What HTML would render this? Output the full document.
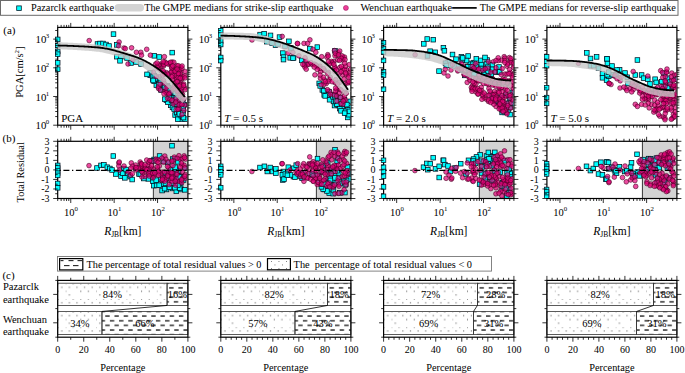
<!DOCTYPE html><html><head><meta charset="utf-8"><style>html,body{margin:0;padding:0;background:#fff;width:685px;height:373px;overflow:hidden}</style></head><body><svg width="685" height="373" viewBox="0 0 685 373" style="font-family:'Liberation Serif',serif;display:block">
<defs>
<style>
.c{fill:#00ffff;stroke:#012;stroke-width:0.75}
.p{fill:rgba(228,0,120,0.7);stroke:rgba(70,0,35,0.9);stroke-width:0.65}
text{fill:#000}
</style>
<clipPath id="ca0"><rect x="54.7" y="27.9" width="132.7" height="96.80000000000001"/></clipPath>
<clipPath id="cb0"><rect x="54.7" y="141.8" width="132.7" height="56.19999999999999"/></clipPath>
<clipPath id="ca1"><rect x="217.8" y="27.9" width="132.59999999999997" height="96.80000000000001"/></clipPath>
<clipPath id="cb1"><rect x="217.8" y="141.8" width="132.59999999999997" height="56.19999999999999"/></clipPath>
<clipPath id="ca2"><rect x="380.6" y="27.9" width="132.79999999999995" height="96.80000000000001"/></clipPath>
<clipPath id="cb2"><rect x="380.6" y="141.8" width="132.79999999999995" height="56.19999999999999"/></clipPath>
<clipPath id="ca3"><rect x="543.9" y="27.9" width="132.5" height="96.80000000000001"/></clipPath>
<clipPath id="cb3"><rect x="543.9" y="141.8" width="132.5" height="56.19999999999999"/></clipPath>
</defs>
<rect width="685" height="373" fill="#fff"/>
<rect x="0.5" y="0.5" width="677.5" height="14.8" fill="#fff" stroke="#6a6a6a" stroke-width="1"/>
<rect x="16.7" y="5.8999999999999995" width="4.6" height="4.6" class="c"/>
<text x="31" y="11.4" font-size="10" text-anchor="start" textLength="83" lengthAdjust="spacingAndGlyphs">Pazarclk earthquake</text>
<line x1="118.3" y1="7.7" x2="140.3" y2="7.7" stroke="#d3d3d3" stroke-width="7.4" stroke-linecap="round"/>
<text x="144.2" y="11.4" font-size="10" text-anchor="start" textLength="189" lengthAdjust="spacingAndGlyphs">The GMPE medians for strike-slip earthquake</text>
<circle cx="345.9" cy="7.9" r="2.5" fill="#ee3d99" stroke="#8a1050" stroke-width="0.5"/>
<text x="360.4" y="11.4" font-size="10" text-anchor="start" textLength="91.8" lengthAdjust="spacingAndGlyphs">Wenchuan earthquake</text>
<line x1="452.2" y1="7.9" x2="476.7" y2="7.9" stroke="#000" stroke-width="1.7" />
<text x="479.7" y="11.4" font-size="10" text-anchor="start" textLength="196.2" lengthAdjust="spacingAndGlyphs">The GMPE medians for reverse-slip earthquake</text>
<text x="3.3" y="33.5" font-size="11" text-anchor="start" >(a)</text>
<text x="2.6" y="142" font-size="11" text-anchor="start" >(b)</text>
<text x="2.4" y="278.5" font-size="11" text-anchor="start" >(c)</text>
<rect x="57.7" y="27.4" width="130.2" height="97.80000000000001" fill="none" stroke="#000" stroke-width="1.2"/>
<g clip-path="url(#ca0)">
<rect x="55.4" y="37.1" width="4.6" height="4.6" class="c"/>
<rect x="55.4" y="43.2" width="4.6" height="4.6" class="c"/>
<rect x="55.4" y="49.2" width="4.6" height="4.6" class="c"/>
<rect x="55.4" y="51.9" width="4.6" height="4.6" class="c"/>
<rect x="55.4" y="60.6" width="4.6" height="4.6" class="c"/>
<rect x="55.4" y="66.9" width="4.6" height="4.6" class="c"/>
<rect x="95.2" y="41.7" width="4.6" height="4.6" class="c"/>
<rect x="97.7" y="41.2" width="4.6" height="4.6" class="c"/>
<rect x="100.7" y="41.2" width="4.6" height="4.6" class="c"/>
<rect x="103.7" y="42.2" width="4.6" height="4.6" class="c"/>
<rect x="106.7" y="43.7" width="4.6" height="4.6" class="c"/>
<rect x="111.2" y="31.8" width="4.6" height="4.6" class="c"/>
<rect x="114.6" y="42.6" width="4.6" height="4.6" class="c"/>
<rect x="114.6" y="54.4" width="4.6" height="4.6" class="c"/>
<rect x="118.7" y="54.4" width="4.6" height="4.6" class="c"/>
<rect x="117.7" y="58.5" width="4.6" height="4.6" class="c"/>
<rect x="169.9" y="50.3" width="4.6" height="4.6" class="c"/>
<rect x="152" y="53.5" width="4.6" height="4.6" class="c"/>
<rect x="156.9" y="54.7" width="4.6" height="4.6" class="c"/>
<rect x="128.7" y="60.7" width="4.6" height="4.6" class="c"/>
<rect x="124.7" y="55.7" width="4.6" height="4.6" class="c"/>
<rect x="133.7" y="59.7" width="4.6" height="4.6" class="c"/>
<rect x="138.7" y="61.7" width="4.6" height="4.6" class="c"/>
<rect x="154.03" y="82.92" width="4.6" height="4.6" class="c"/>
<rect x="181.91" y="102.54" width="4.6" height="4.6" class="c"/>
<rect x="178.9" y="107.25" width="4.6" height="4.6" class="c"/>
<rect x="147.93" y="73.03" width="4.6" height="4.6" class="c"/>
<rect x="169.16" y="88.43" width="4.6" height="4.6" class="c"/>
<rect x="164.1" y="97.97" width="4.6" height="4.6" class="c"/>
<rect x="178.94" y="99" width="4.6" height="4.6" class="c"/>
<rect x="171.43" y="90.98" width="4.6" height="4.6" class="c"/>
<rect x="179.16" y="110.29" width="4.6" height="4.6" class="c"/>
<rect x="150.49" y="76.94" width="4.6" height="4.6" class="c"/>
<rect x="173.34" y="97" width="4.6" height="4.6" class="c"/>
<rect x="168.08" y="93.53" width="4.6" height="4.6" class="c"/>
<rect x="170.92" y="96.01" width="4.6" height="4.6" class="c"/>
<rect x="180.32" y="107.71" width="4.6" height="4.6" class="c"/>
<rect x="148.06" y="70.63" width="4.6" height="4.6" class="c"/>
<rect x="159.09" y="86.37" width="4.6" height="4.6" class="c"/>
<rect x="161.1" y="83.12" width="4.6" height="4.6" class="c"/>
<rect x="179.63" y="116.76" width="4.6" height="4.6" class="c"/>
<rect x="179.38" y="111.92" width="4.6" height="4.6" class="c"/>
<rect x="168.22" y="87.37" width="4.6" height="4.6" class="c"/>
<rect x="176.25" y="95.59" width="4.6" height="4.6" class="c"/>
<rect x="179.52" y="101.92" width="4.6" height="4.6" class="c"/>
<rect x="168.45" y="103.03" width="4.6" height="4.6" class="c"/>
<rect x="171.76" y="105.36" width="4.6" height="4.6" class="c"/>
<rect x="172.81" y="112.69" width="4.6" height="4.6" class="c"/>
<rect x="174.88" y="104.82" width="4.6" height="4.6" class="c"/>
<rect x="162.2" y="85.81" width="4.6" height="4.6" class="c"/>
<rect x="170.21" y="105.09" width="4.6" height="4.6" class="c"/>
<rect x="150.42" y="75.53" width="4.6" height="4.6" class="c"/>
<rect x="182.76" y="116.84" width="4.6" height="4.6" class="c"/>
<rect x="167.36" y="89.93" width="4.6" height="4.6" class="c"/>
<rect x="164.49" y="89.35" width="4.6" height="4.6" class="c"/>
<rect x="153.85" y="75.82" width="4.6" height="4.6" class="c"/>
<rect x="156.47" y="76.96" width="4.6" height="4.6" class="c"/>
<rect x="174.47" y="110.41" width="4.6" height="4.6" class="c"/>
<rect x="150.24" y="73.89" width="4.6" height="4.6" class="c"/>
<rect x="175.85" y="102.72" width="4.6" height="4.6" class="c"/>
<rect x="158.69" y="87.67" width="4.6" height="4.6" class="c"/>
<rect x="172.47" y="98.5" width="4.6" height="4.6" class="c"/>
<rect x="179.88" y="114.59" width="4.6" height="4.6" class="c"/>
<rect x="165.21" y="83.52" width="4.6" height="4.6" class="c"/>
<rect x="165.53" y="99.95" width="4.6" height="4.6" class="c"/>
<rect x="175.86" y="114.5" width="4.6" height="4.6" class="c"/>
<rect x="158.23" y="80.1" width="4.6" height="4.6" class="c"/>
<rect x="177.29" y="106.91" width="4.6" height="4.6" class="c"/>
<rect x="162.18" y="83.59" width="4.6" height="4.6" class="c"/>
<rect x="175.47" y="99.21" width="4.6" height="4.6" class="c"/>
<rect x="151.75" y="79.02" width="4.6" height="4.6" class="c"/>
<rect x="175.51" y="116.97" width="4.6" height="4.6" class="c"/>
<rect x="172.77" y="99.78" width="4.6" height="4.6" class="c"/>
<rect x="153.04" y="76.42" width="4.6" height="4.6" class="c"/>
<rect x="164.36" y="84.27" width="4.6" height="4.6" class="c"/>
<rect x="176.37" y="109.73" width="4.6" height="4.6" class="c"/>
<rect x="144.71" y="72.08" width="4.6" height="4.6" class="c"/>
<rect x="166.41" y="85.25" width="4.6" height="4.6" class="c"/>
<rect x="178.93" y="113.37" width="4.6" height="4.6" class="c"/>
<rect x="162.3" y="84.79" width="4.6" height="4.6" class="c"/>
<rect x="180.53" y="99.43" width="4.6" height="4.6" class="c"/>
<rect x="162.46" y="96.84" width="4.6" height="4.6" class="c"/>
<rect x="174.06" y="95.32" width="4.6" height="4.6" class="c"/>
<rect x="156.39" y="82.39" width="4.6" height="4.6" class="c"/>
<rect x="166.34" y="89.64" width="4.6" height="4.6" class="c"/>
<rect x="176.93" y="103" width="4.6" height="4.6" class="c"/>
<rect x="180.66" y="108.78" width="4.6" height="4.6" class="c"/>
<rect x="180.8" y="106.03" width="4.6" height="4.6" class="c"/>
<rect x="171.87" y="106.98" width="4.6" height="4.6" class="c"/>
<rect x="152.05" y="73.38" width="4.6" height="4.6" class="c"/>
<rect x="179.91" y="113.17" width="4.6" height="4.6" class="c"/>
<rect x="150.84" y="78.14" width="4.6" height="4.6" class="c"/>
<rect x="174.34" y="101.84" width="4.6" height="4.6" class="c"/>
<rect x="177.49" y="101.25" width="4.6" height="4.6" class="c"/>
<rect x="181.16" y="115.32" width="4.6" height="4.6" class="c"/>
<rect x="177.08" y="111.63" width="4.6" height="4.6" class="c"/>
<rect x="169.16" y="97.91" width="4.6" height="4.6" class="c"/>
<rect x="180.52" y="110.83" width="4.6" height="4.6" class="c"/>
<rect x="168.64" y="89.56" width="4.6" height="4.6" class="c"/>
<rect x="165.59" y="87.72" width="4.6" height="4.6" class="c"/>
<rect x="167.09" y="95.6" width="4.6" height="4.6" class="c"/>
<circle cx="89.2" cy="40.6" r="2.35" class="p"/>
<circle cx="119.1" cy="42" r="2.35" class="p"/>
<circle cx="118.6" cy="45.8" r="2.35" class="p"/>
<circle cx="124" cy="48" r="2.35" class="p"/>
<circle cx="125.3" cy="48.6" r="2.35" class="p"/>
<circle cx="131.6" cy="47.8" r="2.35" class="p"/>
<circle cx="136.4" cy="52.3" r="2.35" class="p"/>
<circle cx="140.8" cy="52.3" r="2.35" class="p"/>
<circle cx="146.7" cy="49.3" r="2.35" class="p"/>
<circle cx="141.5" cy="55.2" r="2.35" class="p"/>
<circle cx="150.4" cy="55.2" r="2.35" class="p"/>
<circle cx="164.4" cy="56.7" r="2.35" class="p"/>
<circle cx="133" cy="60" r="2.35" class="p"/>
<circle cx="128" cy="64" r="2.35" class="p"/>
<circle cx="180.66" cy="76.14" r="2.35" class="p"/>
<circle cx="172.04" cy="62.02" r="2.35" class="p"/>
<circle cx="178.36" cy="80.91" r="2.35" class="p"/>
<circle cx="161.31" cy="70.71" r="2.35" class="p"/>
<circle cx="178.26" cy="71.38" r="2.35" class="p"/>
<circle cx="184.81" cy="87.82" r="2.35" class="p"/>
<circle cx="171.78" cy="71.24" r="2.35" class="p"/>
<circle cx="171" cy="65.29" r="2.35" class="p"/>
<circle cx="169.24" cy="63.31" r="2.35" class="p"/>
<circle cx="173.38" cy="70.62" r="2.35" class="p"/>
<circle cx="181.04" cy="79.85" r="2.35" class="p"/>
<circle cx="160.93" cy="64.02" r="2.35" class="p"/>
<circle cx="181.51" cy="92.87" r="2.35" class="p"/>
<circle cx="182.17" cy="78.46" r="2.35" class="p"/>
<circle cx="180.9" cy="71.43" r="2.35" class="p"/>
<circle cx="182.74" cy="76.64" r="2.35" class="p"/>
<circle cx="175.47" cy="70.09" r="2.35" class="p"/>
<circle cx="178.82" cy="68.83" r="2.35" class="p"/>
<circle cx="180.59" cy="67.09" r="2.35" class="p"/>
<circle cx="166.63" cy="72.72" r="2.35" class="p"/>
<circle cx="176.43" cy="67.61" r="2.35" class="p"/>
<circle cx="175.27" cy="76.96" r="2.35" class="p"/>
<circle cx="181.89" cy="84.39" r="2.35" class="p"/>
<circle cx="180.12" cy="73.65" r="2.35" class="p"/>
<circle cx="171.85" cy="68.26" r="2.35" class="p"/>
<circle cx="162.96" cy="63.71" r="2.35" class="p"/>
<circle cx="176.63" cy="65.76" r="2.35" class="p"/>
<circle cx="177.52" cy="74.51" r="2.35" class="p"/>
<circle cx="168.9" cy="74.6" r="2.35" class="p"/>
<circle cx="158.4" cy="68.52" r="2.35" class="p"/>
<circle cx="163.8" cy="72.62" r="2.35" class="p"/>
<circle cx="185.12" cy="89.66" r="2.35" class="p"/>
<circle cx="179.53" cy="89.09" r="2.35" class="p"/>
<circle cx="176.38" cy="79.51" r="2.35" class="p"/>
<circle cx="161.6" cy="65.91" r="2.35" class="p"/>
<circle cx="184.91" cy="75.86" r="2.35" class="p"/>
<circle cx="171.17" cy="72.43" r="2.35" class="p"/>
<circle cx="174.89" cy="75.1" r="2.35" class="p"/>
<circle cx="185.12" cy="71.56" r="2.35" class="p"/>
<circle cx="178.19" cy="77.38" r="2.35" class="p"/>
<circle cx="179.99" cy="84.32" r="2.35" class="p"/>
<circle cx="172.42" cy="75.35" r="2.35" class="p"/>
<circle cx="181.7" cy="88.1" r="2.35" class="p"/>
<circle cx="179.27" cy="70.3" r="2.35" class="p"/>
<circle cx="175.92" cy="82.11" r="2.35" class="p"/>
<circle cx="163.57" cy="65.96" r="2.35" class="p"/>
<circle cx="163.07" cy="70.78" r="2.35" class="p"/>
<circle cx="163.94" cy="64.62" r="2.35" class="p"/>
<circle cx="177.97" cy="85.07" r="2.35" class="p"/>
<circle cx="173.8" cy="62.26" r="2.35" class="p"/>
<circle cx="155.61" cy="64.03" r="2.35" class="p"/>
<circle cx="164.82" cy="61.79" r="2.35" class="p"/>
<circle cx="178.35" cy="73.5" r="2.35" class="p"/>
<circle cx="167.98" cy="64.04" r="2.35" class="p"/>
<circle cx="183.73" cy="84.03" r="2.35" class="p"/>
<circle cx="158.62" cy="65.19" r="2.35" class="p"/>
<circle cx="174.58" cy="83.81" r="2.35" class="p"/>
<circle cx="157.03" cy="67.15" r="2.35" class="p"/>
<circle cx="172.28" cy="79.46" r="2.35" class="p"/>
<circle cx="184.97" cy="77.95" r="2.35" class="p"/>
<circle cx="157.02" cy="62.93" r="2.35" class="p"/>
<circle cx="166.34" cy="63.16" r="2.35" class="p"/>
<circle cx="178.12" cy="65.69" r="2.35" class="p"/>
<circle cx="170.45" cy="62.37" r="2.35" class="p"/>
<circle cx="180.66" cy="91.07" r="2.35" class="p"/>
<circle cx="183.64" cy="85.58" r="2.35" class="p"/>
<circle cx="171.84" cy="76.82" r="2.35" class="p"/>
<circle cx="180.23" cy="78.27" r="2.35" class="p"/>
<circle cx="175.03" cy="71.31" r="2.35" class="p"/>
<circle cx="177.05" cy="69.02" r="2.35" class="p"/>
<circle cx="167.44" cy="73.99" r="2.35" class="p"/>
<circle cx="171.53" cy="66.84" r="2.35" class="p"/>
<circle cx="181.97" cy="68.3" r="2.35" class="p"/>
<circle cx="172.78" cy="65.87" r="2.35" class="p"/>
<circle cx="177.2" cy="81.59" r="2.35" class="p"/>
<circle cx="164.69" cy="74.36" r="2.35" class="p"/>
<circle cx="182.54" cy="94.52" r="2.35" class="p"/>
<circle cx="163.21" cy="61.73" r="2.35" class="p"/>
<circle cx="182.08" cy="66.01" r="2.35" class="p"/>
<circle cx="179.55" cy="85.99" r="2.35" class="p"/>
<circle cx="184.88" cy="105.02" r="2.35" class="p"/>
<circle cx="167.92" cy="86.73" r="2.35" class="p"/>
<circle cx="162.6" cy="75.4" r="2.35" class="p"/>
<circle cx="163.54" cy="80.62" r="2.35" class="p"/>
<circle cx="178.36" cy="92.11" r="2.35" class="p"/>
<circle cx="174.03" cy="86.47" r="2.35" class="p"/>
<circle cx="153.37" cy="72.15" r="2.35" class="p"/>
<circle cx="182.66" cy="100.13" r="2.35" class="p"/>
<circle cx="176.93" cy="90.99" r="2.35" class="p"/>
<circle cx="179.17" cy="95.69" r="2.35" class="p"/>
<circle cx="183.96" cy="98.4" r="2.35" class="p"/>
<circle cx="159.02" cy="76.75" r="2.35" class="p"/>
<circle cx="156.13" cy="76.53" r="2.35" class="p"/>
<circle cx="173.14" cy="88.88" r="2.35" class="p"/>
<circle cx="164.46" cy="83.61" r="2.35" class="p"/>
<circle cx="158.53" cy="88.53" r="2.35" class="p"/>
<circle cx="167.54" cy="98.6" r="2.35" class="p"/>
<circle cx="164.8" cy="91.3" r="2.35" class="p"/>
<circle cx="180.48" cy="103.68" r="2.35" class="p"/>
<circle cx="176.14" cy="109.52" r="2.35" class="p"/>
<circle cx="178.19" cy="100.41" r="2.35" class="p"/>
<circle cx="179.22" cy="108.44" r="2.35" class="p"/>
<circle cx="158.5" cy="86.97" r="2.35" class="p"/>
<circle cx="173.4" cy="104.1" r="2.35" class="p"/>
<circle cx="175.74" cy="98.83" r="2.35" class="p"/>
<circle cx="170.18" cy="99.3" r="2.35" class="p"/>
<circle cx="167.47" cy="93.7" r="2.35" class="p"/>
<circle cx="166.29" cy="92.53" r="2.35" class="p"/>
<circle cx="183.94" cy="110.32" r="2.35" class="p"/>
<circle cx="177.95" cy="109.27" r="2.35" class="p"/>
<circle cx="170.22" cy="92.34" r="2.35" class="p"/>
<circle cx="169.05" cy="94.03" r="2.35" class="p"/>
<circle cx="160.34" cy="90.08" r="2.35" class="p"/>
<circle cx="166.02" cy="88.1" r="2.35" class="p"/>
<circle cx="178.69" cy="104.7" r="2.35" class="p"/>
<circle cx="181.85" cy="104.61" r="2.35" class="p"/>
<circle cx="172.14" cy="100.25" r="2.35" class="p"/>
<circle cx="175.75" cy="102.14" r="2.35" class="p"/>
<circle cx="181.85" cy="114.65" r="2.35" class="p"/>
<circle cx="160" cy="84.15" r="2.35" class="p"/>
<circle cx="163.98" cy="93.76" r="2.35" class="p"/>
</g>
<path d="M57.5,45.7 L58.57,45.73 L59.64,45.77 L60.71,45.81 L61.78,45.85 L62.85,45.89 L63.92,45.93 L64.99,45.98 L66.06,46.03 L67.13,46.08 L68.2,46.13 L69.27,46.18 L70.34,46.24 L71.41,46.3 L72.48,46.36 L73.55,46.41 L74.62,46.48 L75.69,46.54 L76.76,46.6 L77.83,46.67 L78.89,46.73 L79.96,46.8 L81.03,46.86 L82.1,46.93 L83.17,47 L84.24,47.07 L85.31,47.14 L86.38,47.21 L87.45,47.29 L88.52,47.37 L89.59,47.45 L90.66,47.54 L91.73,47.63 L92.8,47.72 L93.87,47.82 L94.94,47.92 L96.01,48.03 L97.08,48.15 L98.15,48.27 L99.22,48.4 L100.29,48.54 L101.36,48.7 L102.43,48.9 L103.5,49.12 L104.57,49.36 L105.64,49.61 L106.71,49.88 L107.78,50.15 L108.85,50.42 L109.92,50.68 L110.99,50.94 L112.06,51.21 L113.13,51.49 L114.2,51.77 L115.27,52.06 L116.34,52.35 L117.41,52.65 L118.48,52.96 L119.55,53.27 L120.62,53.58 L121.68,53.89 L122.75,54.21 L123.82,54.53 L124.89,54.86 L125.96,55.19 L127.03,55.54 L128.1,55.91 L129.17,56.29 L130.24,56.69 L131.31,57.12 L132.38,57.56 L133.45,58.02 L134.52,58.5 L135.59,59.01 L136.66,59.53 L137.73,60.08 L138.8,60.64 L139.87,61.23 L140.94,61.84 L142.01,62.51 L143.08,63.21 L144.15,63.94 L145.22,64.69 L146.29,65.47 L147.36,66.25 L148.43,67.04 L149.5,67.83 L150.57,68.62 L151.64,69.41 L152.71,70.22 L153.78,71.04 L154.85,71.87 L155.92,72.71 L156.99,73.56 L158.06,74.41 L159.13,75.28 L160.2,76.14 L161.27,77.01 L162.34,77.88 L163.41,78.75 L164.47,79.64 L165.54,80.55 L166.61,81.48 L167.68,82.45 L168.75,83.45 L169.82,84.51 L170.89,85.63 L171.96,86.79 L173.03,87.98 L174.1,89.18 L175.17,90.38 L176.24,91.57 L177.31,92.72 L178.38,93.85 L179.45,94.97 L180.52,96.09 L181.59,97.2 L182.66,98.31 L183.73,99.41 L184.8,100.5" fill="none" stroke="rgba(200,200,200,0.8)" stroke-width="7" stroke-linecap="butt"/>
<path d="M57.5,45.5 L58.57,45.52 L59.64,45.54 L60.71,45.57 L61.78,45.59 L62.85,45.62 L63.92,45.65 L64.99,45.69 L66.06,45.72 L67.13,45.76 L68.2,45.79 L69.27,45.83 L70.34,45.88 L71.41,45.92 L72.48,45.96 L73.55,46.01 L74.62,46.05 L75.69,46.1 L76.76,46.15 L77.83,46.2 L78.89,46.25 L79.96,46.3 L81.03,46.35 L82.1,46.4 L83.17,46.46 L84.24,46.51 L85.31,46.57 L86.38,46.63 L87.45,46.7 L88.52,46.76 L89.59,46.83 L90.66,46.9 L91.73,46.98 L92.8,47.06 L93.87,47.14 L94.94,47.23 L96.01,47.32 L97.08,47.42 L98.15,47.52 L99.22,47.62 L100.29,47.73 L101.36,47.86 L102.43,48 L103.5,48.17 L104.57,48.34 L105.64,48.53 L106.71,48.74 L107.78,48.95 L108.85,49.16 L109.92,49.38 L110.99,49.62 L112.06,49.87 L113.13,50.14 L114.2,50.43 L115.27,50.73 L116.34,51.04 L117.41,51.35 L118.48,51.66 L119.55,51.97 L120.62,52.28 L121.68,52.58 L122.75,52.89 L123.82,53.2 L124.89,53.52 L125.96,53.84 L127.03,54.17 L128.1,54.5 L129.17,54.83 L130.24,55.18 L131.31,55.52 L132.38,55.87 L133.45,56.22 L134.52,56.57 L135.59,56.94 L136.66,57.32 L137.73,57.71 L138.8,58.12 L139.87,58.55 L140.94,59 L142.01,59.48 L143.08,59.99 L144.15,60.52 L145.22,61.07 L146.29,61.63 L147.36,62.22 L148.43,62.81 L149.5,63.41 L150.57,64.03 L151.64,64.66 L152.71,65.3 L153.78,65.96 L154.85,66.65 L155.92,67.35 L156.99,68.08 L158.06,68.83 L159.13,69.6 L160.2,70.4 L161.27,71.22 L162.34,72.08 L163.41,72.97 L164.47,73.88 L165.54,74.83 L166.61,75.81 L167.68,76.81 L168.75,77.85 L169.82,78.94 L170.89,80.09 L171.96,81.28 L173.03,82.51 L174.1,83.78 L175.17,85.06 L176.24,86.35 L177.31,87.65 L178.38,88.94 L179.45,90.24 L180.52,91.56 L181.59,92.9 L182.66,94.25 L183.73,95.62 L184.8,97" fill="none" stroke="#000" stroke-width="1.8"/>
<line x1="57.7" y1="27.4" x2="57.7" y2="24.9" stroke="#000" stroke-width="0.8" />
<line x1="57.7" y1="125.2" x2="57.7" y2="127.7" stroke="#000" stroke-width="0.8" />
<line x1="61.14" y1="27.4" x2="61.14" y2="24.9" stroke="#000" stroke-width="0.8" />
<line x1="61.14" y1="125.2" x2="61.14" y2="127.7" stroke="#000" stroke-width="0.8" />
<line x1="64.04" y1="27.4" x2="64.04" y2="24.9" stroke="#000" stroke-width="0.8" />
<line x1="64.04" y1="125.2" x2="64.04" y2="127.7" stroke="#000" stroke-width="0.8" />
<line x1="66.56" y1="27.4" x2="66.56" y2="24.9" stroke="#000" stroke-width="0.8" />
<line x1="66.56" y1="125.2" x2="66.56" y2="127.7" stroke="#000" stroke-width="0.8" />
<line x1="68.78" y1="27.4" x2="68.78" y2="24.9" stroke="#000" stroke-width="0.8" />
<line x1="68.78" y1="125.2" x2="68.78" y2="127.7" stroke="#000" stroke-width="0.8" />
<line x1="70.76" y1="27.4" x2="70.76" y2="22.9" stroke="#000" stroke-width="0.8" />
<line x1="70.76" y1="125.2" x2="70.76" y2="129.7" stroke="#000" stroke-width="0.8" />
<line x1="83.83" y1="27.4" x2="83.83" y2="24.9" stroke="#000" stroke-width="0.8" />
<line x1="83.83" y1="125.2" x2="83.83" y2="127.7" stroke="#000" stroke-width="0.8" />
<line x1="91.47" y1="27.4" x2="91.47" y2="24.9" stroke="#000" stroke-width="0.8" />
<line x1="91.47" y1="125.2" x2="91.47" y2="127.7" stroke="#000" stroke-width="0.8" />
<line x1="96.89" y1="27.4" x2="96.89" y2="24.9" stroke="#000" stroke-width="0.8" />
<line x1="96.89" y1="125.2" x2="96.89" y2="127.7" stroke="#000" stroke-width="0.8" />
<line x1="101.1" y1="27.4" x2="101.1" y2="24.9" stroke="#000" stroke-width="0.8" />
<line x1="101.1" y1="125.2" x2="101.1" y2="127.7" stroke="#000" stroke-width="0.8" />
<line x1="104.54" y1="27.4" x2="104.54" y2="24.9" stroke="#000" stroke-width="0.8" />
<line x1="104.54" y1="125.2" x2="104.54" y2="127.7" stroke="#000" stroke-width="0.8" />
<line x1="107.44" y1="27.4" x2="107.44" y2="24.9" stroke="#000" stroke-width="0.8" />
<line x1="107.44" y1="125.2" x2="107.44" y2="127.7" stroke="#000" stroke-width="0.8" />
<line x1="109.96" y1="27.4" x2="109.96" y2="24.9" stroke="#000" stroke-width="0.8" />
<line x1="109.96" y1="125.2" x2="109.96" y2="127.7" stroke="#000" stroke-width="0.8" />
<line x1="112.18" y1="27.4" x2="112.18" y2="24.9" stroke="#000" stroke-width="0.8" />
<line x1="112.18" y1="125.2" x2="112.18" y2="127.7" stroke="#000" stroke-width="0.8" />
<line x1="114.16" y1="27.4" x2="114.16" y2="22.9" stroke="#000" stroke-width="0.8" />
<line x1="114.16" y1="125.2" x2="114.16" y2="129.7" stroke="#000" stroke-width="0.8" />
<line x1="127.23" y1="27.4" x2="127.23" y2="24.9" stroke="#000" stroke-width="0.8" />
<line x1="127.23" y1="125.2" x2="127.23" y2="127.7" stroke="#000" stroke-width="0.8" />
<line x1="134.87" y1="27.4" x2="134.87" y2="24.9" stroke="#000" stroke-width="0.8" />
<line x1="134.87" y1="125.2" x2="134.87" y2="127.7" stroke="#000" stroke-width="0.8" />
<line x1="140.29" y1="27.4" x2="140.29" y2="24.9" stroke="#000" stroke-width="0.8" />
<line x1="140.29" y1="125.2" x2="140.29" y2="127.7" stroke="#000" stroke-width="0.8" />
<line x1="144.5" y1="27.4" x2="144.5" y2="24.9" stroke="#000" stroke-width="0.8" />
<line x1="144.5" y1="125.2" x2="144.5" y2="127.7" stroke="#000" stroke-width="0.8" />
<line x1="147.94" y1="27.4" x2="147.94" y2="24.9" stroke="#000" stroke-width="0.8" />
<line x1="147.94" y1="125.2" x2="147.94" y2="127.7" stroke="#000" stroke-width="0.8" />
<line x1="150.84" y1="27.4" x2="150.84" y2="24.9" stroke="#000" stroke-width="0.8" />
<line x1="150.84" y1="125.2" x2="150.84" y2="127.7" stroke="#000" stroke-width="0.8" />
<line x1="153.36" y1="27.4" x2="153.36" y2="24.9" stroke="#000" stroke-width="0.8" />
<line x1="153.36" y1="125.2" x2="153.36" y2="127.7" stroke="#000" stroke-width="0.8" />
<line x1="155.58" y1="27.4" x2="155.58" y2="24.9" stroke="#000" stroke-width="0.8" />
<line x1="155.58" y1="125.2" x2="155.58" y2="127.7" stroke="#000" stroke-width="0.8" />
<line x1="157.56" y1="27.4" x2="157.56" y2="22.9" stroke="#000" stroke-width="0.8" />
<line x1="157.56" y1="125.2" x2="157.56" y2="129.7" stroke="#000" stroke-width="0.8" />
<line x1="170.63" y1="27.4" x2="170.63" y2="24.9" stroke="#000" stroke-width="0.8" />
<line x1="170.63" y1="125.2" x2="170.63" y2="127.7" stroke="#000" stroke-width="0.8" />
<line x1="178.27" y1="27.4" x2="178.27" y2="24.9" stroke="#000" stroke-width="0.8" />
<line x1="178.27" y1="125.2" x2="178.27" y2="127.7" stroke="#000" stroke-width="0.8" />
<line x1="183.69" y1="27.4" x2="183.69" y2="24.9" stroke="#000" stroke-width="0.8" />
<line x1="183.69" y1="125.2" x2="183.69" y2="127.7" stroke="#000" stroke-width="0.8" />
<line x1="187.9" y1="27.4" x2="187.9" y2="24.9" stroke="#000" stroke-width="0.8" />
<line x1="187.9" y1="125.2" x2="187.9" y2="127.7" stroke="#000" stroke-width="0.8" />
<line x1="57.7" y1="125.2" x2="53.2" y2="125.2" stroke="#000" stroke-width="0.8" />
<line x1="187.9" y1="125.2" x2="192.4" y2="125.2" stroke="#000" stroke-width="0.8" />
<line x1="57.7" y1="116.56" x2="55.2" y2="116.56" stroke="#000" stroke-width="0.8" />
<line x1="187.9" y1="116.56" x2="190.4" y2="116.56" stroke="#000" stroke-width="0.8" />
<line x1="57.7" y1="111.51" x2="55.2" y2="111.51" stroke="#000" stroke-width="0.8" />
<line x1="187.9" y1="111.51" x2="190.4" y2="111.51" stroke="#000" stroke-width="0.8" />
<line x1="57.7" y1="107.92" x2="55.2" y2="107.92" stroke="#000" stroke-width="0.8" />
<line x1="187.9" y1="107.92" x2="190.4" y2="107.92" stroke="#000" stroke-width="0.8" />
<line x1="57.7" y1="105.14" x2="55.2" y2="105.14" stroke="#000" stroke-width="0.8" />
<line x1="187.9" y1="105.14" x2="190.4" y2="105.14" stroke="#000" stroke-width="0.8" />
<line x1="57.7" y1="102.87" x2="55.2" y2="102.87" stroke="#000" stroke-width="0.8" />
<line x1="187.9" y1="102.87" x2="190.4" y2="102.87" stroke="#000" stroke-width="0.8" />
<line x1="57.7" y1="100.95" x2="55.2" y2="100.95" stroke="#000" stroke-width="0.8" />
<line x1="187.9" y1="100.95" x2="190.4" y2="100.95" stroke="#000" stroke-width="0.8" />
<line x1="57.7" y1="99.28" x2="55.2" y2="99.28" stroke="#000" stroke-width="0.8" />
<line x1="187.9" y1="99.28" x2="190.4" y2="99.28" stroke="#000" stroke-width="0.8" />
<line x1="57.7" y1="97.82" x2="55.2" y2="97.82" stroke="#000" stroke-width="0.8" />
<line x1="187.9" y1="97.82" x2="190.4" y2="97.82" stroke="#000" stroke-width="0.8" />
<line x1="57.7" y1="96.5" x2="53.2" y2="96.5" stroke="#000" stroke-width="0.8" />
<line x1="187.9" y1="96.5" x2="192.4" y2="96.5" stroke="#000" stroke-width="0.8" />
<line x1="57.7" y1="87.86" x2="55.2" y2="87.86" stroke="#000" stroke-width="0.8" />
<line x1="187.9" y1="87.86" x2="190.4" y2="87.86" stroke="#000" stroke-width="0.8" />
<line x1="57.7" y1="82.81" x2="55.2" y2="82.81" stroke="#000" stroke-width="0.8" />
<line x1="187.9" y1="82.81" x2="190.4" y2="82.81" stroke="#000" stroke-width="0.8" />
<line x1="57.7" y1="79.23" x2="55.2" y2="79.23" stroke="#000" stroke-width="0.8" />
<line x1="187.9" y1="79.23" x2="190.4" y2="79.23" stroke="#000" stroke-width="0.8" />
<line x1="57.7" y1="76.44" x2="55.2" y2="76.44" stroke="#000" stroke-width="0.8" />
<line x1="187.9" y1="76.44" x2="190.4" y2="76.44" stroke="#000" stroke-width="0.8" />
<line x1="57.7" y1="74.17" x2="55.2" y2="74.17" stroke="#000" stroke-width="0.8" />
<line x1="187.9" y1="74.17" x2="190.4" y2="74.17" stroke="#000" stroke-width="0.8" />
<line x1="57.7" y1="72.25" x2="55.2" y2="72.25" stroke="#000" stroke-width="0.8" />
<line x1="187.9" y1="72.25" x2="190.4" y2="72.25" stroke="#000" stroke-width="0.8" />
<line x1="57.7" y1="70.59" x2="55.2" y2="70.59" stroke="#000" stroke-width="0.8" />
<line x1="187.9" y1="70.59" x2="190.4" y2="70.59" stroke="#000" stroke-width="0.8" />
<line x1="57.7" y1="69.12" x2="55.2" y2="69.12" stroke="#000" stroke-width="0.8" />
<line x1="187.9" y1="69.12" x2="190.4" y2="69.12" stroke="#000" stroke-width="0.8" />
<line x1="57.7" y1="67.81" x2="53.2" y2="67.81" stroke="#000" stroke-width="0.8" />
<line x1="187.9" y1="67.81" x2="192.4" y2="67.81" stroke="#000" stroke-width="0.8" />
<line x1="57.7" y1="59.17" x2="55.2" y2="59.17" stroke="#000" stroke-width="0.8" />
<line x1="187.9" y1="59.17" x2="190.4" y2="59.17" stroke="#000" stroke-width="0.8" />
<line x1="57.7" y1="54.11" x2="55.2" y2="54.11" stroke="#000" stroke-width="0.8" />
<line x1="187.9" y1="54.11" x2="190.4" y2="54.11" stroke="#000" stroke-width="0.8" />
<line x1="57.7" y1="50.53" x2="55.2" y2="50.53" stroke="#000" stroke-width="0.8" />
<line x1="187.9" y1="50.53" x2="190.4" y2="50.53" stroke="#000" stroke-width="0.8" />
<line x1="57.7" y1="47.75" x2="55.2" y2="47.75" stroke="#000" stroke-width="0.8" />
<line x1="187.9" y1="47.75" x2="190.4" y2="47.75" stroke="#000" stroke-width="0.8" />
<line x1="57.7" y1="45.47" x2="55.2" y2="45.47" stroke="#000" stroke-width="0.8" />
<line x1="187.9" y1="45.47" x2="190.4" y2="45.47" stroke="#000" stroke-width="0.8" />
<line x1="57.7" y1="43.55" x2="55.2" y2="43.55" stroke="#000" stroke-width="0.8" />
<line x1="187.9" y1="43.55" x2="190.4" y2="43.55" stroke="#000" stroke-width="0.8" />
<line x1="57.7" y1="41.89" x2="55.2" y2="41.89" stroke="#000" stroke-width="0.8" />
<line x1="187.9" y1="41.89" x2="190.4" y2="41.89" stroke="#000" stroke-width="0.8" />
<line x1="57.7" y1="40.42" x2="55.2" y2="40.42" stroke="#000" stroke-width="0.8" />
<line x1="187.9" y1="40.42" x2="190.4" y2="40.42" stroke="#000" stroke-width="0.8" />
<line x1="57.7" y1="39.11" x2="53.2" y2="39.11" stroke="#000" stroke-width="0.8" />
<line x1="187.9" y1="39.11" x2="192.4" y2="39.11" stroke="#000" stroke-width="0.8" />
<line x1="57.7" y1="30.47" x2="55.2" y2="30.47" stroke="#000" stroke-width="0.8" />
<line x1="187.9" y1="30.47" x2="190.4" y2="30.47" stroke="#000" stroke-width="0.8" />
<text x="49.1" y="129.3" font-size="10.8" text-anchor="end" >10<tspan font-size="6.8" dy="-5" dx="-0.7">0</tspan></text>
<text x="49.1" y="100.6" font-size="10.8" text-anchor="end" >10<tspan font-size="6.8" dy="-5" dx="-0.7">1</tspan></text>
<text x="49.1" y="71.91" font-size="10.8" text-anchor="end" >10<tspan font-size="6.8" dy="-5" dx="-0.7">2</tspan></text>
<text x="49.1" y="43.21" font-size="10.8" text-anchor="end" >10<tspan font-size="6.8" dy="-5" dx="-0.7">3</tspan></text>
<text x="61.2" y="121.7" font-size="11" text-anchor="start" >PGA</text>
<rect x="153.36" y="141.3" width="34.54" height="57.19999999999999" fill="#d3d3d3"/>
<line x1="153.36" y1="141.3" x2="153.36" y2="198.5" stroke="#222" stroke-width="0.9" />
<rect x="57.7" y="141.3" width="130.2" height="57.19999999999999" fill="none" stroke="#000" stroke-width="1.2"/>
<g clip-path="url(#cb0)">
<rect x="55.4" y="163.1" width="4.6" height="4.6" class="c"/>
<rect x="55.4" y="165.7" width="4.6" height="4.6" class="c"/>
<rect x="55.4" y="168.3" width="4.6" height="4.6" class="c"/>
<rect x="55.4" y="170.9" width="4.6" height="4.6" class="c"/>
<rect x="55.4" y="173.1" width="4.6" height="4.6" class="c"/>
<rect x="55.4" y="181.2" width="4.6" height="4.6" class="c"/>
<rect x="55.4" y="185.5" width="4.6" height="4.6" class="c"/>
<rect x="94.7" y="165.7" width="4.6" height="4.6" class="c"/>
<rect x="98.7" y="163.1" width="4.6" height="4.6" class="c"/>
<rect x="101.6" y="162.6" width="4.6" height="4.6" class="c"/>
<rect x="105" y="164.9" width="4.6" height="4.6" class="c"/>
<rect x="107.6" y="166.2" width="4.6" height="4.6" class="c"/>
<rect x="111" y="153.7" width="4.6" height="4.6" class="c"/>
<rect x="113.6" y="171.7" width="4.6" height="4.6" class="c"/>
<rect x="118.7" y="173.8" width="4.6" height="4.6" class="c"/>
<rect x="118.7" y="170" width="4.6" height="4.6" class="c"/>
<rect x="169.7" y="143.4" width="4.6" height="4.6" class="c"/>
<rect x="157.3" y="153.7" width="4.6" height="4.6" class="c"/>
<rect x="151.8" y="157.2" width="4.6" height="4.6" class="c"/>
<rect x="146.2" y="175.2" width="4.6" height="4.6" class="c"/>
<rect x="125.6" y="172.6" width="4.6" height="4.6" class="c"/>
<rect x="128.1" y="174.3" width="4.6" height="4.6" class="c"/>
<rect x="136.7" y="171.7" width="4.6" height="4.6" class="c"/>
<rect x="152.2" y="178.6" width="4.6" height="4.6" class="c"/>
<rect x="164.2" y="187.2" width="4.6" height="4.6" class="c"/>
<rect x="178.8" y="187.2" width="4.6" height="4.6" class="c"/>
<rect x="181.3" y="177.7" width="4.6" height="4.6" class="c"/>
<rect x="160.7" y="182" width="4.6" height="4.6" class="c"/>
<rect x="109.7" y="167.7" width="4.6" height="4.6" class="c"/>
<rect x="122.7" y="167.7" width="4.6" height="4.6" class="c"/>
<rect x="175.11" y="178.48" width="4.6" height="4.6" class="c"/>
<rect x="178.33" y="183.65" width="4.6" height="4.6" class="c"/>
<rect x="174.62" y="185.42" width="4.6" height="4.6" class="c"/>
<rect x="150.57" y="178.71" width="4.6" height="4.6" class="c"/>
<rect x="159.79" y="188.24" width="4.6" height="4.6" class="c"/>
<rect x="170.17" y="186.16" width="4.6" height="4.6" class="c"/>
<rect x="162.55" y="174.24" width="4.6" height="4.6" class="c"/>
<rect x="166.77" y="170.98" width="4.6" height="4.6" class="c"/>
<rect x="177.15" y="182.33" width="4.6" height="4.6" class="c"/>
<rect x="174.51" y="176.79" width="4.6" height="4.6" class="c"/>
<rect x="182.59" y="187.56" width="4.6" height="4.6" class="c"/>
<rect x="175.28" y="173.59" width="4.6" height="4.6" class="c"/>
<rect x="151.56" y="183.36" width="4.6" height="4.6" class="c"/>
<rect x="174" y="189.05" width="4.6" height="4.6" class="c"/>
<rect x="158.08" y="177.11" width="4.6" height="4.6" class="c"/>
<rect x="163.54" y="173.49" width="4.6" height="4.6" class="c"/>
<rect x="154.32" y="183.1" width="4.6" height="4.6" class="c"/>
<rect x="162.31" y="186.35" width="4.6" height="4.6" class="c"/>
<rect x="172.31" y="175.95" width="4.6" height="4.6" class="c"/>
<rect x="177.33" y="185.8" width="4.6" height="4.6" class="c"/>
<rect x="160.42" y="175.47" width="4.6" height="4.6" class="c"/>
<rect x="171.63" y="172.5" width="4.6" height="4.6" class="c"/>
<rect x="175.6" y="183" width="4.6" height="4.6" class="c"/>
<rect x="172.5" y="185.31" width="4.6" height="4.6" class="c"/>
<rect x="163.14" y="181.07" width="4.6" height="4.6" class="c"/>
<rect x="151.01" y="171.99" width="4.6" height="4.6" class="c"/>
<rect x="171.1" y="179.12" width="4.6" height="4.6" class="c"/>
<rect x="167.18" y="185" width="4.6" height="4.6" class="c"/>
<rect x="169.82" y="180.77" width="4.6" height="4.6" class="c"/>
<rect x="166.95" y="175.78" width="4.6" height="4.6" class="c"/>
<rect x="153.85" y="177.87" width="4.6" height="4.6" class="c"/>
<rect x="178.13" y="174.38" width="4.6" height="4.6" class="c"/>
<rect x="147.92" y="175.33" width="4.6" height="4.6" class="c"/>
<rect x="156.86" y="182.94" width="4.6" height="4.6" class="c"/>
<rect x="121.38" y="166.57" width="4.6" height="4.6" class="c"/>
<rect x="129.87" y="177.24" width="4.6" height="4.6" class="c"/>
<rect x="122.57" y="175.56" width="4.6" height="4.6" class="c"/>
<rect x="138.03" y="171.95" width="4.6" height="4.6" class="c"/>
<rect x="146.35" y="168.87" width="4.6" height="4.6" class="c"/>
<rect x="145.89" y="176.6" width="4.6" height="4.6" class="c"/>
<rect x="139.17" y="162.99" width="4.6" height="4.6" class="c"/>
<rect x="141.62" y="176.21" width="4.6" height="4.6" class="c"/>
<rect x="133.42" y="165.66" width="4.6" height="4.6" class="c"/>
<rect x="120.32" y="170.89" width="4.6" height="4.6" class="c"/>
<rect x="123.8" y="167.22" width="4.6" height="4.6" class="c"/>
<rect x="147.01" y="166.85" width="4.6" height="4.6" class="c"/>
<rect x="168.33" y="167.33" width="4.6" height="4.6" class="c"/>
<rect x="175.19" y="173.56" width="4.6" height="4.6" class="c"/>
<rect x="166.07" y="172.85" width="4.6" height="4.6" class="c"/>
<rect x="176.36" y="168.78" width="4.6" height="4.6" class="c"/>
<rect x="162.41" y="170.47" width="4.6" height="4.6" class="c"/>
<rect x="170.29" y="174.18" width="4.6" height="4.6" class="c"/>
<rect x="173.77" y="167.34" width="4.6" height="4.6" class="c"/>
<rect x="182.41" y="166.01" width="4.6" height="4.6" class="c"/>
<rect x="176.9" y="174.74" width="4.6" height="4.6" class="c"/>
<rect x="170.37" y="156.73" width="4.6" height="4.6" class="c"/>
<rect x="149.68" y="158.34" width="4.6" height="4.6" class="c"/>
<rect x="172.98" y="156.67" width="4.6" height="4.6" class="c"/>
<rect x="172.91" y="164.94" width="4.6" height="4.6" class="c"/>
<rect x="161" y="159.09" width="4.6" height="4.6" class="c"/>
<rect x="151.53" y="158.46" width="4.6" height="4.6" class="c"/>
<rect x="175.7" y="159.54" width="4.6" height="4.6" class="c"/>
<rect x="173.25" y="171.14" width="4.6" height="4.6" class="c"/>
<rect x="165.53" y="160.16" width="4.6" height="4.6" class="c"/>
<circle cx="89" cy="165.6" r="2.35" class="p"/>
<circle cx="118.8" cy="162.9" r="2.35" class="p"/>
<circle cx="118.8" cy="166" r="2.35" class="p"/>
<circle cx="119.5" cy="170" r="2.35" class="p"/>
<circle cx="164.8" cy="156" r="2.35" class="p"/>
<circle cx="146.7" cy="160" r="2.35" class="p"/>
<circle cx="131.3" cy="162.9" r="2.35" class="p"/>
<circle cx="119.3" cy="162" r="2.35" class="p"/>
<circle cx="124" cy="166" r="2.35" class="p"/>
<circle cx="136" cy="168" r="2.35" class="p"/>
<circle cx="142" cy="166" r="2.35" class="p"/>
<circle cx="128" cy="172" r="2.35" class="p"/>
<circle cx="184.81" cy="178.57" r="2.35" class="p"/>
<circle cx="163.28" cy="180.46" r="2.35" class="p"/>
<circle cx="182.08" cy="165.19" r="2.35" class="p"/>
<circle cx="173.3" cy="173.28" r="2.35" class="p"/>
<circle cx="168.81" cy="173.9" r="2.35" class="p"/>
<circle cx="179.04" cy="181.55" r="2.35" class="p"/>
<circle cx="168.78" cy="167.74" r="2.35" class="p"/>
<circle cx="175.45" cy="185.22" r="2.35" class="p"/>
<circle cx="184.12" cy="155.87" r="2.35" class="p"/>
<circle cx="179.89" cy="159.04" r="2.35" class="p"/>
<circle cx="167.22" cy="172.68" r="2.35" class="p"/>
<circle cx="184.09" cy="165.15" r="2.35" class="p"/>
<circle cx="181.77" cy="182.7" r="2.35" class="p"/>
<circle cx="165.93" cy="159.24" r="2.35" class="p"/>
<circle cx="182.84" cy="158.69" r="2.35" class="p"/>
<circle cx="162.12" cy="172.13" r="2.35" class="p"/>
<circle cx="169.15" cy="176.69" r="2.35" class="p"/>
<circle cx="168.52" cy="162.01" r="2.35" class="p"/>
<circle cx="182.13" cy="178.48" r="2.35" class="p"/>
<circle cx="182.4" cy="171.83" r="2.35" class="p"/>
<circle cx="170.77" cy="180.63" r="2.35" class="p"/>
<circle cx="178.91" cy="155.69" r="2.35" class="p"/>
<circle cx="162.73" cy="177.12" r="2.35" class="p"/>
<circle cx="167.54" cy="166.58" r="2.35" class="p"/>
<circle cx="181.63" cy="179.87" r="2.35" class="p"/>
<circle cx="160.88" cy="173.93" r="2.35" class="p"/>
<circle cx="174.34" cy="157.09" r="2.35" class="p"/>
<circle cx="185.38" cy="174.66" r="2.35" class="p"/>
<circle cx="184.76" cy="176.28" r="2.35" class="p"/>
<circle cx="177.12" cy="158.29" r="2.35" class="p"/>
<circle cx="170.5" cy="172.57" r="2.35" class="p"/>
<circle cx="161.83" cy="158.08" r="2.35" class="p"/>
<circle cx="176.98" cy="172.88" r="2.35" class="p"/>
<circle cx="172.17" cy="181.74" r="2.35" class="p"/>
<circle cx="173.38" cy="176.79" r="2.35" class="p"/>
<circle cx="164.41" cy="178.14" r="2.35" class="p"/>
<circle cx="171.75" cy="176.85" r="2.35" class="p"/>
<circle cx="161.78" cy="180.45" r="2.35" class="p"/>
<circle cx="172.93" cy="165.59" r="2.35" class="p"/>
<circle cx="173.45" cy="160.99" r="2.35" class="p"/>
<circle cx="165.98" cy="179.19" r="2.35" class="p"/>
<circle cx="164.85" cy="181.24" r="2.35" class="p"/>
<circle cx="171.91" cy="178.17" r="2.35" class="p"/>
<circle cx="163.61" cy="162.24" r="2.35" class="p"/>
<circle cx="176.87" cy="174.6" r="2.35" class="p"/>
<circle cx="162.37" cy="179.25" r="2.35" class="p"/>
<circle cx="184.84" cy="167.93" r="2.35" class="p"/>
<circle cx="171.87" cy="172.64" r="2.35" class="p"/>
<circle cx="169.21" cy="184.6" r="2.35" class="p"/>
<circle cx="185.61" cy="159.08" r="2.35" class="p"/>
<circle cx="184.52" cy="157.52" r="2.35" class="p"/>
<circle cx="171.87" cy="161" r="2.35" class="p"/>
<circle cx="164.47" cy="172.02" r="2.35" class="p"/>
<circle cx="167.64" cy="175.92" r="2.35" class="p"/>
<circle cx="176.35" cy="178.99" r="2.35" class="p"/>
<circle cx="181.37" cy="163.06" r="2.35" class="p"/>
<circle cx="180.29" cy="167.25" r="2.35" class="p"/>
<circle cx="175.34" cy="181.23" r="2.35" class="p"/>
<circle cx="158.11" cy="159.7" r="2.35" class="p"/>
<circle cx="145.45" cy="171.68" r="2.35" class="p"/>
<circle cx="152.58" cy="175.06" r="2.35" class="p"/>
<circle cx="150.23" cy="174.47" r="2.35" class="p"/>
<circle cx="157.61" cy="168.98" r="2.35" class="p"/>
<circle cx="155.9" cy="159.21" r="2.35" class="p"/>
<circle cx="154.61" cy="175" r="2.35" class="p"/>
<circle cx="147.8" cy="165.17" r="2.35" class="p"/>
<circle cx="145.03" cy="176.54" r="2.35" class="p"/>
<circle cx="140.14" cy="161.98" r="2.35" class="p"/>
<circle cx="152.77" cy="168.53" r="2.35" class="p"/>
<circle cx="150.02" cy="172.98" r="2.35" class="p"/>
<circle cx="153.07" cy="177.8" r="2.35" class="p"/>
<circle cx="140.86" cy="163.71" r="2.35" class="p"/>
<circle cx="143.46" cy="169.99" r="2.35" class="p"/>
<circle cx="148.96" cy="162.24" r="2.35" class="p"/>
<circle cx="150.22" cy="167.89" r="2.35" class="p"/>
<circle cx="151.53" cy="161.48" r="2.35" class="p"/>
<circle cx="142" cy="168.8" r="2.35" class="p"/>
<circle cx="142.67" cy="172.91" r="2.35" class="p"/>
<circle cx="144.03" cy="166.83" r="2.35" class="p"/>
<circle cx="158.89" cy="173.12" r="2.35" class="p"/>
<circle cx="156.21" cy="161.33" r="2.35" class="p"/>
<circle cx="159.39" cy="165.96" r="2.35" class="p"/>
<circle cx="145.36" cy="168.83" r="2.35" class="p"/>
<circle cx="158.62" cy="171.6" r="2.35" class="p"/>
<circle cx="158.04" cy="162.43" r="2.35" class="p"/>
<circle cx="148.46" cy="172.87" r="2.35" class="p"/>
<circle cx="141.75" cy="171.6" r="2.35" class="p"/>
<circle cx="147.93" cy="169.59" r="2.35" class="p"/>
<circle cx="152.49" cy="173.23" r="2.35" class="p"/>
<circle cx="158.5" cy="175.15" r="2.35" class="p"/>
<circle cx="151.56" cy="165.78" r="2.35" class="p"/>
<circle cx="154.82" cy="172.9" r="2.35" class="p"/>
<circle cx="140.88" cy="166.17" r="2.35" class="p"/>
<circle cx="157.35" cy="166.84" r="2.35" class="p"/>
<circle cx="130.4" cy="175.11" r="2.35" class="p"/>
<circle cx="141.74" cy="164.04" r="2.35" class="p"/>
<circle cx="145.04" cy="164.75" r="2.35" class="p"/>
<circle cx="138.4" cy="168.12" r="2.35" class="p"/>
<circle cx="149.11" cy="176.05" r="2.35" class="p"/>
<circle cx="135.57" cy="165.01" r="2.35" class="p"/>
<circle cx="146.76" cy="169.63" r="2.35" class="p"/>
<circle cx="141.86" cy="176.97" r="2.35" class="p"/>
<circle cx="149.96" cy="160.61" r="2.35" class="p"/>
<circle cx="132.37" cy="173.7" r="2.35" class="p"/>
<circle cx="132.52" cy="166.15" r="2.35" class="p"/>
<circle cx="136" cy="169.92" r="2.35" class="p"/>
<circle cx="131.01" cy="168.12" r="2.35" class="p"/>
<circle cx="136.08" cy="167.52" r="2.35" class="p"/>
</g>
<line x1="57.7" y1="170.3" x2="187.9" y2="170.3" stroke="#000" stroke-width="1.2" stroke-dasharray="6,2.6,1.3,2.6" stroke-dashoffset="-5.7"/>
<line x1="57.7" y1="141.3" x2="57.7" y2="138.8" stroke="#000" stroke-width="0.8" />
<line x1="57.7" y1="198.5" x2="57.7" y2="201" stroke="#000" stroke-width="0.8" />
<line x1="61.14" y1="141.3" x2="61.14" y2="138.8" stroke="#000" stroke-width="0.8" />
<line x1="61.14" y1="198.5" x2="61.14" y2="201" stroke="#000" stroke-width="0.8" />
<line x1="64.04" y1="141.3" x2="64.04" y2="138.8" stroke="#000" stroke-width="0.8" />
<line x1="64.04" y1="198.5" x2="64.04" y2="201" stroke="#000" stroke-width="0.8" />
<line x1="66.56" y1="141.3" x2="66.56" y2="138.8" stroke="#000" stroke-width="0.8" />
<line x1="66.56" y1="198.5" x2="66.56" y2="201" stroke="#000" stroke-width="0.8" />
<line x1="68.78" y1="141.3" x2="68.78" y2="138.8" stroke="#000" stroke-width="0.8" />
<line x1="68.78" y1="198.5" x2="68.78" y2="201" stroke="#000" stroke-width="0.8" />
<line x1="70.76" y1="141.3" x2="70.76" y2="136.8" stroke="#000" stroke-width="0.8" />
<line x1="70.76" y1="198.5" x2="70.76" y2="203" stroke="#000" stroke-width="0.8" />
<line x1="83.83" y1="141.3" x2="83.83" y2="138.8" stroke="#000" stroke-width="0.8" />
<line x1="83.83" y1="198.5" x2="83.83" y2="201" stroke="#000" stroke-width="0.8" />
<line x1="91.47" y1="141.3" x2="91.47" y2="138.8" stroke="#000" stroke-width="0.8" />
<line x1="91.47" y1="198.5" x2="91.47" y2="201" stroke="#000" stroke-width="0.8" />
<line x1="96.89" y1="141.3" x2="96.89" y2="138.8" stroke="#000" stroke-width="0.8" />
<line x1="96.89" y1="198.5" x2="96.89" y2="201" stroke="#000" stroke-width="0.8" />
<line x1="101.1" y1="141.3" x2="101.1" y2="138.8" stroke="#000" stroke-width="0.8" />
<line x1="101.1" y1="198.5" x2="101.1" y2="201" stroke="#000" stroke-width="0.8" />
<line x1="104.54" y1="141.3" x2="104.54" y2="138.8" stroke="#000" stroke-width="0.8" />
<line x1="104.54" y1="198.5" x2="104.54" y2="201" stroke="#000" stroke-width="0.8" />
<line x1="107.44" y1="141.3" x2="107.44" y2="138.8" stroke="#000" stroke-width="0.8" />
<line x1="107.44" y1="198.5" x2="107.44" y2="201" stroke="#000" stroke-width="0.8" />
<line x1="109.96" y1="141.3" x2="109.96" y2="138.8" stroke="#000" stroke-width="0.8" />
<line x1="109.96" y1="198.5" x2="109.96" y2="201" stroke="#000" stroke-width="0.8" />
<line x1="112.18" y1="141.3" x2="112.18" y2="138.8" stroke="#000" stroke-width="0.8" />
<line x1="112.18" y1="198.5" x2="112.18" y2="201" stroke="#000" stroke-width="0.8" />
<line x1="114.16" y1="141.3" x2="114.16" y2="136.8" stroke="#000" stroke-width="0.8" />
<line x1="114.16" y1="198.5" x2="114.16" y2="203" stroke="#000" stroke-width="0.8" />
<line x1="127.23" y1="141.3" x2="127.23" y2="138.8" stroke="#000" stroke-width="0.8" />
<line x1="127.23" y1="198.5" x2="127.23" y2="201" stroke="#000" stroke-width="0.8" />
<line x1="134.87" y1="141.3" x2="134.87" y2="138.8" stroke="#000" stroke-width="0.8" />
<line x1="134.87" y1="198.5" x2="134.87" y2="201" stroke="#000" stroke-width="0.8" />
<line x1="140.29" y1="141.3" x2="140.29" y2="138.8" stroke="#000" stroke-width="0.8" />
<line x1="140.29" y1="198.5" x2="140.29" y2="201" stroke="#000" stroke-width="0.8" />
<line x1="144.5" y1="141.3" x2="144.5" y2="138.8" stroke="#000" stroke-width="0.8" />
<line x1="144.5" y1="198.5" x2="144.5" y2="201" stroke="#000" stroke-width="0.8" />
<line x1="147.94" y1="141.3" x2="147.94" y2="138.8" stroke="#000" stroke-width="0.8" />
<line x1="147.94" y1="198.5" x2="147.94" y2="201" stroke="#000" stroke-width="0.8" />
<line x1="150.84" y1="141.3" x2="150.84" y2="138.8" stroke="#000" stroke-width="0.8" />
<line x1="150.84" y1="198.5" x2="150.84" y2="201" stroke="#000" stroke-width="0.8" />
<line x1="153.36" y1="141.3" x2="153.36" y2="138.8" stroke="#000" stroke-width="0.8" />
<line x1="153.36" y1="198.5" x2="153.36" y2="201" stroke="#000" stroke-width="0.8" />
<line x1="155.58" y1="141.3" x2="155.58" y2="138.8" stroke="#000" stroke-width="0.8" />
<line x1="155.58" y1="198.5" x2="155.58" y2="201" stroke="#000" stroke-width="0.8" />
<line x1="157.56" y1="141.3" x2="157.56" y2="136.8" stroke="#000" stroke-width="0.8" />
<line x1="157.56" y1="198.5" x2="157.56" y2="203" stroke="#000" stroke-width="0.8" />
<line x1="170.63" y1="141.3" x2="170.63" y2="138.8" stroke="#000" stroke-width="0.8" />
<line x1="170.63" y1="198.5" x2="170.63" y2="201" stroke="#000" stroke-width="0.8" />
<line x1="178.27" y1="141.3" x2="178.27" y2="138.8" stroke="#000" stroke-width="0.8" />
<line x1="178.27" y1="198.5" x2="178.27" y2="201" stroke="#000" stroke-width="0.8" />
<line x1="183.69" y1="141.3" x2="183.69" y2="138.8" stroke="#000" stroke-width="0.8" />
<line x1="183.69" y1="198.5" x2="183.69" y2="201" stroke="#000" stroke-width="0.8" />
<line x1="187.9" y1="141.3" x2="187.9" y2="138.8" stroke="#000" stroke-width="0.8" />
<line x1="187.9" y1="198.5" x2="187.9" y2="201" stroke="#000" stroke-width="0.8" />
<line x1="57.7" y1="198.5" x2="53.2" y2="198.5" stroke="#000" stroke-width="0.8" />
<line x1="187.9" y1="198.5" x2="192.4" y2="198.5" stroke="#000" stroke-width="0.8" />
<line x1="57.7" y1="188.97" x2="53.2" y2="188.97" stroke="#000" stroke-width="0.8" />
<line x1="187.9" y1="188.97" x2="192.4" y2="188.97" stroke="#000" stroke-width="0.8" />
<line x1="57.7" y1="179.43" x2="53.2" y2="179.43" stroke="#000" stroke-width="0.8" />
<line x1="187.9" y1="179.43" x2="192.4" y2="179.43" stroke="#000" stroke-width="0.8" />
<line x1="57.7" y1="169.9" x2="53.2" y2="169.9" stroke="#000" stroke-width="0.8" />
<line x1="187.9" y1="169.9" x2="192.4" y2="169.9" stroke="#000" stroke-width="0.8" />
<line x1="57.7" y1="160.37" x2="53.2" y2="160.37" stroke="#000" stroke-width="0.8" />
<line x1="187.9" y1="160.37" x2="192.4" y2="160.37" stroke="#000" stroke-width="0.8" />
<line x1="57.7" y1="150.83" x2="53.2" y2="150.83" stroke="#000" stroke-width="0.8" />
<line x1="187.9" y1="150.83" x2="192.4" y2="150.83" stroke="#000" stroke-width="0.8" />
<line x1="57.7" y1="141.3" x2="53.2" y2="141.3" stroke="#000" stroke-width="0.8" />
<line x1="187.9" y1="141.3" x2="192.4" y2="141.3" stroke="#000" stroke-width="0.8" />
<line x1="57.7" y1="193.73" x2="55.2" y2="193.73" stroke="#000" stroke-width="0.8" />
<line x1="187.9" y1="193.73" x2="190.4" y2="193.73" stroke="#000" stroke-width="0.8" />
<line x1="57.7" y1="184.2" x2="55.2" y2="184.2" stroke="#000" stroke-width="0.8" />
<line x1="187.9" y1="184.2" x2="190.4" y2="184.2" stroke="#000" stroke-width="0.8" />
<line x1="57.7" y1="174.67" x2="55.2" y2="174.67" stroke="#000" stroke-width="0.8" />
<line x1="187.9" y1="174.67" x2="190.4" y2="174.67" stroke="#000" stroke-width="0.8" />
<line x1="57.7" y1="165.13" x2="55.2" y2="165.13" stroke="#000" stroke-width="0.8" />
<line x1="187.9" y1="165.13" x2="190.4" y2="165.13" stroke="#000" stroke-width="0.8" />
<line x1="57.7" y1="155.6" x2="55.2" y2="155.6" stroke="#000" stroke-width="0.8" />
<line x1="187.9" y1="155.6" x2="190.4" y2="155.6" stroke="#000" stroke-width="0.8" />
<line x1="57.7" y1="146.07" x2="55.2" y2="146.07" stroke="#000" stroke-width="0.8" />
<line x1="187.9" y1="146.07" x2="190.4" y2="146.07" stroke="#000" stroke-width="0.8" />
<text x="49.5" y="201.9" font-size="10" text-anchor="end" >-3</text>
<text x="49.5" y="192.37" font-size="10" text-anchor="end" >-2</text>
<text x="49.5" y="182.83" font-size="10" text-anchor="end" >-1</text>
<text x="49.5" y="173.3" font-size="10" text-anchor="end" >0</text>
<text x="49.5" y="163.77" font-size="10" text-anchor="end" >1</text>
<text x="49.5" y="154.23" font-size="10" text-anchor="end" >2</text>
<text x="49.5" y="144.7" font-size="10" text-anchor="end" >3</text>
<text x="71.06" y="216" font-size="10.5" text-anchor="middle" >10<tspan font-size="6.8" dy="-4.6">0</tspan></text>
<text x="114.46" y="216" font-size="10.5" text-anchor="middle" >10<tspan font-size="6.8" dy="-4.6">1</tspan></text>
<text x="157.86" y="216" font-size="10.5" text-anchor="middle" >10<tspan font-size="6.8" dy="-4.6">2</tspan></text>
<text x="122.8" y="234.8" font-size="11.5" text-anchor="middle" ><tspan font-style="italic">R</tspan><tspan font-size="7.5" dy="2.6">JB</tspan><tspan dy="-2.6">[km]</tspan></text>
<rect x="220.8" y="27.4" width="130.09999999999997" height="97.80000000000001" fill="none" stroke="#000" stroke-width="1.2"/>
<g clip-path="url(#ca1)">
<rect x="218.4" y="28.3" width="4.6" height="4.6" class="c"/>
<rect x="218.4" y="32.8" width="4.6" height="4.6" class="c"/>
<rect x="218.4" y="38.8" width="4.6" height="4.6" class="c"/>
<rect x="218.4" y="42.2" width="4.6" height="4.6" class="c"/>
<rect x="218.4" y="55.2" width="4.6" height="4.6" class="c"/>
<rect x="218.4" y="58.3" width="4.6" height="4.6" class="c"/>
<rect x="257.8" y="32.3" width="4.6" height="4.6" class="c"/>
<rect x="261.8" y="31.4" width="4.6" height="4.6" class="c"/>
<rect x="268.2" y="33.1" width="4.6" height="4.6" class="c"/>
<rect x="264.5" y="39.4" width="4.6" height="4.6" class="c"/>
<rect x="273.2" y="42.8" width="4.6" height="4.6" class="c"/>
<rect x="277.2" y="34.8" width="4.6" height="4.6" class="c"/>
<rect x="286.6" y="39" width="4.6" height="4.6" class="c"/>
<rect x="280.6" y="50.8" width="4.6" height="4.6" class="c"/>
<rect x="281.2" y="54.8" width="4.6" height="4.6" class="c"/>
<rect x="281.2" y="57.3" width="4.6" height="4.6" class="c"/>
<rect x="287.9" y="55.5" width="4.6" height="4.6" class="c"/>
<rect x="291.3" y="55.5" width="4.6" height="4.6" class="c"/>
<rect x="269.7" y="40.7" width="4.6" height="4.6" class="c"/>
<rect x="275.7" y="41.7" width="4.6" height="4.6" class="c"/>
<rect x="282.7" y="43.7" width="4.6" height="4.6" class="c"/>
<rect x="288.7" y="45.7" width="4.6" height="4.6" class="c"/>
<rect x="315" y="44.8" width="4.6" height="4.6" class="c"/>
<rect x="307.6" y="46.3" width="4.6" height="4.6" class="c"/>
<rect x="290.7" y="55.9" width="4.6" height="4.6" class="c"/>
<rect x="299.5" y="58.1" width="4.6" height="4.6" class="c"/>
<rect x="302.5" y="61.8" width="4.6" height="4.6" class="c"/>
<rect x="332.7" y="48.5" width="4.6" height="4.6" class="c"/>
<rect x="321.9" y="92.6" width="4.6" height="4.6" class="c"/>
<rect x="326.6" y="92.6" width="4.6" height="4.6" class="c"/>
<rect x="343.97" y="110.49" width="4.6" height="4.6" class="c"/>
<rect x="345.56" y="115.15" width="4.6" height="4.6" class="c"/>
<rect x="342.19" y="97.62" width="4.6" height="4.6" class="c"/>
<rect x="347.97" y="99.08" width="4.6" height="4.6" class="c"/>
<rect x="338.98" y="99.6" width="4.6" height="4.6" class="c"/>
<rect x="336.79" y="96.11" width="4.6" height="4.6" class="c"/>
<rect x="339.34" y="96.9" width="4.6" height="4.6" class="c"/>
<rect x="339.84" y="106.49" width="4.6" height="4.6" class="c"/>
<rect x="346.8" y="111.2" width="4.6" height="4.6" class="c"/>
<rect x="326.71" y="89.34" width="4.6" height="4.6" class="c"/>
<rect x="332.24" y="103.26" width="4.6" height="4.6" class="c"/>
<rect x="328.36" y="94.1" width="4.6" height="4.6" class="c"/>
<rect x="346.2" y="112.4" width="4.6" height="4.6" class="c"/>
<rect x="328.58" y="96.29" width="4.6" height="4.6" class="c"/>
<rect x="333.05" y="92.44" width="4.6" height="4.6" class="c"/>
<rect x="332.4" y="96.43" width="4.6" height="4.6" class="c"/>
<rect x="336.37" y="98.58" width="4.6" height="4.6" class="c"/>
<rect x="347.31" y="105.2" width="4.6" height="4.6" class="c"/>
<rect x="324.67" y="92.57" width="4.6" height="4.6" class="c"/>
<rect x="334.09" y="100.75" width="4.6" height="4.6" class="c"/>
<rect x="345.5" y="107.61" width="4.6" height="4.6" class="c"/>
<rect x="316.9" y="81.08" width="4.6" height="4.6" class="c"/>
<rect x="336.02" y="103.17" width="4.6" height="4.6" class="c"/>
<rect x="337.93" y="95.18" width="4.6" height="4.6" class="c"/>
<rect x="334.54" y="101.88" width="4.6" height="4.6" class="c"/>
<rect x="330.33" y="92.66" width="4.6" height="4.6" class="c"/>
<rect x="346.89" y="109.09" width="4.6" height="4.6" class="c"/>
<rect x="337.52" y="106.32" width="4.6" height="4.6" class="c"/>
<rect x="342.34" y="109.01" width="4.6" height="4.6" class="c"/>
<rect x="339.53" y="101.74" width="4.6" height="4.6" class="c"/>
<rect x="322.9" y="93.63" width="4.6" height="4.6" class="c"/>
<rect x="331.17" y="99.13" width="4.6" height="4.6" class="c"/>
<rect x="327.26" y="97.45" width="4.6" height="4.6" class="c"/>
<rect x="333.61" y="98.47" width="4.6" height="4.6" class="c"/>
<rect x="320.02" y="87.61" width="4.6" height="4.6" class="c"/>
<rect x="321.38" y="88.36" width="4.6" height="4.6" class="c"/>
<rect x="330.72" y="94.5" width="4.6" height="4.6" class="c"/>
<rect x="338.7" y="108.54" width="4.6" height="4.6" class="c"/>
<rect x="317.88" y="83.62" width="4.6" height="4.6" class="c"/>
<rect x="342.33" y="110.87" width="4.6" height="4.6" class="c"/>
<rect x="344.55" y="102.28" width="4.6" height="4.6" class="c"/>
<rect x="332.39" y="93.54" width="4.6" height="4.6" class="c"/>
<circle cx="252" cy="40" r="2.35" class="p"/>
<circle cx="282.2" cy="36.4" r="2.35" class="p"/>
<circle cx="297.6" cy="43.7" r="2.35" class="p"/>
<circle cx="288.2" cy="53.1" r="2.35" class="p"/>
<circle cx="292.9" cy="52.5" r="2.35" class="p"/>
<circle cx="298.9" cy="55.8" r="2.35" class="p"/>
<circle cx="297.4" cy="43.4" r="2.35" class="p"/>
<circle cx="304" cy="43.4" r="2.35" class="p"/>
<circle cx="307.7" cy="43.4" r="2.35" class="p"/>
<circle cx="309.9" cy="39.8" r="2.35" class="p"/>
<circle cx="312.9" cy="49.3" r="2.35" class="p"/>
<circle cx="315.8" cy="52.3" r="2.35" class="p"/>
<circle cx="321.7" cy="56.7" r="2.35" class="p"/>
<circle cx="327.76" cy="54.67" r="2.35" class="p"/>
<circle cx="349.71" cy="72.39" r="2.35" class="p"/>
<circle cx="335.22" cy="68.41" r="2.35" class="p"/>
<circle cx="342.57" cy="59.91" r="2.35" class="p"/>
<circle cx="342.76" cy="68.45" r="2.35" class="p"/>
<circle cx="346.42" cy="69.77" r="2.35" class="p"/>
<circle cx="339.84" cy="67.41" r="2.35" class="p"/>
<circle cx="334.83" cy="71.3" r="2.35" class="p"/>
<circle cx="337.68" cy="59.98" r="2.35" class="p"/>
<circle cx="336.75" cy="55.32" r="2.35" class="p"/>
<circle cx="342.83" cy="57.28" r="2.35" class="p"/>
<circle cx="326.83" cy="57.23" r="2.35" class="p"/>
<circle cx="334.64" cy="66.88" r="2.35" class="p"/>
<circle cx="348.65" cy="75.1" r="2.35" class="p"/>
<circle cx="334.48" cy="50.61" r="2.35" class="p"/>
<circle cx="333.72" cy="61.43" r="2.35" class="p"/>
<circle cx="328.23" cy="56.22" r="2.35" class="p"/>
<circle cx="344.48" cy="57.04" r="2.35" class="p"/>
<circle cx="331.43" cy="61.35" r="2.35" class="p"/>
<circle cx="344.55" cy="69.65" r="2.35" class="p"/>
<circle cx="342.54" cy="74.92" r="2.35" class="p"/>
<circle cx="345.53" cy="83.39" r="2.35" class="p"/>
<circle cx="334.99" cy="55.87" r="2.35" class="p"/>
<circle cx="332.11" cy="62.86" r="2.35" class="p"/>
<circle cx="341.91" cy="55.75" r="2.35" class="p"/>
<circle cx="338.46" cy="52.83" r="2.35" class="p"/>
<circle cx="341.27" cy="58.34" r="2.35" class="p"/>
<circle cx="339.88" cy="72.93" r="2.35" class="p"/>
<circle cx="333.88" cy="64.23" r="2.35" class="p"/>
<circle cx="350.08" cy="82.66" r="2.35" class="p"/>
<circle cx="346.16" cy="74.6" r="2.35" class="p"/>
<circle cx="343.97" cy="78.97" r="2.35" class="p"/>
<circle cx="345.01" cy="59.62" r="2.35" class="p"/>
<circle cx="329.45" cy="64.05" r="2.35" class="p"/>
<circle cx="341.14" cy="71.69" r="2.35" class="p"/>
<circle cx="336.38" cy="69.92" r="2.35" class="p"/>
<circle cx="328.4" cy="61.7" r="2.35" class="p"/>
<circle cx="339.73" cy="51.03" r="2.35" class="p"/>
<circle cx="345.6" cy="72.93" r="2.35" class="p"/>
<circle cx="348.54" cy="77.2" r="2.35" class="p"/>
<circle cx="345.57" cy="66.12" r="2.35" class="p"/>
<circle cx="335.28" cy="53.27" r="2.35" class="p"/>
<circle cx="341.48" cy="66.38" r="2.35" class="p"/>
<circle cx="338.49" cy="54.83" r="2.35" class="p"/>
<circle cx="350.77" cy="69.3" r="2.35" class="p"/>
<circle cx="339.54" cy="60.37" r="2.35" class="p"/>
<circle cx="347.87" cy="82.94" r="2.35" class="p"/>
<circle cx="349.23" cy="64.64" r="2.35" class="p"/>
<circle cx="344.65" cy="63.15" r="2.35" class="p"/>
<circle cx="348.56" cy="81.33" r="2.35" class="p"/>
<circle cx="309.28" cy="64.14" r="2.35" class="p"/>
<circle cx="317.14" cy="66.76" r="2.35" class="p"/>
<circle cx="343.92" cy="98.76" r="2.35" class="p"/>
<circle cx="320.43" cy="78.13" r="2.35" class="p"/>
<circle cx="312.68" cy="64.58" r="2.35" class="p"/>
<circle cx="345.22" cy="99.89" r="2.35" class="p"/>
<circle cx="320" cy="66.19" r="2.35" class="p"/>
<circle cx="338.86" cy="88.74" r="2.35" class="p"/>
<circle cx="320.53" cy="71.52" r="2.35" class="p"/>
<circle cx="344.81" cy="92.17" r="2.35" class="p"/>
<circle cx="329.41" cy="91.28" r="2.35" class="p"/>
<circle cx="326.27" cy="83.47" r="2.35" class="p"/>
<circle cx="339.24" cy="92.91" r="2.35" class="p"/>
<circle cx="330.21" cy="77.26" r="2.35" class="p"/>
<circle cx="343.07" cy="104.07" r="2.35" class="p"/>
<circle cx="334.08" cy="94.89" r="2.35" class="p"/>
<circle cx="305.95" cy="60.53" r="2.35" class="p"/>
<circle cx="307.36" cy="64.64" r="2.35" class="p"/>
<circle cx="336.81" cy="101.07" r="2.35" class="p"/>
<circle cx="324.45" cy="79.76" r="2.35" class="p"/>
<circle cx="304.44" cy="65.03" r="2.35" class="p"/>
<circle cx="310.9" cy="62.66" r="2.35" class="p"/>
<circle cx="320.05" cy="68.34" r="2.35" class="p"/>
<circle cx="304.85" cy="67.04" r="2.35" class="p"/>
<circle cx="328.35" cy="72.44" r="2.35" class="p"/>
<circle cx="314.48" cy="64.16" r="2.35" class="p"/>
<circle cx="327.73" cy="73.83" r="2.35" class="p"/>
<circle cx="329.91" cy="79.41" r="2.35" class="p"/>
<circle cx="323.96" cy="84.38" r="2.35" class="p"/>
<circle cx="302.8" cy="64.41" r="2.35" class="p"/>
<circle cx="340.97" cy="103.53" r="2.35" class="p"/>
<circle cx="316.27" cy="65.15" r="2.35" class="p"/>
<circle cx="323.47" cy="77.19" r="2.35" class="p"/>
<circle cx="344.24" cy="95.95" r="2.35" class="p"/>
<circle cx="317.15" cy="69.45" r="2.35" class="p"/>
<circle cx="343.23" cy="100.96" r="2.35" class="p"/>
<circle cx="330.36" cy="94.38" r="2.35" class="p"/>
<circle cx="304.99" cy="57.75" r="2.35" class="p"/>
<circle cx="327.36" cy="89.71" r="2.35" class="p"/>
<circle cx="336.63" cy="89.73" r="2.35" class="p"/>
<circle cx="336.58" cy="96.02" r="2.35" class="p"/>
<circle cx="340.9" cy="89.82" r="2.35" class="p"/>
<circle cx="340.55" cy="97.38" r="2.35" class="p"/>
<circle cx="335.33" cy="91.15" r="2.35" class="p"/>
<circle cx="324.43" cy="70.44" r="2.35" class="p"/>
<circle cx="335.05" cy="82.71" r="2.35" class="p"/>
<circle cx="328.42" cy="81.35" r="2.35" class="p"/>
<circle cx="321.15" cy="84.79" r="2.35" class="p"/>
<circle cx="314.91" cy="74.9" r="2.35" class="p"/>
<circle cx="306.24" cy="69.25" r="2.35" class="p"/>
<circle cx="325.28" cy="81.61" r="2.35" class="p"/>
<circle cx="335.75" cy="79.72" r="2.35" class="p"/>
<circle cx="335.61" cy="88.06" r="2.35" class="p"/>
<circle cx="346.3" cy="93.34" r="2.35" class="p"/>
<circle cx="314.23" cy="67.11" r="2.35" class="p"/>
<circle cx="332.14" cy="81.66" r="2.35" class="p"/>
<circle cx="339.29" cy="82.68" r="2.35" class="p"/>
<circle cx="337.31" cy="84.05" r="2.35" class="p"/>
<circle cx="320.02" cy="75.02" r="2.35" class="p"/>
<circle cx="323.63" cy="68.72" r="2.35" class="p"/>
</g>
<path d="M220.5,36 L221.57,36 L222.64,36 L223.71,36.01 L224.79,36.01 L225.86,36.02 L226.93,36.03 L228,36.04 L229.07,36.05 L230.14,36.06 L231.21,36.08 L232.29,36.1 L233.36,36.11 L234.43,36.13 L235.5,36.16 L236.57,36.18 L237.64,36.2 L238.71,36.23 L239.79,36.26 L240.86,36.29 L241.93,36.32 L243,36.35 L244.07,36.38 L245.14,36.42 L246.21,36.46 L247.29,36.5 L248.36,36.54 L249.43,36.58 L250.5,36.62 L251.57,36.7 L252.64,36.82 L253.71,36.96 L254.79,37.13 L255.86,37.33 L256.93,37.54 L258,37.78 L259.07,38.02 L260.14,38.28 L261.21,38.55 L262.29,38.82 L263.36,39.09 L264.43,39.36 L265.5,39.63 L266.57,39.91 L267.64,40.22 L268.71,40.55 L269.79,40.9 L270.86,41.26 L271.93,41.63 L273,42 L274.07,42.38 L275.14,42.75 L276.21,43.12 L277.29,43.5 L278.36,43.89 L279.43,44.29 L280.5,44.69 L281.57,45.1 L282.64,45.52 L283.71,45.96 L284.79,46.41 L285.86,46.88 L286.93,47.38 L288,47.91 L289.07,48.46 L290.14,49.02 L291.21,49.57 L292.29,50.12 L293.36,50.64 L294.43,51.15 L295.5,51.61 L296.57,52.05 L297.64,52.47 L298.71,52.88 L299.79,53.27 L300.86,53.67 L301.93,54.07 L303,54.48 L304.07,54.91 L305.14,55.36 L306.21,55.83 L307.29,56.31 L308.36,56.79 L309.43,57.29 L310.5,57.8 L311.57,58.33 L312.64,58.89 L313.71,59.47 L314.79,60.07 L315.86,60.72 L316.93,61.4 L318,62.12 L319.07,62.88 L320.14,63.66 L321.21,64.47 L322.29,65.31 L323.36,66.16 L324.43,67.03 L325.5,67.91 L326.57,68.82 L327.64,69.76 L328.71,70.74 L329.79,71.76 L330.86,72.82 L331.93,73.92 L333,75.11 L334.07,76.38 L335.14,77.71 L336.21,79.08 L337.29,80.46 L338.36,81.82 L339.43,83.18 L340.5,84.57 L341.57,85.96 L342.64,87.33 L343.71,88.66 L344.79,89.92 L345.86,91.15 L346.93,92.34 L348,93.5" fill="none" stroke="rgba(200,200,200,0.8)" stroke-width="7" stroke-linecap="butt"/>
<path d="M220.5,35.7 L221.57,35.7 L222.64,35.71 L223.71,35.72 L224.79,35.73 L225.86,35.75 L226.93,35.77 L228,35.79 L229.07,35.82 L230.14,35.85 L231.21,35.89 L232.29,35.92 L233.36,35.96 L234.43,36 L235.5,36.05 L236.57,36.09 L237.64,36.14 L238.71,36.19 L239.79,36.24 L240.86,36.29 L241.93,36.35 L243,36.41 L244.07,36.46 L245.14,36.52 L246.21,36.58 L247.29,36.64 L248.36,36.7 L249.43,36.77 L250.5,36.83 L251.57,36.9 L252.64,36.98 L253.71,37.06 L254.79,37.16 L255.86,37.26 L256.93,37.37 L258,37.48 L259.07,37.61 L260.14,37.74 L261.21,37.87 L262.29,38.01 L263.36,38.16 L264.43,38.32 L265.5,38.48 L266.57,38.67 L267.64,38.88 L268.71,39.11 L269.79,39.36 L270.86,39.62 L271.93,39.9 L273,40.18 L274.07,40.46 L275.14,40.74 L276.21,41.02 L277.29,41.32 L278.36,41.62 L279.43,41.94 L280.5,42.26 L281.57,42.59 L282.64,42.93 L283.71,43.28 L284.79,43.63 L285.86,43.99 L286.93,44.36 L288,44.74 L289.07,45.14 L290.14,45.54 L291.21,45.94 L292.29,46.35 L293.36,46.77 L294.43,47.18 L295.5,47.59 L296.57,48.01 L297.64,48.42 L298.71,48.84 L299.79,49.26 L300.86,49.69 L301.93,50.12 L303,50.56 L304.07,51.01 L305.14,51.46 L306.21,51.92 L307.29,52.37 L308.36,52.83 L309.43,53.3 L310.5,53.77 L311.57,54.27 L312.64,54.78 L313.71,55.32 L314.79,55.88 L315.86,56.48 L316.93,57.12 L318,57.78 L319.07,58.48 L320.14,59.21 L321.21,59.96 L322.29,60.74 L323.36,61.54 L324.43,62.36 L325.5,63.19 L326.57,64.06 L327.64,64.95 L328.71,65.87 L329.79,66.83 L330.86,67.82 L331.93,68.84 L333,69.91 L334.07,71.01 L335.14,72.16 L336.21,73.38 L337.29,74.69 L338.36,76.06 L339.43,77.48 L340.5,78.94 L341.57,80.41 L342.64,81.89 L343.71,83.4 L344.79,84.95 L345.86,86.54 L346.93,88.15 L348,89.8" fill="none" stroke="#000" stroke-width="1.8"/>
<line x1="220.8" y1="27.4" x2="220.8" y2="24.9" stroke="#000" stroke-width="0.8" />
<line x1="220.8" y1="125.2" x2="220.8" y2="127.7" stroke="#000" stroke-width="0.8" />
<line x1="224.23" y1="27.4" x2="224.23" y2="24.9" stroke="#000" stroke-width="0.8" />
<line x1="224.23" y1="125.2" x2="224.23" y2="127.7" stroke="#000" stroke-width="0.8" />
<line x1="227.14" y1="27.4" x2="227.14" y2="24.9" stroke="#000" stroke-width="0.8" />
<line x1="227.14" y1="125.2" x2="227.14" y2="127.7" stroke="#000" stroke-width="0.8" />
<line x1="229.65" y1="27.4" x2="229.65" y2="24.9" stroke="#000" stroke-width="0.8" />
<line x1="229.65" y1="125.2" x2="229.65" y2="127.7" stroke="#000" stroke-width="0.8" />
<line x1="231.87" y1="27.4" x2="231.87" y2="24.9" stroke="#000" stroke-width="0.8" />
<line x1="231.87" y1="125.2" x2="231.87" y2="127.7" stroke="#000" stroke-width="0.8" />
<line x1="233.85" y1="27.4" x2="233.85" y2="22.9" stroke="#000" stroke-width="0.8" />
<line x1="233.85" y1="125.2" x2="233.85" y2="129.7" stroke="#000" stroke-width="0.8" />
<line x1="246.91" y1="27.4" x2="246.91" y2="24.9" stroke="#000" stroke-width="0.8" />
<line x1="246.91" y1="125.2" x2="246.91" y2="127.7" stroke="#000" stroke-width="0.8" />
<line x1="254.55" y1="27.4" x2="254.55" y2="24.9" stroke="#000" stroke-width="0.8" />
<line x1="254.55" y1="125.2" x2="254.55" y2="127.7" stroke="#000" stroke-width="0.8" />
<line x1="259.96" y1="27.4" x2="259.96" y2="24.9" stroke="#000" stroke-width="0.8" />
<line x1="259.96" y1="125.2" x2="259.96" y2="127.7" stroke="#000" stroke-width="0.8" />
<line x1="264.17" y1="27.4" x2="264.17" y2="24.9" stroke="#000" stroke-width="0.8" />
<line x1="264.17" y1="125.2" x2="264.17" y2="127.7" stroke="#000" stroke-width="0.8" />
<line x1="267.6" y1="27.4" x2="267.6" y2="24.9" stroke="#000" stroke-width="0.8" />
<line x1="267.6" y1="125.2" x2="267.6" y2="127.7" stroke="#000" stroke-width="0.8" />
<line x1="270.5" y1="27.4" x2="270.5" y2="24.9" stroke="#000" stroke-width="0.8" />
<line x1="270.5" y1="125.2" x2="270.5" y2="127.7" stroke="#000" stroke-width="0.8" />
<line x1="273.02" y1="27.4" x2="273.02" y2="24.9" stroke="#000" stroke-width="0.8" />
<line x1="273.02" y1="125.2" x2="273.02" y2="127.7" stroke="#000" stroke-width="0.8" />
<line x1="275.24" y1="27.4" x2="275.24" y2="24.9" stroke="#000" stroke-width="0.8" />
<line x1="275.24" y1="125.2" x2="275.24" y2="127.7" stroke="#000" stroke-width="0.8" />
<line x1="277.22" y1="27.4" x2="277.22" y2="22.9" stroke="#000" stroke-width="0.8" />
<line x1="277.22" y1="125.2" x2="277.22" y2="129.7" stroke="#000" stroke-width="0.8" />
<line x1="290.28" y1="27.4" x2="290.28" y2="24.9" stroke="#000" stroke-width="0.8" />
<line x1="290.28" y1="125.2" x2="290.28" y2="127.7" stroke="#000" stroke-width="0.8" />
<line x1="297.91" y1="27.4" x2="297.91" y2="24.9" stroke="#000" stroke-width="0.8" />
<line x1="297.91" y1="125.2" x2="297.91" y2="127.7" stroke="#000" stroke-width="0.8" />
<line x1="303.33" y1="27.4" x2="303.33" y2="24.9" stroke="#000" stroke-width="0.8" />
<line x1="303.33" y1="125.2" x2="303.33" y2="127.7" stroke="#000" stroke-width="0.8" />
<line x1="307.53" y1="27.4" x2="307.53" y2="24.9" stroke="#000" stroke-width="0.8" />
<line x1="307.53" y1="125.2" x2="307.53" y2="127.7" stroke="#000" stroke-width="0.8" />
<line x1="310.97" y1="27.4" x2="310.97" y2="24.9" stroke="#000" stroke-width="0.8" />
<line x1="310.97" y1="125.2" x2="310.97" y2="127.7" stroke="#000" stroke-width="0.8" />
<line x1="313.87" y1="27.4" x2="313.87" y2="24.9" stroke="#000" stroke-width="0.8" />
<line x1="313.87" y1="125.2" x2="313.87" y2="127.7" stroke="#000" stroke-width="0.8" />
<line x1="316.39" y1="27.4" x2="316.39" y2="24.9" stroke="#000" stroke-width="0.8" />
<line x1="316.39" y1="125.2" x2="316.39" y2="127.7" stroke="#000" stroke-width="0.8" />
<line x1="318.6" y1="27.4" x2="318.6" y2="24.9" stroke="#000" stroke-width="0.8" />
<line x1="318.6" y1="125.2" x2="318.6" y2="127.7" stroke="#000" stroke-width="0.8" />
<line x1="320.59" y1="27.4" x2="320.59" y2="22.9" stroke="#000" stroke-width="0.8" />
<line x1="320.59" y1="125.2" x2="320.59" y2="129.7" stroke="#000" stroke-width="0.8" />
<line x1="333.64" y1="27.4" x2="333.64" y2="24.9" stroke="#000" stroke-width="0.8" />
<line x1="333.64" y1="125.2" x2="333.64" y2="127.7" stroke="#000" stroke-width="0.8" />
<line x1="341.28" y1="27.4" x2="341.28" y2="24.9" stroke="#000" stroke-width="0.8" />
<line x1="341.28" y1="125.2" x2="341.28" y2="127.7" stroke="#000" stroke-width="0.8" />
<line x1="346.7" y1="27.4" x2="346.7" y2="24.9" stroke="#000" stroke-width="0.8" />
<line x1="346.7" y1="125.2" x2="346.7" y2="127.7" stroke="#000" stroke-width="0.8" />
<line x1="350.9" y1="27.4" x2="350.9" y2="24.9" stroke="#000" stroke-width="0.8" />
<line x1="350.9" y1="125.2" x2="350.9" y2="127.7" stroke="#000" stroke-width="0.8" />
<line x1="220.8" y1="125.2" x2="216.3" y2="125.2" stroke="#000" stroke-width="0.8" />
<line x1="350.9" y1="125.2" x2="355.4" y2="125.2" stroke="#000" stroke-width="0.8" />
<line x1="220.8" y1="116.56" x2="218.3" y2="116.56" stroke="#000" stroke-width="0.8" />
<line x1="350.9" y1="116.56" x2="353.4" y2="116.56" stroke="#000" stroke-width="0.8" />
<line x1="220.8" y1="111.51" x2="218.3" y2="111.51" stroke="#000" stroke-width="0.8" />
<line x1="350.9" y1="111.51" x2="353.4" y2="111.51" stroke="#000" stroke-width="0.8" />
<line x1="220.8" y1="107.92" x2="218.3" y2="107.92" stroke="#000" stroke-width="0.8" />
<line x1="350.9" y1="107.92" x2="353.4" y2="107.92" stroke="#000" stroke-width="0.8" />
<line x1="220.8" y1="105.14" x2="218.3" y2="105.14" stroke="#000" stroke-width="0.8" />
<line x1="350.9" y1="105.14" x2="353.4" y2="105.14" stroke="#000" stroke-width="0.8" />
<line x1="220.8" y1="102.87" x2="218.3" y2="102.87" stroke="#000" stroke-width="0.8" />
<line x1="350.9" y1="102.87" x2="353.4" y2="102.87" stroke="#000" stroke-width="0.8" />
<line x1="220.8" y1="100.95" x2="218.3" y2="100.95" stroke="#000" stroke-width="0.8" />
<line x1="350.9" y1="100.95" x2="353.4" y2="100.95" stroke="#000" stroke-width="0.8" />
<line x1="220.8" y1="99.28" x2="218.3" y2="99.28" stroke="#000" stroke-width="0.8" />
<line x1="350.9" y1="99.28" x2="353.4" y2="99.28" stroke="#000" stroke-width="0.8" />
<line x1="220.8" y1="97.82" x2="218.3" y2="97.82" stroke="#000" stroke-width="0.8" />
<line x1="350.9" y1="97.82" x2="353.4" y2="97.82" stroke="#000" stroke-width="0.8" />
<line x1="220.8" y1="96.5" x2="216.3" y2="96.5" stroke="#000" stroke-width="0.8" />
<line x1="350.9" y1="96.5" x2="355.4" y2="96.5" stroke="#000" stroke-width="0.8" />
<line x1="220.8" y1="87.86" x2="218.3" y2="87.86" stroke="#000" stroke-width="0.8" />
<line x1="350.9" y1="87.86" x2="353.4" y2="87.86" stroke="#000" stroke-width="0.8" />
<line x1="220.8" y1="82.81" x2="218.3" y2="82.81" stroke="#000" stroke-width="0.8" />
<line x1="350.9" y1="82.81" x2="353.4" y2="82.81" stroke="#000" stroke-width="0.8" />
<line x1="220.8" y1="79.23" x2="218.3" y2="79.23" stroke="#000" stroke-width="0.8" />
<line x1="350.9" y1="79.23" x2="353.4" y2="79.23" stroke="#000" stroke-width="0.8" />
<line x1="220.8" y1="76.44" x2="218.3" y2="76.44" stroke="#000" stroke-width="0.8" />
<line x1="350.9" y1="76.44" x2="353.4" y2="76.44" stroke="#000" stroke-width="0.8" />
<line x1="220.8" y1="74.17" x2="218.3" y2="74.17" stroke="#000" stroke-width="0.8" />
<line x1="350.9" y1="74.17" x2="353.4" y2="74.17" stroke="#000" stroke-width="0.8" />
<line x1="220.8" y1="72.25" x2="218.3" y2="72.25" stroke="#000" stroke-width="0.8" />
<line x1="350.9" y1="72.25" x2="353.4" y2="72.25" stroke="#000" stroke-width="0.8" />
<line x1="220.8" y1="70.59" x2="218.3" y2="70.59" stroke="#000" stroke-width="0.8" />
<line x1="350.9" y1="70.59" x2="353.4" y2="70.59" stroke="#000" stroke-width="0.8" />
<line x1="220.8" y1="69.12" x2="218.3" y2="69.12" stroke="#000" stroke-width="0.8" />
<line x1="350.9" y1="69.12" x2="353.4" y2="69.12" stroke="#000" stroke-width="0.8" />
<line x1="220.8" y1="67.81" x2="216.3" y2="67.81" stroke="#000" stroke-width="0.8" />
<line x1="350.9" y1="67.81" x2="355.4" y2="67.81" stroke="#000" stroke-width="0.8" />
<line x1="220.8" y1="59.17" x2="218.3" y2="59.17" stroke="#000" stroke-width="0.8" />
<line x1="350.9" y1="59.17" x2="353.4" y2="59.17" stroke="#000" stroke-width="0.8" />
<line x1="220.8" y1="54.11" x2="218.3" y2="54.11" stroke="#000" stroke-width="0.8" />
<line x1="350.9" y1="54.11" x2="353.4" y2="54.11" stroke="#000" stroke-width="0.8" />
<line x1="220.8" y1="50.53" x2="218.3" y2="50.53" stroke="#000" stroke-width="0.8" />
<line x1="350.9" y1="50.53" x2="353.4" y2="50.53" stroke="#000" stroke-width="0.8" />
<line x1="220.8" y1="47.75" x2="218.3" y2="47.75" stroke="#000" stroke-width="0.8" />
<line x1="350.9" y1="47.75" x2="353.4" y2="47.75" stroke="#000" stroke-width="0.8" />
<line x1="220.8" y1="45.47" x2="218.3" y2="45.47" stroke="#000" stroke-width="0.8" />
<line x1="350.9" y1="45.47" x2="353.4" y2="45.47" stroke="#000" stroke-width="0.8" />
<line x1="220.8" y1="43.55" x2="218.3" y2="43.55" stroke="#000" stroke-width="0.8" />
<line x1="350.9" y1="43.55" x2="353.4" y2="43.55" stroke="#000" stroke-width="0.8" />
<line x1="220.8" y1="41.89" x2="218.3" y2="41.89" stroke="#000" stroke-width="0.8" />
<line x1="350.9" y1="41.89" x2="353.4" y2="41.89" stroke="#000" stroke-width="0.8" />
<line x1="220.8" y1="40.42" x2="218.3" y2="40.42" stroke="#000" stroke-width="0.8" />
<line x1="350.9" y1="40.42" x2="353.4" y2="40.42" stroke="#000" stroke-width="0.8" />
<line x1="220.8" y1="39.11" x2="216.3" y2="39.11" stroke="#000" stroke-width="0.8" />
<line x1="350.9" y1="39.11" x2="355.4" y2="39.11" stroke="#000" stroke-width="0.8" />
<line x1="220.8" y1="30.47" x2="218.3" y2="30.47" stroke="#000" stroke-width="0.8" />
<line x1="350.9" y1="30.47" x2="353.4" y2="30.47" stroke="#000" stroke-width="0.8" />
<text x="212.2" y="129.3" font-size="10.8" text-anchor="end" >10<tspan font-size="6.8" dy="-5" dx="-0.7">0</tspan></text>
<text x="212.2" y="100.6" font-size="10.8" text-anchor="end" >10<tspan font-size="6.8" dy="-5" dx="-0.7">1</tspan></text>
<text x="212.2" y="71.91" font-size="10.8" text-anchor="end" >10<tspan font-size="6.8" dy="-5" dx="-0.7">2</tspan></text>
<text x="212.2" y="43.21" font-size="10.8" text-anchor="end" >10<tspan font-size="6.8" dy="-5" dx="-0.7">3</tspan></text>
<text x="224.3" y="121.7" font-size="11" text-anchor="start" ><tspan font-style="italic">T</tspan> = 0.5 s</text>
<rect x="316.39" y="141.3" width="34.51" height="57.19999999999999" fill="#d3d3d3"/>
<line x1="316.39" y1="141.3" x2="316.39" y2="198.5" stroke="#222" stroke-width="0.9" />
<rect x="220.8" y="141.3" width="130.09999999999997" height="57.19999999999999" fill="none" stroke="#000" stroke-width="1.2"/>
<g clip-path="url(#cb1)">
<rect x="218.4" y="164" width="4.6" height="4.6" class="c"/>
<rect x="218.4" y="166.6" width="4.6" height="4.6" class="c"/>
<rect x="218.4" y="169.7" width="4.6" height="4.6" class="c"/>
<rect x="218.4" y="172.6" width="4.6" height="4.6" class="c"/>
<rect x="218.4" y="185.5" width="4.6" height="4.6" class="c"/>
<rect x="257.7" y="165.2" width="4.6" height="4.6" class="c"/>
<rect x="262.1" y="164" width="4.6" height="4.6" class="c"/>
<rect x="265" y="169.2" width="4.6" height="4.6" class="c"/>
<rect x="267.9" y="165.2" width="4.6" height="4.6" class="c"/>
<rect x="270.2" y="169.2" width="4.6" height="4.6" class="c"/>
<rect x="273.6" y="170.9" width="4.6" height="4.6" class="c"/>
<rect x="273.6" y="166.6" width="4.6" height="4.6" class="c"/>
<rect x="280.5" y="172.6" width="4.6" height="4.6" class="c"/>
<rect x="280.5" y="177.7" width="4.6" height="4.6" class="c"/>
<rect x="281" y="169.2" width="4.6" height="4.6" class="c"/>
<rect x="332.7" y="147.4" width="4.6" height="4.6" class="c"/>
<rect x="315.2" y="156.3" width="4.6" height="4.6" class="c"/>
<rect x="307.4" y="162.3" width="4.6" height="4.6" class="c"/>
<rect x="286" y="164.9" width="4.6" height="4.6" class="c"/>
<rect x="280" y="172.6" width="4.6" height="4.6" class="c"/>
<rect x="281.7" y="176.9" width="4.6" height="4.6" class="c"/>
<rect x="291.1" y="174.3" width="4.6" height="4.6" class="c"/>
<rect x="299.7" y="176" width="4.6" height="4.6" class="c"/>
<rect x="322" y="187.2" width="4.6" height="4.6" class="c"/>
<rect x="326.8" y="188" width="4.6" height="4.6" class="c"/>
<rect x="337.5" y="190.6" width="4.6" height="4.6" class="c"/>
<rect x="342.6" y="190.3" width="4.6" height="4.6" class="c"/>
<rect x="343.5" y="182" width="4.6" height="4.6" class="c"/>
<rect x="329.79" y="182.33" width="4.6" height="4.6" class="c"/>
<rect x="325.56" y="169.84" width="4.6" height="4.6" class="c"/>
<rect x="326.91" y="191" width="4.6" height="4.6" class="c"/>
<rect x="320.21" y="170.05" width="4.6" height="4.6" class="c"/>
<rect x="342.12" y="180.12" width="4.6" height="4.6" class="c"/>
<rect x="307.85" y="171.43" width="4.6" height="4.6" class="c"/>
<rect x="345.94" y="171.12" width="4.6" height="4.6" class="c"/>
<rect x="324.24" y="178.7" width="4.6" height="4.6" class="c"/>
<rect x="336.36" y="171.3" width="4.6" height="4.6" class="c"/>
<rect x="324.63" y="188.68" width="4.6" height="4.6" class="c"/>
<rect x="320.83" y="186.79" width="4.6" height="4.6" class="c"/>
<rect x="326.67" y="173.82" width="4.6" height="4.6" class="c"/>
<rect x="336.72" y="175.24" width="4.6" height="4.6" class="c"/>
<rect x="329.36" y="175.86" width="4.6" height="4.6" class="c"/>
<rect x="346.58" y="176.67" width="4.6" height="4.6" class="c"/>
<rect x="316.4" y="180.16" width="4.6" height="4.6" class="c"/>
<rect x="319.16" y="184.54" width="4.6" height="4.6" class="c"/>
<rect x="327.9" y="178.86" width="4.6" height="4.6" class="c"/>
<rect x="310.27" y="172.9" width="4.6" height="4.6" class="c"/>
<rect x="331.06" y="178.04" width="4.6" height="4.6" class="c"/>
<rect x="330.91" y="191.36" width="4.6" height="4.6" class="c"/>
<rect x="326.14" y="177.54" width="4.6" height="4.6" class="c"/>
<rect x="325.62" y="180.82" width="4.6" height="4.6" class="c"/>
<rect x="315.55" y="173.89" width="4.6" height="4.6" class="c"/>
<rect x="334.05" y="180.63" width="4.6" height="4.6" class="c"/>
<rect x="343.05" y="182.54" width="4.6" height="4.6" class="c"/>
<rect x="331.12" y="187.57" width="4.6" height="4.6" class="c"/>
<rect x="319.63" y="181.61" width="4.6" height="4.6" class="c"/>
<rect x="332.26" y="173.33" width="4.6" height="4.6" class="c"/>
<rect x="344.26" y="178.11" width="4.6" height="4.6" class="c"/>
<rect x="283.03" y="171.76" width="4.6" height="4.6" class="c"/>
<rect x="292.63" y="174.76" width="4.6" height="4.6" class="c"/>
<rect x="285.84" y="171.03" width="4.6" height="4.6" class="c"/>
<rect x="307.28" y="171.38" width="4.6" height="4.6" class="c"/>
<rect x="312.65" y="172.46" width="4.6" height="4.6" class="c"/>
<rect x="291.45" y="165.92" width="4.6" height="4.6" class="c"/>
<rect x="300.7" y="170.51" width="4.6" height="4.6" class="c"/>
<rect x="288.16" y="172.63" width="4.6" height="4.6" class="c"/>
<rect x="309.6" y="171.56" width="4.6" height="4.6" class="c"/>
<rect x="285.1" y="172.98" width="4.6" height="4.6" class="c"/>
<rect x="293.92" y="162.83" width="4.6" height="4.6" class="c"/>
<rect x="297.8" y="174.15" width="4.6" height="4.6" class="c"/>
<rect x="341.34" y="178.95" width="4.6" height="4.6" class="c"/>
<rect x="325.38" y="160.37" width="4.6" height="4.6" class="c"/>
<rect x="332.51" y="175.54" width="4.6" height="4.6" class="c"/>
<rect x="338.01" y="181.17" width="4.6" height="4.6" class="c"/>
<rect x="321.46" y="167.94" width="4.6" height="4.6" class="c"/>
<rect x="328.5" y="171.16" width="4.6" height="4.6" class="c"/>
<rect x="320.8" y="163.56" width="4.6" height="4.6" class="c"/>
<rect x="321.82" y="181.87" width="4.6" height="4.6" class="c"/>
<rect x="335.01" y="168.42" width="4.6" height="4.6" class="c"/>
<rect x="345.2" y="164.44" width="4.6" height="4.6" class="c"/>
<rect x="330.92" y="168.87" width="4.6" height="4.6" class="c"/>
<rect x="334.85" y="158.83" width="4.6" height="4.6" class="c"/>
<rect x="327.78" y="176.04" width="4.6" height="4.6" class="c"/>
<rect x="328.39" y="167.13" width="4.6" height="4.6" class="c"/>
<rect x="328.14" y="178.06" width="4.6" height="4.6" class="c"/>
<rect x="335.22" y="155.5" width="4.6" height="4.6" class="c"/>
<circle cx="251.9" cy="171.5" r="2.35" class="p"/>
<circle cx="281.9" cy="163.7" r="2.35" class="p"/>
<circle cx="309.7" cy="156.9" r="2.35" class="p"/>
<circle cx="297.7" cy="163.7" r="2.35" class="p"/>
<circle cx="303.7" cy="163.7" r="2.35" class="p"/>
<circle cx="282.3" cy="163.7" r="2.35" class="p"/>
<circle cx="290" cy="170" r="2.35" class="p"/>
<circle cx="296" cy="172" r="2.35" class="p"/>
<circle cx="301.01" cy="172.52" r="2.35" class="p"/>
<circle cx="297.15" cy="174.17" r="2.35" class="p"/>
<circle cx="297.33" cy="170.75" r="2.35" class="p"/>
<circle cx="313.03" cy="161.6" r="2.35" class="p"/>
<circle cx="320.01" cy="184.08" r="2.35" class="p"/>
<circle cx="307.81" cy="177.93" r="2.35" class="p"/>
<circle cx="315.76" cy="168.8" r="2.35" class="p"/>
<circle cx="317.23" cy="184.44" r="2.35" class="p"/>
<circle cx="300.67" cy="176.57" r="2.35" class="p"/>
<circle cx="313.41" cy="181.14" r="2.35" class="p"/>
<circle cx="302.82" cy="175.35" r="2.35" class="p"/>
<circle cx="321.65" cy="164.3" r="2.35" class="p"/>
<circle cx="303.91" cy="181.36" r="2.35" class="p"/>
<circle cx="313.57" cy="167.48" r="2.35" class="p"/>
<circle cx="315.04" cy="179.01" r="2.35" class="p"/>
<circle cx="305.73" cy="171.52" r="2.35" class="p"/>
<circle cx="316.99" cy="165.82" r="2.35" class="p"/>
<circle cx="298.49" cy="172.82" r="2.35" class="p"/>
<circle cx="300.39" cy="168.84" r="2.35" class="p"/>
<circle cx="302.79" cy="166.17" r="2.35" class="p"/>
<circle cx="319.45" cy="176.46" r="2.35" class="p"/>
<circle cx="306.12" cy="166.41" r="2.35" class="p"/>
<circle cx="309.03" cy="169.56" r="2.35" class="p"/>
<circle cx="318.07" cy="182.16" r="2.35" class="p"/>
<circle cx="346.73" cy="163.51" r="2.35" class="p"/>
<circle cx="331.61" cy="159.8" r="2.35" class="p"/>
<circle cx="343.3" cy="159.54" r="2.35" class="p"/>
<circle cx="343.73" cy="182.24" r="2.35" class="p"/>
<circle cx="335.28" cy="171.64" r="2.35" class="p"/>
<circle cx="346" cy="184.8" r="2.35" class="p"/>
<circle cx="329.38" cy="182.96" r="2.35" class="p"/>
<circle cx="334.87" cy="193.62" r="2.35" class="p"/>
<circle cx="330.66" cy="168.06" r="2.35" class="p"/>
<circle cx="346.75" cy="175.53" r="2.35" class="p"/>
<circle cx="342.19" cy="176.61" r="2.35" class="p"/>
<circle cx="331.09" cy="152.4" r="2.35" class="p"/>
<circle cx="328.09" cy="165.85" r="2.35" class="p"/>
<circle cx="328.03" cy="157.48" r="2.35" class="p"/>
<circle cx="336.69" cy="165.63" r="2.35" class="p"/>
<circle cx="338.37" cy="165.11" r="2.35" class="p"/>
<circle cx="338.23" cy="178.29" r="2.35" class="p"/>
<circle cx="344.8" cy="151.47" r="2.35" class="p"/>
<circle cx="342.52" cy="166.44" r="2.35" class="p"/>
<circle cx="331.48" cy="154.91" r="2.35" class="p"/>
<circle cx="337.85" cy="181.07" r="2.35" class="p"/>
<circle cx="347.61" cy="173.19" r="2.35" class="p"/>
<circle cx="345.69" cy="153.98" r="2.35" class="p"/>
<circle cx="327.24" cy="169.32" r="2.35" class="p"/>
<circle cx="326.49" cy="163.51" r="2.35" class="p"/>
<circle cx="326.66" cy="186.02" r="2.35" class="p"/>
<circle cx="327.78" cy="174.35" r="2.35" class="p"/>
<circle cx="347.31" cy="170.7" r="2.35" class="p"/>
<circle cx="332.83" cy="187.68" r="2.35" class="p"/>
<circle cx="342.27" cy="156.05" r="2.35" class="p"/>
<circle cx="343.68" cy="171.59" r="2.35" class="p"/>
<circle cx="335.24" cy="168.49" r="2.35" class="p"/>
<circle cx="341.9" cy="192.88" r="2.35" class="p"/>
<circle cx="340" cy="168.73" r="2.35" class="p"/>
<circle cx="331.32" cy="173.92" r="2.35" class="p"/>
<circle cx="336.5" cy="168.83" r="2.35" class="p"/>
<circle cx="333.21" cy="186.32" r="2.35" class="p"/>
<circle cx="337.5" cy="152.06" r="2.35" class="p"/>
<circle cx="338.62" cy="193.35" r="2.35" class="p"/>
<circle cx="334.23" cy="166.8" r="2.35" class="p"/>
<circle cx="344.62" cy="176.01" r="2.35" class="p"/>
<circle cx="337.74" cy="158.17" r="2.35" class="p"/>
<circle cx="338.53" cy="184.35" r="2.35" class="p"/>
<circle cx="327.75" cy="183.72" r="2.35" class="p"/>
<circle cx="343.98" cy="153.47" r="2.35" class="p"/>
<circle cx="338.46" cy="153.71" r="2.35" class="p"/>
<circle cx="334.74" cy="156.1" r="2.35" class="p"/>
<circle cx="339.67" cy="160.51" r="2.35" class="p"/>
<circle cx="343.93" cy="164.56" r="2.35" class="p"/>
<circle cx="344.11" cy="189.67" r="2.35" class="p"/>
<circle cx="329.69" cy="186.86" r="2.35" class="p"/>
<circle cx="345.25" cy="172.97" r="2.35" class="p"/>
<circle cx="328.99" cy="156.15" r="2.35" class="p"/>
<circle cx="333.99" cy="152.26" r="2.35" class="p"/>
<circle cx="334.33" cy="165.37" r="2.35" class="p"/>
<circle cx="332.65" cy="166.91" r="2.35" class="p"/>
<circle cx="346.53" cy="152.3" r="2.35" class="p"/>
<circle cx="338.94" cy="186.24" r="2.35" class="p"/>
<circle cx="344.75" cy="161.03" r="2.35" class="p"/>
<circle cx="334.58" cy="184.87" r="2.35" class="p"/>
<circle cx="346.1" cy="181.88" r="2.35" class="p"/>
<circle cx="326.07" cy="161.1" r="2.35" class="p"/>
<circle cx="325.5" cy="178.29" r="2.35" class="p"/>
<circle cx="314.15" cy="164.6" r="2.35" class="p"/>
<circle cx="315.77" cy="168.06" r="2.35" class="p"/>
<circle cx="300.8" cy="174.62" r="2.35" class="p"/>
<circle cx="322.82" cy="159.78" r="2.35" class="p"/>
<circle cx="309.12" cy="163.57" r="2.35" class="p"/>
<circle cx="307.44" cy="178.06" r="2.35" class="p"/>
<circle cx="308.54" cy="173.49" r="2.35" class="p"/>
<circle cx="310.49" cy="164.27" r="2.35" class="p"/>
<circle cx="315.81" cy="178.1" r="2.35" class="p"/>
<circle cx="310.58" cy="179.23" r="2.35" class="p"/>
<circle cx="321.69" cy="180.99" r="2.35" class="p"/>
<circle cx="323.27" cy="169.3" r="2.35" class="p"/>
<circle cx="302.42" cy="174.08" r="2.35" class="p"/>
<circle cx="320.15" cy="167.46" r="2.35" class="p"/>
<circle cx="313.17" cy="175.56" r="2.35" class="p"/>
<circle cx="312.69" cy="170.78" r="2.35" class="p"/>
<circle cx="317.39" cy="174.86" r="2.35" class="p"/>
<circle cx="316.21" cy="171.04" r="2.35" class="p"/>
<circle cx="319.77" cy="178.2" r="2.35" class="p"/>
<circle cx="313.23" cy="181.32" r="2.35" class="p"/>
<circle cx="323.58" cy="172.79" r="2.35" class="p"/>
<circle cx="321.69" cy="171.54" r="2.35" class="p"/>
<circle cx="321.8" cy="184.18" r="2.35" class="p"/>
<circle cx="312.19" cy="163.33" r="2.35" class="p"/>
<circle cx="307.08" cy="167.25" r="2.35" class="p"/>
<circle cx="325.17" cy="174.16" r="2.35" class="p"/>
<circle cx="322.05" cy="166.75" r="2.35" class="p"/>
<circle cx="323.87" cy="180.12" r="2.35" class="p"/>
<circle cx="304" cy="176.83" r="2.35" class="p"/>
<circle cx="317.28" cy="163.42" r="2.35" class="p"/>
<circle cx="312.33" cy="165.14" r="2.35" class="p"/>
</g>
<line x1="220.8" y1="170.3" x2="350.9" y2="170.3" stroke="#000" stroke-width="1.2" stroke-dasharray="6,2.6,1.3,2.6" stroke-dashoffset="-5.7"/>
<line x1="220.8" y1="141.3" x2="220.8" y2="138.8" stroke="#000" stroke-width="0.8" />
<line x1="220.8" y1="198.5" x2="220.8" y2="201" stroke="#000" stroke-width="0.8" />
<line x1="224.23" y1="141.3" x2="224.23" y2="138.8" stroke="#000" stroke-width="0.8" />
<line x1="224.23" y1="198.5" x2="224.23" y2="201" stroke="#000" stroke-width="0.8" />
<line x1="227.14" y1="141.3" x2="227.14" y2="138.8" stroke="#000" stroke-width="0.8" />
<line x1="227.14" y1="198.5" x2="227.14" y2="201" stroke="#000" stroke-width="0.8" />
<line x1="229.65" y1="141.3" x2="229.65" y2="138.8" stroke="#000" stroke-width="0.8" />
<line x1="229.65" y1="198.5" x2="229.65" y2="201" stroke="#000" stroke-width="0.8" />
<line x1="231.87" y1="141.3" x2="231.87" y2="138.8" stroke="#000" stroke-width="0.8" />
<line x1="231.87" y1="198.5" x2="231.87" y2="201" stroke="#000" stroke-width="0.8" />
<line x1="233.85" y1="141.3" x2="233.85" y2="136.8" stroke="#000" stroke-width="0.8" />
<line x1="233.85" y1="198.5" x2="233.85" y2="203" stroke="#000" stroke-width="0.8" />
<line x1="246.91" y1="141.3" x2="246.91" y2="138.8" stroke="#000" stroke-width="0.8" />
<line x1="246.91" y1="198.5" x2="246.91" y2="201" stroke="#000" stroke-width="0.8" />
<line x1="254.55" y1="141.3" x2="254.55" y2="138.8" stroke="#000" stroke-width="0.8" />
<line x1="254.55" y1="198.5" x2="254.55" y2="201" stroke="#000" stroke-width="0.8" />
<line x1="259.96" y1="141.3" x2="259.96" y2="138.8" stroke="#000" stroke-width="0.8" />
<line x1="259.96" y1="198.5" x2="259.96" y2="201" stroke="#000" stroke-width="0.8" />
<line x1="264.17" y1="141.3" x2="264.17" y2="138.8" stroke="#000" stroke-width="0.8" />
<line x1="264.17" y1="198.5" x2="264.17" y2="201" stroke="#000" stroke-width="0.8" />
<line x1="267.6" y1="141.3" x2="267.6" y2="138.8" stroke="#000" stroke-width="0.8" />
<line x1="267.6" y1="198.5" x2="267.6" y2="201" stroke="#000" stroke-width="0.8" />
<line x1="270.5" y1="141.3" x2="270.5" y2="138.8" stroke="#000" stroke-width="0.8" />
<line x1="270.5" y1="198.5" x2="270.5" y2="201" stroke="#000" stroke-width="0.8" />
<line x1="273.02" y1="141.3" x2="273.02" y2="138.8" stroke="#000" stroke-width="0.8" />
<line x1="273.02" y1="198.5" x2="273.02" y2="201" stroke="#000" stroke-width="0.8" />
<line x1="275.24" y1="141.3" x2="275.24" y2="138.8" stroke="#000" stroke-width="0.8" />
<line x1="275.24" y1="198.5" x2="275.24" y2="201" stroke="#000" stroke-width="0.8" />
<line x1="277.22" y1="141.3" x2="277.22" y2="136.8" stroke="#000" stroke-width="0.8" />
<line x1="277.22" y1="198.5" x2="277.22" y2="203" stroke="#000" stroke-width="0.8" />
<line x1="290.28" y1="141.3" x2="290.28" y2="138.8" stroke="#000" stroke-width="0.8" />
<line x1="290.28" y1="198.5" x2="290.28" y2="201" stroke="#000" stroke-width="0.8" />
<line x1="297.91" y1="141.3" x2="297.91" y2="138.8" stroke="#000" stroke-width="0.8" />
<line x1="297.91" y1="198.5" x2="297.91" y2="201" stroke="#000" stroke-width="0.8" />
<line x1="303.33" y1="141.3" x2="303.33" y2="138.8" stroke="#000" stroke-width="0.8" />
<line x1="303.33" y1="198.5" x2="303.33" y2="201" stroke="#000" stroke-width="0.8" />
<line x1="307.53" y1="141.3" x2="307.53" y2="138.8" stroke="#000" stroke-width="0.8" />
<line x1="307.53" y1="198.5" x2="307.53" y2="201" stroke="#000" stroke-width="0.8" />
<line x1="310.97" y1="141.3" x2="310.97" y2="138.8" stroke="#000" stroke-width="0.8" />
<line x1="310.97" y1="198.5" x2="310.97" y2="201" stroke="#000" stroke-width="0.8" />
<line x1="313.87" y1="141.3" x2="313.87" y2="138.8" stroke="#000" stroke-width="0.8" />
<line x1="313.87" y1="198.5" x2="313.87" y2="201" stroke="#000" stroke-width="0.8" />
<line x1="316.39" y1="141.3" x2="316.39" y2="138.8" stroke="#000" stroke-width="0.8" />
<line x1="316.39" y1="198.5" x2="316.39" y2="201" stroke="#000" stroke-width="0.8" />
<line x1="318.6" y1="141.3" x2="318.6" y2="138.8" stroke="#000" stroke-width="0.8" />
<line x1="318.6" y1="198.5" x2="318.6" y2="201" stroke="#000" stroke-width="0.8" />
<line x1="320.59" y1="141.3" x2="320.59" y2="136.8" stroke="#000" stroke-width="0.8" />
<line x1="320.59" y1="198.5" x2="320.59" y2="203" stroke="#000" stroke-width="0.8" />
<line x1="333.64" y1="141.3" x2="333.64" y2="138.8" stroke="#000" stroke-width="0.8" />
<line x1="333.64" y1="198.5" x2="333.64" y2="201" stroke="#000" stroke-width="0.8" />
<line x1="341.28" y1="141.3" x2="341.28" y2="138.8" stroke="#000" stroke-width="0.8" />
<line x1="341.28" y1="198.5" x2="341.28" y2="201" stroke="#000" stroke-width="0.8" />
<line x1="346.7" y1="141.3" x2="346.7" y2="138.8" stroke="#000" stroke-width="0.8" />
<line x1="346.7" y1="198.5" x2="346.7" y2="201" stroke="#000" stroke-width="0.8" />
<line x1="350.9" y1="141.3" x2="350.9" y2="138.8" stroke="#000" stroke-width="0.8" />
<line x1="350.9" y1="198.5" x2="350.9" y2="201" stroke="#000" stroke-width="0.8" />
<line x1="220.8" y1="198.5" x2="216.3" y2="198.5" stroke="#000" stroke-width="0.8" />
<line x1="350.9" y1="198.5" x2="355.4" y2="198.5" stroke="#000" stroke-width="0.8" />
<line x1="220.8" y1="188.97" x2="216.3" y2="188.97" stroke="#000" stroke-width="0.8" />
<line x1="350.9" y1="188.97" x2="355.4" y2="188.97" stroke="#000" stroke-width="0.8" />
<line x1="220.8" y1="179.43" x2="216.3" y2="179.43" stroke="#000" stroke-width="0.8" />
<line x1="350.9" y1="179.43" x2="355.4" y2="179.43" stroke="#000" stroke-width="0.8" />
<line x1="220.8" y1="169.9" x2="216.3" y2="169.9" stroke="#000" stroke-width="0.8" />
<line x1="350.9" y1="169.9" x2="355.4" y2="169.9" stroke="#000" stroke-width="0.8" />
<line x1="220.8" y1="160.37" x2="216.3" y2="160.37" stroke="#000" stroke-width="0.8" />
<line x1="350.9" y1="160.37" x2="355.4" y2="160.37" stroke="#000" stroke-width="0.8" />
<line x1="220.8" y1="150.83" x2="216.3" y2="150.83" stroke="#000" stroke-width="0.8" />
<line x1="350.9" y1="150.83" x2="355.4" y2="150.83" stroke="#000" stroke-width="0.8" />
<line x1="220.8" y1="141.3" x2="216.3" y2="141.3" stroke="#000" stroke-width="0.8" />
<line x1="350.9" y1="141.3" x2="355.4" y2="141.3" stroke="#000" stroke-width="0.8" />
<line x1="220.8" y1="193.73" x2="218.3" y2="193.73" stroke="#000" stroke-width="0.8" />
<line x1="350.9" y1="193.73" x2="353.4" y2="193.73" stroke="#000" stroke-width="0.8" />
<line x1="220.8" y1="184.2" x2="218.3" y2="184.2" stroke="#000" stroke-width="0.8" />
<line x1="350.9" y1="184.2" x2="353.4" y2="184.2" stroke="#000" stroke-width="0.8" />
<line x1="220.8" y1="174.67" x2="218.3" y2="174.67" stroke="#000" stroke-width="0.8" />
<line x1="350.9" y1="174.67" x2="353.4" y2="174.67" stroke="#000" stroke-width="0.8" />
<line x1="220.8" y1="165.13" x2="218.3" y2="165.13" stroke="#000" stroke-width="0.8" />
<line x1="350.9" y1="165.13" x2="353.4" y2="165.13" stroke="#000" stroke-width="0.8" />
<line x1="220.8" y1="155.6" x2="218.3" y2="155.6" stroke="#000" stroke-width="0.8" />
<line x1="350.9" y1="155.6" x2="353.4" y2="155.6" stroke="#000" stroke-width="0.8" />
<line x1="220.8" y1="146.07" x2="218.3" y2="146.07" stroke="#000" stroke-width="0.8" />
<line x1="350.9" y1="146.07" x2="353.4" y2="146.07" stroke="#000" stroke-width="0.8" />
<text x="212.6" y="201.9" font-size="10" text-anchor="end" >-3</text>
<text x="212.6" y="192.37" font-size="10" text-anchor="end" >-2</text>
<text x="212.6" y="182.83" font-size="10" text-anchor="end" >-1</text>
<text x="212.6" y="173.3" font-size="10" text-anchor="end" >0</text>
<text x="212.6" y="163.77" font-size="10" text-anchor="end" >1</text>
<text x="212.6" y="154.23" font-size="10" text-anchor="end" >2</text>
<text x="212.6" y="144.7" font-size="10" text-anchor="end" >3</text>
<text x="234.15" y="216" font-size="10.5" text-anchor="middle" >10<tspan font-size="6.8" dy="-4.6">0</tspan></text>
<text x="277.52" y="216" font-size="10.5" text-anchor="middle" >10<tspan font-size="6.8" dy="-4.6">1</tspan></text>
<text x="320.89" y="216" font-size="10.5" text-anchor="middle" >10<tspan font-size="6.8" dy="-4.6">2</tspan></text>
<text x="285.85" y="234.8" font-size="11.5" text-anchor="middle" ><tspan font-style="italic">R</tspan><tspan font-size="7.5" dy="2.6">JB</tspan><tspan dy="-2.6">[km]</tspan></text>
<rect x="383.6" y="27.4" width="130.29999999999995" height="97.80000000000001" fill="none" stroke="#000" stroke-width="1.2"/>
<g clip-path="url(#ca2)">
<rect x="381.2" y="40.4" width="4.6" height="4.6" class="c"/>
<rect x="381.2" y="46.3" width="4.6" height="4.6" class="c"/>
<rect x="381.2" y="50" width="4.6" height="4.6" class="c"/>
<rect x="381.2" y="58.1" width="4.6" height="4.6" class="c"/>
<rect x="381.2" y="69.6" width="4.6" height="4.6" class="c"/>
<rect x="381.2" y="72.8" width="4.6" height="4.6" class="c"/>
<rect x="381.2" y="86.9" width="4.6" height="4.6" class="c"/>
<rect x="424.9" y="36.7" width="4.6" height="4.6" class="c"/>
<rect x="431" y="37.4" width="4.6" height="4.6" class="c"/>
<rect x="421.5" y="41.6" width="4.6" height="4.6" class="c"/>
<rect x="427.8" y="48.9" width="4.6" height="4.6" class="c"/>
<rect x="433" y="50" width="4.6" height="4.6" class="c"/>
<rect x="425.2" y="53.6" width="4.6" height="4.6" class="c"/>
<rect x="441.1" y="45.5" width="4.6" height="4.6" class="c"/>
<rect x="442.1" y="48.5" width="4.6" height="4.6" class="c"/>
<rect x="436.7" y="68.8" width="4.6" height="4.6" class="c"/>
<rect x="450.2" y="52.2" width="4.6" height="4.6" class="c"/>
<rect x="453.7" y="56.9" width="4.6" height="4.6" class="c"/>
<rect x="459.1" y="54.4" width="4.6" height="4.6" class="c"/>
<rect x="460.6" y="58.1" width="4.6" height="4.6" class="c"/>
<rect x="471.7" y="60.3" width="4.6" height="4.6" class="c"/>
<rect x="478.3" y="58.1" width="4.6" height="4.6" class="c"/>
<rect x="484.9" y="57.7" width="4.6" height="4.6" class="c"/>
<rect x="484.2" y="61.8" width="4.6" height="4.6" class="c"/>
<rect x="479" y="62.3" width="4.6" height="4.6" class="c"/>
<rect x="479" y="66.2" width="4.6" height="4.6" class="c"/>
<rect x="484.2" y="67" width="4.6" height="4.6" class="c"/>
<rect x="490.1" y="62.5" width="4.6" height="4.6" class="c"/>
<rect x="490.1" y="67" width="4.6" height="4.6" class="c"/>
<rect x="493.8" y="69.9" width="4.6" height="4.6" class="c"/>
<rect x="496.7" y="64.7" width="4.6" height="4.6" class="c"/>
<rect x="496.7" y="69.9" width="4.6" height="4.6" class="c"/>
<rect x="473.9" y="64" width="4.6" height="4.6" class="c"/>
<rect x="465.7" y="64" width="4.6" height="4.6" class="c"/>
<rect x="462.6" y="73.1" width="4.6" height="4.6" class="c"/>
<rect x="506.1" y="109.7" width="4.6" height="4.6" class="c"/>
<rect x="507.7" y="105" width="4.6" height="4.6" class="c"/>
<rect x="496.7" y="100.3" width="4.6" height="4.6" class="c"/>
<rect x="490.5" y="95.7" width="4.6" height="4.6" class="c"/>
<rect x="445.7" y="59.7" width="4.6" height="4.6" class="c"/>
<rect x="452.7" y="63.7" width="4.6" height="4.6" class="c"/>
<rect x="457.7" y="67.7" width="4.6" height="4.6" class="c"/>
<rect x="467.7" y="71.7" width="4.6" height="4.6" class="c"/>
<rect x="465.81" y="53.71" width="4.6" height="4.6" class="c"/>
<rect x="467.93" y="61.06" width="4.6" height="4.6" class="c"/>
<rect x="459.78" y="57.56" width="4.6" height="4.6" class="c"/>
<rect x="497.35" y="69.44" width="4.6" height="4.6" class="c"/>
<rect x="464.31" y="58.22" width="4.6" height="4.6" class="c"/>
<rect x="488.84" y="72.04" width="4.6" height="4.6" class="c"/>
<rect x="473.15" y="69.41" width="4.6" height="4.6" class="c"/>
<rect x="465.28" y="64.53" width="4.6" height="4.6" class="c"/>
<rect x="482.38" y="69.5" width="4.6" height="4.6" class="c"/>
<rect x="470.29" y="61.97" width="4.6" height="4.6" class="c"/>
<rect x="473.99" y="56.46" width="4.6" height="4.6" class="c"/>
<rect x="485.39" y="64.85" width="4.6" height="4.6" class="c"/>
<rect x="478.93" y="66.23" width="4.6" height="4.6" class="c"/>
<rect x="482.7" y="55.16" width="4.6" height="4.6" class="c"/>
<rect x="466.86" y="68.12" width="4.6" height="4.6" class="c"/>
<rect x="485.32" y="69.04" width="4.6" height="4.6" class="c"/>
<rect x="460.31" y="55.65" width="4.6" height="4.6" class="c"/>
<rect x="468.97" y="64.53" width="4.6" height="4.6" class="c"/>
<rect x="503.74" y="105.09" width="4.6" height="4.6" class="c"/>
<rect x="489.04" y="92.43" width="4.6" height="4.6" class="c"/>
<rect x="502.69" y="110.18" width="4.6" height="4.6" class="c"/>
<rect x="490.95" y="94.93" width="4.6" height="4.6" class="c"/>
<rect x="504.33" y="101" width="4.6" height="4.6" class="c"/>
<rect x="496.5" y="98.08" width="4.6" height="4.6" class="c"/>
<rect x="493.54" y="99.04" width="4.6" height="4.6" class="c"/>
<rect x="499.75" y="106.11" width="4.6" height="4.6" class="c"/>
<rect x="501.94" y="107.52" width="4.6" height="4.6" class="c"/>
<rect x="499.79" y="110.13" width="4.6" height="4.6" class="c"/>
<rect x="510.11" y="90.01" width="4.6" height="4.6" class="c"/>
<rect x="507.24" y="95.78" width="4.6" height="4.6" class="c"/>
<rect x="507.72" y="112.27" width="4.6" height="4.6" class="c"/>
<rect x="498.64" y="95.3" width="4.6" height="4.6" class="c"/>
<rect x="503.41" y="92.71" width="4.6" height="4.6" class="c"/>
<rect x="510.96" y="101.07" width="4.6" height="4.6" class="c"/>
<rect x="448.15" y="62.88" width="4.6" height="4.6" class="c"/>
<rect x="443.15" y="60.88" width="4.6" height="4.6" class="c"/>
<rect x="481.42" y="72.21" width="4.6" height="4.6" class="c"/>
<rect x="456.28" y="63.38" width="4.6" height="4.6" class="c"/>
<rect x="471.82" y="72.02" width="4.6" height="4.6" class="c"/>
<rect x="444.02" y="63.22" width="4.6" height="4.6" class="c"/>
<circle cx="415.1" cy="54.8" r="2.35" class="p"/>
<circle cx="445.2" cy="69.3" r="2.35" class="p"/>
<circle cx="451" cy="70" r="2.35" class="p"/>
<circle cx="461.4" cy="63.4" r="2.35" class="p"/>
<circle cx="472.5" cy="66.3" r="2.35" class="p"/>
<circle cx="476.9" cy="69.3" r="2.35" class="p"/>
<circle cx="496" cy="67.8" r="2.35" class="p"/>
<circle cx="504.2" cy="56.7" r="2.35" class="p"/>
<circle cx="467.2" cy="82.4" r="2.35" class="p"/>
<circle cx="472.6" cy="85.5" r="2.35" class="p"/>
<circle cx="471.9" cy="89.4" r="2.35" class="p"/>
<circle cx="475.7" cy="91.8" r="2.35" class="p"/>
<circle cx="478" cy="94.1" r="2.35" class="p"/>
<circle cx="496" cy="106.5" r="2.35" class="p"/>
<circle cx="502.2" cy="111.2" r="2.35" class="p"/>
<circle cx="444" cy="73" r="2.35" class="p"/>
<circle cx="448" cy="76" r="2.35" class="p"/>
<circle cx="510.5" cy="72.57" r="2.35" class="p"/>
<circle cx="509.36" cy="57.58" r="2.35" class="p"/>
<circle cx="508.09" cy="83.44" r="2.35" class="p"/>
<circle cx="504.77" cy="58.26" r="2.35" class="p"/>
<circle cx="513.33" cy="74.6" r="2.35" class="p"/>
<circle cx="501.16" cy="74.49" r="2.35" class="p"/>
<circle cx="513.88" cy="61.08" r="2.35" class="p"/>
<circle cx="511.66" cy="75.27" r="2.35" class="p"/>
<circle cx="501.55" cy="60.36" r="2.35" class="p"/>
<circle cx="513.27" cy="64.87" r="2.35" class="p"/>
<circle cx="505.06" cy="74.03" r="2.35" class="p"/>
<circle cx="502.16" cy="68.69" r="2.35" class="p"/>
<circle cx="504.88" cy="60.54" r="2.35" class="p"/>
<circle cx="510.55" cy="60.43" r="2.35" class="p"/>
<circle cx="509.58" cy="69.42" r="2.35" class="p"/>
<circle cx="506.84" cy="66.14" r="2.35" class="p"/>
<circle cx="508.26" cy="63.01" r="2.35" class="p"/>
<circle cx="498.23" cy="60.59" r="2.35" class="p"/>
<circle cx="511.09" cy="62.63" r="2.35" class="p"/>
<circle cx="507.46" cy="64.19" r="2.35" class="p"/>
<circle cx="498.19" cy="57.79" r="2.35" class="p"/>
<circle cx="503.43" cy="80.59" r="2.35" class="p"/>
<circle cx="507.03" cy="74.21" r="2.35" class="p"/>
<circle cx="504.75" cy="62.42" r="2.35" class="p"/>
<circle cx="510.16" cy="80.9" r="2.35" class="p"/>
<circle cx="510.87" cy="58.51" r="2.35" class="p"/>
<circle cx="503.16" cy="78.99" r="2.35" class="p"/>
<circle cx="509.01" cy="73.57" r="2.35" class="p"/>
<circle cx="507.61" cy="81.48" r="2.35" class="p"/>
<circle cx="513.76" cy="67.51" r="2.35" class="p"/>
<circle cx="512.7" cy="77.41" r="2.35" class="p"/>
<circle cx="513.97" cy="63.14" r="2.35" class="p"/>
<circle cx="483.58" cy="83.57" r="2.35" class="p"/>
<circle cx="506.88" cy="107.8" r="2.35" class="p"/>
<circle cx="488.91" cy="88.52" r="2.35" class="p"/>
<circle cx="486.2" cy="79.92" r="2.35" class="p"/>
<circle cx="498.04" cy="91.69" r="2.35" class="p"/>
<circle cx="506.72" cy="95.93" r="2.35" class="p"/>
<circle cx="504.28" cy="97.48" r="2.35" class="p"/>
<circle cx="494.36" cy="91.67" r="2.35" class="p"/>
<circle cx="507.2" cy="103.55" r="2.35" class="p"/>
<circle cx="511.26" cy="103.16" r="2.35" class="p"/>
<circle cx="495.8" cy="94.71" r="2.35" class="p"/>
<circle cx="510.83" cy="94.67" r="2.35" class="p"/>
<circle cx="506.92" cy="112.41" r="2.35" class="p"/>
<circle cx="486" cy="99.04" r="2.35" class="p"/>
<circle cx="494.49" cy="94.26" r="2.35" class="p"/>
<circle cx="488.51" cy="84.42" r="2.35" class="p"/>
<circle cx="475" cy="87.72" r="2.35" class="p"/>
<circle cx="494.42" cy="101.06" r="2.35" class="p"/>
<circle cx="505.33" cy="86.9" r="2.35" class="p"/>
<circle cx="490.76" cy="93.23" r="2.35" class="p"/>
<circle cx="499.19" cy="105.29" r="2.35" class="p"/>
<circle cx="481.21" cy="87.32" r="2.35" class="p"/>
<circle cx="504.05" cy="104.48" r="2.35" class="p"/>
<circle cx="501.13" cy="80.67" r="2.35" class="p"/>
<circle cx="512.43" cy="99.88" r="2.35" class="p"/>
<circle cx="471.36" cy="87.45" r="2.35" class="p"/>
<circle cx="472.87" cy="88.44" r="2.35" class="p"/>
<circle cx="503.77" cy="81.69" r="2.35" class="p"/>
<circle cx="502.54" cy="98.72" r="2.35" class="p"/>
<circle cx="490.01" cy="91.21" r="2.35" class="p"/>
<circle cx="492.35" cy="101.12" r="2.35" class="p"/>
<circle cx="478.06" cy="90.96" r="2.35" class="p"/>
<circle cx="484.01" cy="97.8" r="2.35" class="p"/>
<circle cx="500.19" cy="88.89" r="2.35" class="p"/>
<circle cx="486.75" cy="83.66" r="2.35" class="p"/>
<circle cx="499.02" cy="97.96" r="2.35" class="p"/>
<circle cx="488.41" cy="101.43" r="2.35" class="p"/>
<circle cx="486.17" cy="81.33" r="2.35" class="p"/>
<circle cx="505.67" cy="88.38" r="2.35" class="p"/>
<circle cx="507.02" cy="113.91" r="2.35" class="p"/>
<circle cx="512.14" cy="85.5" r="2.35" class="p"/>
<circle cx="508.78" cy="81.13" r="2.35" class="p"/>
<circle cx="469.87" cy="80.23" r="2.35" class="p"/>
<circle cx="492.04" cy="83.58" r="2.35" class="p"/>
<circle cx="474.98" cy="89.04" r="2.35" class="p"/>
<circle cx="500.51" cy="107.47" r="2.35" class="p"/>
<circle cx="504" cy="108.35" r="2.35" class="p"/>
<circle cx="481.89" cy="99.32" r="2.35" class="p"/>
<circle cx="500.74" cy="109.18" r="2.35" class="p"/>
<circle cx="493.3" cy="95.07" r="2.35" class="p"/>
<circle cx="483" cy="95.83" r="2.35" class="p"/>
<circle cx="499.5" cy="100.89" r="2.35" class="p"/>
<circle cx="476.99" cy="77.85" r="2.35" class="p"/>
<circle cx="480.41" cy="80.89" r="2.35" class="p"/>
<circle cx="493.63" cy="97.67" r="2.35" class="p"/>
<circle cx="491.43" cy="98.56" r="2.35" class="p"/>
<circle cx="473.16" cy="77.74" r="2.35" class="p"/>
<circle cx="488.61" cy="100.09" r="2.35" class="p"/>
<circle cx="504.93" cy="110.38" r="2.35" class="p"/>
<circle cx="503.89" cy="102.37" r="2.35" class="p"/>
<circle cx="500.79" cy="105.28" r="2.35" class="p"/>
<circle cx="505.74" cy="92.97" r="2.35" class="p"/>
<circle cx="485.81" cy="94.91" r="2.35" class="p"/>
<circle cx="493.75" cy="104.24" r="2.35" class="p"/>
<circle cx="513.93" cy="91.71" r="2.35" class="p"/>
<circle cx="482.26" cy="94.45" r="2.35" class="p"/>
<circle cx="507.11" cy="82.87" r="2.35" class="p"/>
<circle cx="499.16" cy="108.91" r="2.35" class="p"/>
<circle cx="496.03" cy="97.21" r="2.35" class="p"/>
<circle cx="495.69" cy="80.77" r="2.35" class="p"/>
<circle cx="502.19" cy="108.06" r="2.35" class="p"/>
<circle cx="499.34" cy="82.21" r="2.35" class="p"/>
<circle cx="475.95" cy="84.04" r="2.35" class="p"/>
<circle cx="496.01" cy="100.46" r="2.35" class="p"/>
<circle cx="488.93" cy="95.36" r="2.35" class="p"/>
<circle cx="498.23" cy="83.2" r="2.35" class="p"/>
<circle cx="501.57" cy="87.51" r="2.35" class="p"/>
<circle cx="479.3" cy="78.22" r="2.35" class="p"/>
<circle cx="476.16" cy="80.27" r="2.35" class="p"/>
<circle cx="501.99" cy="91.8" r="2.35" class="p"/>
<circle cx="507.32" cy="90.2" r="2.35" class="p"/>
<circle cx="471.98" cy="91.35" r="2.35" class="p"/>
<circle cx="474.15" cy="83.3" r="2.35" class="p"/>
<circle cx="510.58" cy="108.17" r="2.35" class="p"/>
<circle cx="513.05" cy="81.91" r="2.35" class="p"/>
<circle cx="499.12" cy="92.46" r="2.35" class="p"/>
<circle cx="501.71" cy="95.95" r="2.35" class="p"/>
<circle cx="503.11" cy="111.38" r="2.35" class="p"/>
<circle cx="481.73" cy="90.58" r="2.35" class="p"/>
<circle cx="480.13" cy="91.97" r="2.35" class="p"/>
<circle cx="469.47" cy="77.43" r="2.35" class="p"/>
<circle cx="477.81" cy="88.7" r="2.35" class="p"/>
<circle cx="490.63" cy="102.38" r="2.35" class="p"/>
<circle cx="507.7" cy="105.68" r="2.35" class="p"/>
<circle cx="478.04" cy="93.91" r="2.35" class="p"/>
<circle cx="499.69" cy="99.24" r="2.35" class="p"/>
<circle cx="479.75" cy="90.38" r="2.35" class="p"/>
<circle cx="500.65" cy="101.95" r="2.35" class="p"/>
<circle cx="472.72" cy="81.87" r="2.35" class="p"/>
<circle cx="482.3" cy="79.81" r="2.35" class="p"/>
<circle cx="499.08" cy="84.33" r="2.35" class="p"/>
<circle cx="491.98" cy="80.16" r="2.35" class="p"/>
<circle cx="494.8" cy="84.72" r="2.35" class="p"/>
<circle cx="510.03" cy="97.93" r="2.35" class="p"/>
<circle cx="484.21" cy="93.02" r="2.35" class="p"/>
<circle cx="495.61" cy="99.07" r="2.35" class="p"/>
<circle cx="509.9" cy="95.61" r="2.35" class="p"/>
<circle cx="502.58" cy="101.48" r="2.35" class="p"/>
<circle cx="513.33" cy="88.63" r="2.35" class="p"/>
<circle cx="499.72" cy="104.03" r="2.35" class="p"/>
<circle cx="473.89" cy="68.1" r="2.35" class="p"/>
<circle cx="482.69" cy="70.13" r="2.35" class="p"/>
<circle cx="493.47" cy="61.73" r="2.35" class="p"/>
<circle cx="488.73" cy="76.41" r="2.35" class="p"/>
<circle cx="487.64" cy="68.2" r="2.35" class="p"/>
<circle cx="495.95" cy="60.62" r="2.35" class="p"/>
<circle cx="490.91" cy="72.04" r="2.35" class="p"/>
<circle cx="463.48" cy="66.65" r="2.35" class="p"/>
<circle cx="475.62" cy="63.52" r="2.35" class="p"/>
<circle cx="485.13" cy="68.78" r="2.35" class="p"/>
<circle cx="463.95" cy="74.31" r="2.35" class="p"/>
<circle cx="488.39" cy="61.64" r="2.35" class="p"/>
<circle cx="478.76" cy="69.1" r="2.35" class="p"/>
<circle cx="494.94" cy="71.95" r="2.35" class="p"/>
<circle cx="464.14" cy="69.43" r="2.35" class="p"/>
<circle cx="495.74" cy="86.3" r="2.35" class="p"/>
<circle cx="492.55" cy="84.98" r="2.35" class="p"/>
<circle cx="470.47" cy="69.91" r="2.35" class="p"/>
<circle cx="498.4" cy="80.5" r="2.35" class="p"/>
<circle cx="467.24" cy="75.83" r="2.35" class="p"/>
<circle cx="456.96" cy="68.95" r="2.35" class="p"/>
<circle cx="492.64" cy="78.75" r="2.35" class="p"/>
<circle cx="475.72" cy="78.64" r="2.35" class="p"/>
<circle cx="459.6" cy="68.84" r="2.35" class="p"/>
<circle cx="452.54" cy="64.7" r="2.35" class="p"/>
<circle cx="469.07" cy="72.29" r="2.35" class="p"/>
<circle cx="505.14" cy="79.51" r="2.35" class="p"/>
<circle cx="499.02" cy="86.76" r="2.35" class="p"/>
<circle cx="469.24" cy="74.14" r="2.35" class="p"/>
<circle cx="510.69" cy="85.78" r="2.35" class="p"/>
<circle cx="494.73" cy="83.08" r="2.35" class="p"/>
<circle cx="490.13" cy="82.38" r="2.35" class="p"/>
<circle cx="461.37" cy="69.54" r="2.35" class="p"/>
<circle cx="479.06" cy="74.9" r="2.35" class="p"/>
<circle cx="484.3" cy="77.37" r="2.35" class="p"/>
<circle cx="488.22" cy="80.29" r="2.35" class="p"/>
<circle cx="457.8" cy="70.98" r="2.35" class="p"/>
<circle cx="503.34" cy="82.68" r="2.35" class="p"/>
<circle cx="464.54" cy="74.95" r="2.35" class="p"/>
<circle cx="478.56" cy="80.79" r="2.35" class="p"/>
</g>
<path d="M383.5,52.8 L384.58,52.81 L385.65,52.83 L386.73,52.86 L387.8,52.89 L388.88,52.92 L389.95,52.96 L391.03,53.01 L392.11,53.06 L393.18,53.12 L394.26,53.18 L395.33,53.24 L396.41,53.31 L397.48,53.38 L398.56,53.46 L399.63,53.53 L400.71,53.61 L401.79,53.7 L402.86,53.78 L403.94,53.87 L405.01,53.95 L406.09,54.04 L407.16,54.13 L408.24,54.22 L409.32,54.32 L410.39,54.42 L411.47,54.53 L412.54,54.65 L413.62,54.77 L414.69,54.91 L415.77,55.05 L416.84,55.2 L417.92,55.35 L419,55.51 L420.07,55.68 L421.15,55.85 L422.22,56.03 L423.3,56.22 L424.37,56.41 L425.45,56.61 L426.53,56.81 L427.6,57.02 L428.68,57.23 L429.75,57.45 L430.83,57.68 L431.9,57.92 L432.98,58.18 L434.05,58.46 L435.13,58.76 L436.21,59.07 L437.28,59.39 L438.36,59.73 L439.43,60.08 L440.51,60.44 L441.58,60.82 L442.66,61.2 L443.74,61.59 L444.81,61.99 L445.89,62.39 L446.96,62.81 L448.04,63.23 L449.11,63.65 L450.19,64.08 L451.26,64.53 L452.34,65.01 L453.42,65.51 L454.49,66.04 L455.57,66.59 L456.64,67.14 L457.72,67.71 L458.79,68.29 L459.87,68.86 L460.95,69.44 L462.02,70 L463.1,70.56 L464.17,71.1 L465.25,71.62 L466.32,72.14 L467.4,72.67 L468.47,73.2 L469.55,73.72 L470.63,74.25 L471.7,74.77 L472.78,75.27 L473.85,75.77 L474.93,76.25 L476,76.71 L477.08,77.15 L478.16,77.56 L479.23,77.95 L480.31,78.34 L481.38,78.72 L482.46,79.08 L483.53,79.44 L484.61,79.78 L485.68,80.11 L486.76,80.42 L487.84,80.73 L488.91,81.02 L489.99,81.3 L491.06,81.57 L492.14,81.83 L493.21,82.09 L494.29,82.33 L495.37,82.55 L496.44,82.75 L497.52,82.93 L498.59,83.08 L499.67,83.23 L500.74,83.37 L501.82,83.5 L502.89,83.63 L503.97,83.76 L505.05,83.87 L506.12,83.98 L507.2,84.07 L508.27,84.15 L509.35,84.22 L510.42,84.27 L511.5,84.3" fill="none" stroke="rgba(200,200,200,0.8)" stroke-width="7" stroke-linecap="butt"/>
<path d="M383.5,49.9 L384.57,49.9 L385.64,49.9 L386.71,49.91 L387.79,49.91 L388.86,49.92 L389.93,49.93 L391,49.94 L392.07,49.96 L393.14,49.97 L394.21,49.99 L395.29,50 L396.36,50.02 L397.43,50.04 L398.5,50.06 L399.57,50.09 L400.64,50.11 L401.71,50.13 L402.79,50.16 L403.86,50.19 L404.93,50.21 L406,50.24 L407.07,50.27 L408.14,50.3 L409.21,50.34 L410.29,50.39 L411.36,50.45 L412.43,50.52 L413.5,50.6 L414.57,50.69 L415.64,50.79 L416.71,50.9 L417.79,51.02 L418.86,51.14 L419.93,51.27 L421,51.41 L422.07,51.56 L423.14,51.71 L424.21,51.87 L425.29,52.03 L426.36,52.2 L427.43,52.37 L428.5,52.55 L429.57,52.73 L430.64,52.92 L431.71,53.14 L432.79,53.39 L433.86,53.67 L434.93,53.97 L436,54.29 L437.07,54.63 L438.14,54.98 L439.21,55.34 L440.29,55.7 L441.36,56.08 L442.43,56.49 L443.5,56.93 L444.57,57.38 L445.64,57.85 L446.71,58.32 L447.79,58.81 L448.86,59.29 L449.93,59.77 L451,60.25 L452.07,60.74 L453.14,61.23 L454.21,61.74 L455.29,62.25 L456.36,62.76 L457.43,63.27 L458.5,63.78 L459.57,64.3 L460.64,64.81 L461.71,65.33 L462.79,65.85 L463.86,66.38 L464.93,66.91 L466,67.44 L467.07,67.96 L468.14,68.46 L469.21,68.95 L470.29,69.42 L471.36,69.88 L472.43,70.33 L473.5,70.77 L474.57,71.2 L475.64,71.62 L476.71,72.04 L477.79,72.45 L478.86,72.86 L479.93,73.27 L481,73.69 L482.07,74.1 L483.14,74.52 L484.21,74.93 L485.29,75.34 L486.36,75.73 L487.43,76.12 L488.5,76.5 L489.57,76.86 L490.64,77.21 L491.71,77.56 L492.79,77.91 L493.86,78.25 L494.93,78.57 L496,78.86 L497.07,79.12 L498.14,79.33 L499.21,79.51 L500.29,79.67 L501.36,79.82 L502.43,79.96 L503.5,80.07 L504.57,80.17 L505.64,80.25 L506.71,80.32 L507.79,80.38 L508.86,80.44 L509.93,80.48 L511,80.5" fill="none" stroke="#000" stroke-width="1.8"/>
<line x1="383.6" y1="27.4" x2="383.6" y2="24.9" stroke="#000" stroke-width="0.8" />
<line x1="383.6" y1="125.2" x2="383.6" y2="127.7" stroke="#000" stroke-width="0.8" />
<line x1="387.04" y1="27.4" x2="387.04" y2="24.9" stroke="#000" stroke-width="0.8" />
<line x1="387.04" y1="125.2" x2="387.04" y2="127.7" stroke="#000" stroke-width="0.8" />
<line x1="389.95" y1="27.4" x2="389.95" y2="24.9" stroke="#000" stroke-width="0.8" />
<line x1="389.95" y1="125.2" x2="389.95" y2="127.7" stroke="#000" stroke-width="0.8" />
<line x1="392.47" y1="27.4" x2="392.47" y2="24.9" stroke="#000" stroke-width="0.8" />
<line x1="392.47" y1="125.2" x2="392.47" y2="127.7" stroke="#000" stroke-width="0.8" />
<line x1="394.69" y1="27.4" x2="394.69" y2="24.9" stroke="#000" stroke-width="0.8" />
<line x1="394.69" y1="125.2" x2="394.69" y2="127.7" stroke="#000" stroke-width="0.8" />
<line x1="396.67" y1="27.4" x2="396.67" y2="22.9" stroke="#000" stroke-width="0.8" />
<line x1="396.67" y1="125.2" x2="396.67" y2="129.7" stroke="#000" stroke-width="0.8" />
<line x1="409.75" y1="27.4" x2="409.75" y2="24.9" stroke="#000" stroke-width="0.8" />
<line x1="409.75" y1="125.2" x2="409.75" y2="127.7" stroke="#000" stroke-width="0.8" />
<line x1="417.4" y1="27.4" x2="417.4" y2="24.9" stroke="#000" stroke-width="0.8" />
<line x1="417.4" y1="125.2" x2="417.4" y2="127.7" stroke="#000" stroke-width="0.8" />
<line x1="422.82" y1="27.4" x2="422.82" y2="24.9" stroke="#000" stroke-width="0.8" />
<line x1="422.82" y1="125.2" x2="422.82" y2="127.7" stroke="#000" stroke-width="0.8" />
<line x1="427.03" y1="27.4" x2="427.03" y2="24.9" stroke="#000" stroke-width="0.8" />
<line x1="427.03" y1="125.2" x2="427.03" y2="127.7" stroke="#000" stroke-width="0.8" />
<line x1="430.47" y1="27.4" x2="430.47" y2="24.9" stroke="#000" stroke-width="0.8" />
<line x1="430.47" y1="125.2" x2="430.47" y2="127.7" stroke="#000" stroke-width="0.8" />
<line x1="433.38" y1="27.4" x2="433.38" y2="24.9" stroke="#000" stroke-width="0.8" />
<line x1="433.38" y1="125.2" x2="433.38" y2="127.7" stroke="#000" stroke-width="0.8" />
<line x1="435.9" y1="27.4" x2="435.9" y2="24.9" stroke="#000" stroke-width="0.8" />
<line x1="435.9" y1="125.2" x2="435.9" y2="127.7" stroke="#000" stroke-width="0.8" />
<line x1="438.12" y1="27.4" x2="438.12" y2="24.9" stroke="#000" stroke-width="0.8" />
<line x1="438.12" y1="125.2" x2="438.12" y2="127.7" stroke="#000" stroke-width="0.8" />
<line x1="440.11" y1="27.4" x2="440.11" y2="22.9" stroke="#000" stroke-width="0.8" />
<line x1="440.11" y1="125.2" x2="440.11" y2="129.7" stroke="#000" stroke-width="0.8" />
<line x1="453.18" y1="27.4" x2="453.18" y2="24.9" stroke="#000" stroke-width="0.8" />
<line x1="453.18" y1="125.2" x2="453.18" y2="127.7" stroke="#000" stroke-width="0.8" />
<line x1="460.83" y1="27.4" x2="460.83" y2="24.9" stroke="#000" stroke-width="0.8" />
<line x1="460.83" y1="125.2" x2="460.83" y2="127.7" stroke="#000" stroke-width="0.8" />
<line x1="466.26" y1="27.4" x2="466.26" y2="24.9" stroke="#000" stroke-width="0.8" />
<line x1="466.26" y1="125.2" x2="466.26" y2="127.7" stroke="#000" stroke-width="0.8" />
<line x1="470.47" y1="27.4" x2="470.47" y2="24.9" stroke="#000" stroke-width="0.8" />
<line x1="470.47" y1="125.2" x2="470.47" y2="127.7" stroke="#000" stroke-width="0.8" />
<line x1="473.91" y1="27.4" x2="473.91" y2="24.9" stroke="#000" stroke-width="0.8" />
<line x1="473.91" y1="125.2" x2="473.91" y2="127.7" stroke="#000" stroke-width="0.8" />
<line x1="476.81" y1="27.4" x2="476.81" y2="24.9" stroke="#000" stroke-width="0.8" />
<line x1="476.81" y1="125.2" x2="476.81" y2="127.7" stroke="#000" stroke-width="0.8" />
<line x1="479.33" y1="27.4" x2="479.33" y2="24.9" stroke="#000" stroke-width="0.8" />
<line x1="479.33" y1="125.2" x2="479.33" y2="127.7" stroke="#000" stroke-width="0.8" />
<line x1="481.55" y1="27.4" x2="481.55" y2="24.9" stroke="#000" stroke-width="0.8" />
<line x1="481.55" y1="125.2" x2="481.55" y2="127.7" stroke="#000" stroke-width="0.8" />
<line x1="483.54" y1="27.4" x2="483.54" y2="22.9" stroke="#000" stroke-width="0.8" />
<line x1="483.54" y1="125.2" x2="483.54" y2="129.7" stroke="#000" stroke-width="0.8" />
<line x1="496.62" y1="27.4" x2="496.62" y2="24.9" stroke="#000" stroke-width="0.8" />
<line x1="496.62" y1="125.2" x2="496.62" y2="127.7" stroke="#000" stroke-width="0.8" />
<line x1="504.26" y1="27.4" x2="504.26" y2="24.9" stroke="#000" stroke-width="0.8" />
<line x1="504.26" y1="125.2" x2="504.26" y2="127.7" stroke="#000" stroke-width="0.8" />
<line x1="509.69" y1="27.4" x2="509.69" y2="24.9" stroke="#000" stroke-width="0.8" />
<line x1="509.69" y1="125.2" x2="509.69" y2="127.7" stroke="#000" stroke-width="0.8" />
<line x1="513.9" y1="27.4" x2="513.9" y2="24.9" stroke="#000" stroke-width="0.8" />
<line x1="513.9" y1="125.2" x2="513.9" y2="127.7" stroke="#000" stroke-width="0.8" />
<line x1="383.6" y1="125.2" x2="379.1" y2="125.2" stroke="#000" stroke-width="0.8" />
<line x1="513.9" y1="125.2" x2="518.4" y2="125.2" stroke="#000" stroke-width="0.8" />
<line x1="383.6" y1="116.56" x2="381.1" y2="116.56" stroke="#000" stroke-width="0.8" />
<line x1="513.9" y1="116.56" x2="516.4" y2="116.56" stroke="#000" stroke-width="0.8" />
<line x1="383.6" y1="111.51" x2="381.1" y2="111.51" stroke="#000" stroke-width="0.8" />
<line x1="513.9" y1="111.51" x2="516.4" y2="111.51" stroke="#000" stroke-width="0.8" />
<line x1="383.6" y1="107.92" x2="381.1" y2="107.92" stroke="#000" stroke-width="0.8" />
<line x1="513.9" y1="107.92" x2="516.4" y2="107.92" stroke="#000" stroke-width="0.8" />
<line x1="383.6" y1="105.14" x2="381.1" y2="105.14" stroke="#000" stroke-width="0.8" />
<line x1="513.9" y1="105.14" x2="516.4" y2="105.14" stroke="#000" stroke-width="0.8" />
<line x1="383.6" y1="102.87" x2="381.1" y2="102.87" stroke="#000" stroke-width="0.8" />
<line x1="513.9" y1="102.87" x2="516.4" y2="102.87" stroke="#000" stroke-width="0.8" />
<line x1="383.6" y1="100.95" x2="381.1" y2="100.95" stroke="#000" stroke-width="0.8" />
<line x1="513.9" y1="100.95" x2="516.4" y2="100.95" stroke="#000" stroke-width="0.8" />
<line x1="383.6" y1="99.28" x2="381.1" y2="99.28" stroke="#000" stroke-width="0.8" />
<line x1="513.9" y1="99.28" x2="516.4" y2="99.28" stroke="#000" stroke-width="0.8" />
<line x1="383.6" y1="97.82" x2="381.1" y2="97.82" stroke="#000" stroke-width="0.8" />
<line x1="513.9" y1="97.82" x2="516.4" y2="97.82" stroke="#000" stroke-width="0.8" />
<line x1="383.6" y1="96.5" x2="379.1" y2="96.5" stroke="#000" stroke-width="0.8" />
<line x1="513.9" y1="96.5" x2="518.4" y2="96.5" stroke="#000" stroke-width="0.8" />
<line x1="383.6" y1="87.86" x2="381.1" y2="87.86" stroke="#000" stroke-width="0.8" />
<line x1="513.9" y1="87.86" x2="516.4" y2="87.86" stroke="#000" stroke-width="0.8" />
<line x1="383.6" y1="82.81" x2="381.1" y2="82.81" stroke="#000" stroke-width="0.8" />
<line x1="513.9" y1="82.81" x2="516.4" y2="82.81" stroke="#000" stroke-width="0.8" />
<line x1="383.6" y1="79.23" x2="381.1" y2="79.23" stroke="#000" stroke-width="0.8" />
<line x1="513.9" y1="79.23" x2="516.4" y2="79.23" stroke="#000" stroke-width="0.8" />
<line x1="383.6" y1="76.44" x2="381.1" y2="76.44" stroke="#000" stroke-width="0.8" />
<line x1="513.9" y1="76.44" x2="516.4" y2="76.44" stroke="#000" stroke-width="0.8" />
<line x1="383.6" y1="74.17" x2="381.1" y2="74.17" stroke="#000" stroke-width="0.8" />
<line x1="513.9" y1="74.17" x2="516.4" y2="74.17" stroke="#000" stroke-width="0.8" />
<line x1="383.6" y1="72.25" x2="381.1" y2="72.25" stroke="#000" stroke-width="0.8" />
<line x1="513.9" y1="72.25" x2="516.4" y2="72.25" stroke="#000" stroke-width="0.8" />
<line x1="383.6" y1="70.59" x2="381.1" y2="70.59" stroke="#000" stroke-width="0.8" />
<line x1="513.9" y1="70.59" x2="516.4" y2="70.59" stroke="#000" stroke-width="0.8" />
<line x1="383.6" y1="69.12" x2="381.1" y2="69.12" stroke="#000" stroke-width="0.8" />
<line x1="513.9" y1="69.12" x2="516.4" y2="69.12" stroke="#000" stroke-width="0.8" />
<line x1="383.6" y1="67.81" x2="379.1" y2="67.81" stroke="#000" stroke-width="0.8" />
<line x1="513.9" y1="67.81" x2="518.4" y2="67.81" stroke="#000" stroke-width="0.8" />
<line x1="383.6" y1="59.17" x2="381.1" y2="59.17" stroke="#000" stroke-width="0.8" />
<line x1="513.9" y1="59.17" x2="516.4" y2="59.17" stroke="#000" stroke-width="0.8" />
<line x1="383.6" y1="54.11" x2="381.1" y2="54.11" stroke="#000" stroke-width="0.8" />
<line x1="513.9" y1="54.11" x2="516.4" y2="54.11" stroke="#000" stroke-width="0.8" />
<line x1="383.6" y1="50.53" x2="381.1" y2="50.53" stroke="#000" stroke-width="0.8" />
<line x1="513.9" y1="50.53" x2="516.4" y2="50.53" stroke="#000" stroke-width="0.8" />
<line x1="383.6" y1="47.75" x2="381.1" y2="47.75" stroke="#000" stroke-width="0.8" />
<line x1="513.9" y1="47.75" x2="516.4" y2="47.75" stroke="#000" stroke-width="0.8" />
<line x1="383.6" y1="45.47" x2="381.1" y2="45.47" stroke="#000" stroke-width="0.8" />
<line x1="513.9" y1="45.47" x2="516.4" y2="45.47" stroke="#000" stroke-width="0.8" />
<line x1="383.6" y1="43.55" x2="381.1" y2="43.55" stroke="#000" stroke-width="0.8" />
<line x1="513.9" y1="43.55" x2="516.4" y2="43.55" stroke="#000" stroke-width="0.8" />
<line x1="383.6" y1="41.89" x2="381.1" y2="41.89" stroke="#000" stroke-width="0.8" />
<line x1="513.9" y1="41.89" x2="516.4" y2="41.89" stroke="#000" stroke-width="0.8" />
<line x1="383.6" y1="40.42" x2="381.1" y2="40.42" stroke="#000" stroke-width="0.8" />
<line x1="513.9" y1="40.42" x2="516.4" y2="40.42" stroke="#000" stroke-width="0.8" />
<line x1="383.6" y1="39.11" x2="379.1" y2="39.11" stroke="#000" stroke-width="0.8" />
<line x1="513.9" y1="39.11" x2="518.4" y2="39.11" stroke="#000" stroke-width="0.8" />
<line x1="383.6" y1="30.47" x2="381.1" y2="30.47" stroke="#000" stroke-width="0.8" />
<line x1="513.9" y1="30.47" x2="516.4" y2="30.47" stroke="#000" stroke-width="0.8" />
<text x="375" y="129.3" font-size="10.8" text-anchor="end" >10<tspan font-size="6.8" dy="-5" dx="-0.7">0</tspan></text>
<text x="375" y="100.6" font-size="10.8" text-anchor="end" >10<tspan font-size="6.8" dy="-5" dx="-0.7">1</tspan></text>
<text x="375" y="71.91" font-size="10.8" text-anchor="end" >10<tspan font-size="6.8" dy="-5" dx="-0.7">2</tspan></text>
<text x="375" y="43.21" font-size="10.8" text-anchor="end" >10<tspan font-size="6.8" dy="-5" dx="-0.7">3</tspan></text>
<text x="387.1" y="121.7" font-size="11" text-anchor="start" ><tspan font-style="italic">T</tspan> = 2.0 s</text>
<rect x="479.33" y="141.3" width="34.57" height="57.19999999999999" fill="#d3d3d3"/>
<line x1="479.33" y1="141.3" x2="479.33" y2="198.5" stroke="#222" stroke-width="0.9" />
<rect x="383.6" y="141.3" width="130.29999999999995" height="57.19999999999999" fill="none" stroke="#000" stroke-width="1.2"/>
<g clip-path="url(#cb2)">
<rect x="381.2" y="158" width="4.6" height="4.6" class="c"/>
<rect x="381.2" y="164.9" width="4.6" height="4.6" class="c"/>
<rect x="381.2" y="169.2" width="4.6" height="4.6" class="c"/>
<rect x="381.2" y="173.8" width="4.6" height="4.6" class="c"/>
<rect x="381.2" y="184.6" width="4.6" height="4.6" class="c"/>
<rect x="381.2" y="194" width="4.6" height="4.6" class="c"/>
<rect x="421.2" y="164.9" width="4.6" height="4.6" class="c"/>
<rect x="424.6" y="161.1" width="4.6" height="4.6" class="c"/>
<rect x="428" y="161.4" width="4.6" height="4.6" class="c"/>
<rect x="430.9" y="155.4" width="4.6" height="4.6" class="c"/>
<rect x="425.5" y="167.4" width="4.6" height="4.6" class="c"/>
<rect x="433.2" y="166.6" width="4.6" height="4.6" class="c"/>
<rect x="436.9" y="164" width="4.6" height="4.6" class="c"/>
<rect x="436.9" y="175.2" width="4.6" height="4.6" class="c"/>
<rect x="440.9" y="158" width="4.6" height="4.6" class="c"/>
<rect x="442.6" y="162.3" width="4.6" height="4.6" class="c"/>
<rect x="441.3" y="158" width="4.6" height="4.6" class="c"/>
<rect x="448.1" y="169.2" width="4.6" height="4.6" class="c"/>
<rect x="458.4" y="161.4" width="4.6" height="4.6" class="c"/>
<rect x="466.2" y="158" width="4.6" height="4.6" class="c"/>
<rect x="463.6" y="171.7" width="4.6" height="4.6" class="c"/>
<rect x="477.8" y="152.5" width="4.6" height="4.6" class="c"/>
<rect x="484.2" y="153.7" width="4.6" height="4.6" class="c"/>
<rect x="489.8" y="153.7" width="4.6" height="4.6" class="c"/>
<rect x="485" y="157.2" width="4.6" height="4.6" class="c"/>
<rect x="479" y="158.9" width="4.6" height="4.6" class="c"/>
<rect x="490.2" y="158" width="4.6" height="4.6" class="c"/>
<rect x="495.3" y="157.2" width="4.6" height="4.6" class="c"/>
<rect x="506.5" y="187.2" width="4.6" height="4.6" class="c"/>
<rect x="506.5" y="190.6" width="4.6" height="4.6" class="c"/>
<rect x="477.3" y="182" width="4.6" height="4.6" class="c"/>
<rect x="445.7" y="163.7" width="4.6" height="4.6" class="c"/>
<rect x="452.7" y="165.7" width="4.6" height="4.6" class="c"/>
<rect x="485.98" y="161.66" width="4.6" height="4.6" class="c"/>
<rect x="491.12" y="154.31" width="4.6" height="4.6" class="c"/>
<rect x="483.11" y="163.68" width="4.6" height="4.6" class="c"/>
<rect x="492.51" y="150.04" width="4.6" height="4.6" class="c"/>
<rect x="474.16" y="154.63" width="4.6" height="4.6" class="c"/>
<rect x="471.26" y="156.73" width="4.6" height="4.6" class="c"/>
<rect x="486.68" y="156.62" width="4.6" height="4.6" class="c"/>
<rect x="492.65" y="159.91" width="4.6" height="4.6" class="c"/>
<rect x="493.22" y="154.86" width="4.6" height="4.6" class="c"/>
<rect x="486.06" y="150.11" width="4.6" height="4.6" class="c"/>
<rect x="471.05" y="158.72" width="4.6" height="4.6" class="c"/>
<rect x="473.42" y="161.05" width="4.6" height="4.6" class="c"/>
<rect x="504.42" y="193.58" width="4.6" height="4.6" class="c"/>
<rect x="500.06" y="185.78" width="4.6" height="4.6" class="c"/>
<rect x="500.1" y="180.46" width="4.6" height="4.6" class="c"/>
<rect x="502.11" y="182.31" width="4.6" height="4.6" class="c"/>
<rect x="503.64" y="185.51" width="4.6" height="4.6" class="c"/>
<rect x="499.88" y="183.7" width="4.6" height="4.6" class="c"/>
<rect x="479.22" y="170.66" width="4.6" height="4.6" class="c"/>
<rect x="489.7" y="163.42" width="4.6" height="4.6" class="c"/>
<rect x="507.84" y="172.56" width="4.6" height="4.6" class="c"/>
<rect x="507.92" y="170.1" width="4.6" height="4.6" class="c"/>
<rect x="489.69" y="179.11" width="4.6" height="4.6" class="c"/>
<rect x="497.84" y="169.79" width="4.6" height="4.6" class="c"/>
<rect x="506.76" y="166.79" width="4.6" height="4.6" class="c"/>
<rect x="482.96" y="171.1" width="4.6" height="4.6" class="c"/>
<rect x="492.1" y="168.66" width="4.6" height="4.6" class="c"/>
<rect x="502.33" y="158.4" width="4.6" height="4.6" class="c"/>
<rect x="483.5" y="179.24" width="4.6" height="4.6" class="c"/>
<rect x="483.21" y="176.7" width="4.6" height="4.6" class="c"/>
<rect x="504.79" y="170.79" width="4.6" height="4.6" class="c"/>
<rect x="491.95" y="179.13" width="4.6" height="4.6" class="c"/>
<rect x="487.25" y="174.88" width="4.6" height="4.6" class="c"/>
<rect x="479.72" y="164.66" width="4.6" height="4.6" class="c"/>
<circle cx="414.9" cy="170.6" r="2.35" class="p"/>
<circle cx="504.5" cy="150.9" r="2.35" class="p"/>
<circle cx="451.3" cy="179.2" r="2.35" class="p"/>
<circle cx="446.1" cy="178.3" r="2.35" class="p"/>
<circle cx="467.6" cy="179.2" r="2.35" class="p"/>
<circle cx="472.7" cy="180.9" r="2.35" class="p"/>
<circle cx="495.9" cy="193.8" r="2.35" class="p"/>
<circle cx="490.8" cy="188.6" r="2.35" class="p"/>
<circle cx="483.9" cy="184.3" r="2.35" class="p"/>
<circle cx="446" cy="172" r="2.35" class="p"/>
<circle cx="449" cy="175" r="2.35" class="p"/>
<circle cx="500.74" cy="185.97" r="2.35" class="p"/>
<circle cx="506.08" cy="183.2" r="2.35" class="p"/>
<circle cx="501.81" cy="195.88" r="2.35" class="p"/>
<circle cx="511.97" cy="193.7" r="2.35" class="p"/>
<circle cx="497.46" cy="182.16" r="2.35" class="p"/>
<circle cx="506.03" cy="178.6" r="2.35" class="p"/>
<circle cx="504.32" cy="180.85" r="2.35" class="p"/>
<circle cx="498.3" cy="172.46" r="2.35" class="p"/>
<circle cx="510.86" cy="194.69" r="2.35" class="p"/>
<circle cx="509.46" cy="182.38" r="2.35" class="p"/>
<circle cx="503.09" cy="182.82" r="2.35" class="p"/>
<circle cx="494.42" cy="157.17" r="2.35" class="p"/>
<circle cx="506.51" cy="193.75" r="2.35" class="p"/>
<circle cx="498.39" cy="160.5" r="2.35" class="p"/>
<circle cx="498.92" cy="176.86" r="2.35" class="p"/>
<circle cx="497.34" cy="155.68" r="2.35" class="p"/>
<circle cx="503.58" cy="179.56" r="2.35" class="p"/>
<circle cx="503.14" cy="191.41" r="2.35" class="p"/>
<circle cx="505.37" cy="189.07" r="2.35" class="p"/>
<circle cx="511.56" cy="178.84" r="2.35" class="p"/>
<circle cx="507.79" cy="180.48" r="2.35" class="p"/>
<circle cx="496.01" cy="187.8" r="2.35" class="p"/>
<circle cx="496.34" cy="178.78" r="2.35" class="p"/>
<circle cx="500.6" cy="191.2" r="2.35" class="p"/>
<circle cx="511.79" cy="163.98" r="2.35" class="p"/>
<circle cx="510.69" cy="192.29" r="2.35" class="p"/>
<circle cx="508.25" cy="194.48" r="2.35" class="p"/>
<circle cx="506.87" cy="168.79" r="2.35" class="p"/>
<circle cx="494.56" cy="162.95" r="2.35" class="p"/>
<circle cx="509.28" cy="184.64" r="2.35" class="p"/>
<circle cx="495.46" cy="183.35" r="2.35" class="p"/>
<circle cx="507.9" cy="177.91" r="2.35" class="p"/>
<circle cx="498.97" cy="193.18" r="2.35" class="p"/>
<circle cx="508.45" cy="164.4" r="2.35" class="p"/>
<circle cx="494.35" cy="169.81" r="2.35" class="p"/>
<circle cx="499.82" cy="164.16" r="2.35" class="p"/>
<circle cx="501.08" cy="183.75" r="2.35" class="p"/>
<circle cx="510.87" cy="182.92" r="2.35" class="p"/>
<circle cx="495.31" cy="184.92" r="2.35" class="p"/>
<circle cx="507.53" cy="174.74" r="2.35" class="p"/>
<circle cx="495.3" cy="177.45" r="2.35" class="p"/>
<circle cx="511.14" cy="188.16" r="2.35" class="p"/>
<circle cx="507.72" cy="159.74" r="2.35" class="p"/>
<circle cx="496.86" cy="173.39" r="2.35" class="p"/>
<circle cx="504.93" cy="184.71" r="2.35" class="p"/>
<circle cx="500.01" cy="159.37" r="2.35" class="p"/>
<circle cx="497.3" cy="162.28" r="2.35" class="p"/>
<circle cx="500.57" cy="166.72" r="2.35" class="p"/>
<circle cx="503.5" cy="166.22" r="2.35" class="p"/>
<circle cx="500.91" cy="163" r="2.35" class="p"/>
<circle cx="502.61" cy="177.42" r="2.35" class="p"/>
<circle cx="510.03" cy="159.72" r="2.35" class="p"/>
<circle cx="500.59" cy="153.79" r="2.35" class="p"/>
<circle cx="503.13" cy="158.78" r="2.35" class="p"/>
<circle cx="501.51" cy="157.05" r="2.35" class="p"/>
<circle cx="494.05" cy="175.92" r="2.35" class="p"/>
<circle cx="510.76" cy="180.42" r="2.35" class="p"/>
<circle cx="511.77" cy="166.26" r="2.35" class="p"/>
<circle cx="495.69" cy="159.61" r="2.35" class="p"/>
<circle cx="497.21" cy="164.06" r="2.35" class="p"/>
<circle cx="496.62" cy="166.73" r="2.35" class="p"/>
<circle cx="502.19" cy="165.48" r="2.35" class="p"/>
<circle cx="492.17" cy="180.17" r="2.35" class="p"/>
<circle cx="471.75" cy="177.98" r="2.35" class="p"/>
<circle cx="481.34" cy="185.17" r="2.35" class="p"/>
<circle cx="472.47" cy="172" r="2.35" class="p"/>
<circle cx="489" cy="174.95" r="2.35" class="p"/>
<circle cx="473.31" cy="181.41" r="2.35" class="p"/>
<circle cx="475.51" cy="168.68" r="2.35" class="p"/>
<circle cx="473.43" cy="166.12" r="2.35" class="p"/>
<circle cx="481.26" cy="166.42" r="2.35" class="p"/>
<circle cx="475.91" cy="178.51" r="2.35" class="p"/>
<circle cx="483.46" cy="160.96" r="2.35" class="p"/>
<circle cx="486.01" cy="181.99" r="2.35" class="p"/>
<circle cx="475.49" cy="172.66" r="2.35" class="p"/>
<circle cx="489.96" cy="184.71" r="2.35" class="p"/>
<circle cx="485.44" cy="173.75" r="2.35" class="p"/>
<circle cx="487.65" cy="186" r="2.35" class="p"/>
<circle cx="490.77" cy="173.89" r="2.35" class="p"/>
<circle cx="478.06" cy="161.87" r="2.35" class="p"/>
<circle cx="485.93" cy="161.67" r="2.35" class="p"/>
<circle cx="480.5" cy="170.32" r="2.35" class="p"/>
<circle cx="491.3" cy="175.87" r="2.35" class="p"/>
<circle cx="487.14" cy="164.44" r="2.35" class="p"/>
<circle cx="473.47" cy="163.72" r="2.35" class="p"/>
<circle cx="483.95" cy="176.97" r="2.35" class="p"/>
<circle cx="489.35" cy="166.36" r="2.35" class="p"/>
<circle cx="481.27" cy="180.66" r="2.35" class="p"/>
<circle cx="493.54" cy="185.13" r="2.35" class="p"/>
<circle cx="489.37" cy="177.07" r="2.35" class="p"/>
<circle cx="486.59" cy="166.91" r="2.35" class="p"/>
<circle cx="483.19" cy="182.04" r="2.35" class="p"/>
<circle cx="493.29" cy="164.03" r="2.35" class="p"/>
<circle cx="487.98" cy="172.69" r="2.35" class="p"/>
<circle cx="487.77" cy="183.57" r="2.35" class="p"/>
<circle cx="479.34" cy="179.94" r="2.35" class="p"/>
<circle cx="473.59" cy="172.47" r="2.35" class="p"/>
<circle cx="451.64" cy="168.37" r="2.35" class="p"/>
<circle cx="471.46" cy="163.69" r="2.35" class="p"/>
<circle cx="474.63" cy="174.51" r="2.35" class="p"/>
<circle cx="460.45" cy="173.11" r="2.35" class="p"/>
<circle cx="467.34" cy="162.94" r="2.35" class="p"/>
<circle cx="462.62" cy="177.69" r="2.35" class="p"/>
<circle cx="467.18" cy="173.31" r="2.35" class="p"/>
<circle cx="471.21" cy="166.81" r="2.35" class="p"/>
<circle cx="464.24" cy="171.56" r="2.35" class="p"/>
<circle cx="473.05" cy="170.47" r="2.35" class="p"/>
<circle cx="455.58" cy="171.25" r="2.35" class="p"/>
<circle cx="468.8" cy="178.96" r="2.35" class="p"/>
<circle cx="451.84" cy="177.99" r="2.35" class="p"/>
<circle cx="456.22" cy="167.58" r="2.35" class="p"/>
</g>
<line x1="383.6" y1="170.3" x2="513.9" y2="170.3" stroke="#000" stroke-width="1.2" stroke-dasharray="6,2.6,1.3,2.6" stroke-dashoffset="-5.7"/>
<line x1="383.6" y1="141.3" x2="383.6" y2="138.8" stroke="#000" stroke-width="0.8" />
<line x1="383.6" y1="198.5" x2="383.6" y2="201" stroke="#000" stroke-width="0.8" />
<line x1="387.04" y1="141.3" x2="387.04" y2="138.8" stroke="#000" stroke-width="0.8" />
<line x1="387.04" y1="198.5" x2="387.04" y2="201" stroke="#000" stroke-width="0.8" />
<line x1="389.95" y1="141.3" x2="389.95" y2="138.8" stroke="#000" stroke-width="0.8" />
<line x1="389.95" y1="198.5" x2="389.95" y2="201" stroke="#000" stroke-width="0.8" />
<line x1="392.47" y1="141.3" x2="392.47" y2="138.8" stroke="#000" stroke-width="0.8" />
<line x1="392.47" y1="198.5" x2="392.47" y2="201" stroke="#000" stroke-width="0.8" />
<line x1="394.69" y1="141.3" x2="394.69" y2="138.8" stroke="#000" stroke-width="0.8" />
<line x1="394.69" y1="198.5" x2="394.69" y2="201" stroke="#000" stroke-width="0.8" />
<line x1="396.67" y1="141.3" x2="396.67" y2="136.8" stroke="#000" stroke-width="0.8" />
<line x1="396.67" y1="198.5" x2="396.67" y2="203" stroke="#000" stroke-width="0.8" />
<line x1="409.75" y1="141.3" x2="409.75" y2="138.8" stroke="#000" stroke-width="0.8" />
<line x1="409.75" y1="198.5" x2="409.75" y2="201" stroke="#000" stroke-width="0.8" />
<line x1="417.4" y1="141.3" x2="417.4" y2="138.8" stroke="#000" stroke-width="0.8" />
<line x1="417.4" y1="198.5" x2="417.4" y2="201" stroke="#000" stroke-width="0.8" />
<line x1="422.82" y1="141.3" x2="422.82" y2="138.8" stroke="#000" stroke-width="0.8" />
<line x1="422.82" y1="198.5" x2="422.82" y2="201" stroke="#000" stroke-width="0.8" />
<line x1="427.03" y1="141.3" x2="427.03" y2="138.8" stroke="#000" stroke-width="0.8" />
<line x1="427.03" y1="198.5" x2="427.03" y2="201" stroke="#000" stroke-width="0.8" />
<line x1="430.47" y1="141.3" x2="430.47" y2="138.8" stroke="#000" stroke-width="0.8" />
<line x1="430.47" y1="198.5" x2="430.47" y2="201" stroke="#000" stroke-width="0.8" />
<line x1="433.38" y1="141.3" x2="433.38" y2="138.8" stroke="#000" stroke-width="0.8" />
<line x1="433.38" y1="198.5" x2="433.38" y2="201" stroke="#000" stroke-width="0.8" />
<line x1="435.9" y1="141.3" x2="435.9" y2="138.8" stroke="#000" stroke-width="0.8" />
<line x1="435.9" y1="198.5" x2="435.9" y2="201" stroke="#000" stroke-width="0.8" />
<line x1="438.12" y1="141.3" x2="438.12" y2="138.8" stroke="#000" stroke-width="0.8" />
<line x1="438.12" y1="198.5" x2="438.12" y2="201" stroke="#000" stroke-width="0.8" />
<line x1="440.11" y1="141.3" x2="440.11" y2="136.8" stroke="#000" stroke-width="0.8" />
<line x1="440.11" y1="198.5" x2="440.11" y2="203" stroke="#000" stroke-width="0.8" />
<line x1="453.18" y1="141.3" x2="453.18" y2="138.8" stroke="#000" stroke-width="0.8" />
<line x1="453.18" y1="198.5" x2="453.18" y2="201" stroke="#000" stroke-width="0.8" />
<line x1="460.83" y1="141.3" x2="460.83" y2="138.8" stroke="#000" stroke-width="0.8" />
<line x1="460.83" y1="198.5" x2="460.83" y2="201" stroke="#000" stroke-width="0.8" />
<line x1="466.26" y1="141.3" x2="466.26" y2="138.8" stroke="#000" stroke-width="0.8" />
<line x1="466.26" y1="198.5" x2="466.26" y2="201" stroke="#000" stroke-width="0.8" />
<line x1="470.47" y1="141.3" x2="470.47" y2="138.8" stroke="#000" stroke-width="0.8" />
<line x1="470.47" y1="198.5" x2="470.47" y2="201" stroke="#000" stroke-width="0.8" />
<line x1="473.91" y1="141.3" x2="473.91" y2="138.8" stroke="#000" stroke-width="0.8" />
<line x1="473.91" y1="198.5" x2="473.91" y2="201" stroke="#000" stroke-width="0.8" />
<line x1="476.81" y1="141.3" x2="476.81" y2="138.8" stroke="#000" stroke-width="0.8" />
<line x1="476.81" y1="198.5" x2="476.81" y2="201" stroke="#000" stroke-width="0.8" />
<line x1="479.33" y1="141.3" x2="479.33" y2="138.8" stroke="#000" stroke-width="0.8" />
<line x1="479.33" y1="198.5" x2="479.33" y2="201" stroke="#000" stroke-width="0.8" />
<line x1="481.55" y1="141.3" x2="481.55" y2="138.8" stroke="#000" stroke-width="0.8" />
<line x1="481.55" y1="198.5" x2="481.55" y2="201" stroke="#000" stroke-width="0.8" />
<line x1="483.54" y1="141.3" x2="483.54" y2="136.8" stroke="#000" stroke-width="0.8" />
<line x1="483.54" y1="198.5" x2="483.54" y2="203" stroke="#000" stroke-width="0.8" />
<line x1="496.62" y1="141.3" x2="496.62" y2="138.8" stroke="#000" stroke-width="0.8" />
<line x1="496.62" y1="198.5" x2="496.62" y2="201" stroke="#000" stroke-width="0.8" />
<line x1="504.26" y1="141.3" x2="504.26" y2="138.8" stroke="#000" stroke-width="0.8" />
<line x1="504.26" y1="198.5" x2="504.26" y2="201" stroke="#000" stroke-width="0.8" />
<line x1="509.69" y1="141.3" x2="509.69" y2="138.8" stroke="#000" stroke-width="0.8" />
<line x1="509.69" y1="198.5" x2="509.69" y2="201" stroke="#000" stroke-width="0.8" />
<line x1="513.9" y1="141.3" x2="513.9" y2="138.8" stroke="#000" stroke-width="0.8" />
<line x1="513.9" y1="198.5" x2="513.9" y2="201" stroke="#000" stroke-width="0.8" />
<line x1="383.6" y1="198.5" x2="379.1" y2="198.5" stroke="#000" stroke-width="0.8" />
<line x1="513.9" y1="198.5" x2="518.4" y2="198.5" stroke="#000" stroke-width="0.8" />
<line x1="383.6" y1="188.97" x2="379.1" y2="188.97" stroke="#000" stroke-width="0.8" />
<line x1="513.9" y1="188.97" x2="518.4" y2="188.97" stroke="#000" stroke-width="0.8" />
<line x1="383.6" y1="179.43" x2="379.1" y2="179.43" stroke="#000" stroke-width="0.8" />
<line x1="513.9" y1="179.43" x2="518.4" y2="179.43" stroke="#000" stroke-width="0.8" />
<line x1="383.6" y1="169.9" x2="379.1" y2="169.9" stroke="#000" stroke-width="0.8" />
<line x1="513.9" y1="169.9" x2="518.4" y2="169.9" stroke="#000" stroke-width="0.8" />
<line x1="383.6" y1="160.37" x2="379.1" y2="160.37" stroke="#000" stroke-width="0.8" />
<line x1="513.9" y1="160.37" x2="518.4" y2="160.37" stroke="#000" stroke-width="0.8" />
<line x1="383.6" y1="150.83" x2="379.1" y2="150.83" stroke="#000" stroke-width="0.8" />
<line x1="513.9" y1="150.83" x2="518.4" y2="150.83" stroke="#000" stroke-width="0.8" />
<line x1="383.6" y1="141.3" x2="379.1" y2="141.3" stroke="#000" stroke-width="0.8" />
<line x1="513.9" y1="141.3" x2="518.4" y2="141.3" stroke="#000" stroke-width="0.8" />
<line x1="383.6" y1="193.73" x2="381.1" y2="193.73" stroke="#000" stroke-width="0.8" />
<line x1="513.9" y1="193.73" x2="516.4" y2="193.73" stroke="#000" stroke-width="0.8" />
<line x1="383.6" y1="184.2" x2="381.1" y2="184.2" stroke="#000" stroke-width="0.8" />
<line x1="513.9" y1="184.2" x2="516.4" y2="184.2" stroke="#000" stroke-width="0.8" />
<line x1="383.6" y1="174.67" x2="381.1" y2="174.67" stroke="#000" stroke-width="0.8" />
<line x1="513.9" y1="174.67" x2="516.4" y2="174.67" stroke="#000" stroke-width="0.8" />
<line x1="383.6" y1="165.13" x2="381.1" y2="165.13" stroke="#000" stroke-width="0.8" />
<line x1="513.9" y1="165.13" x2="516.4" y2="165.13" stroke="#000" stroke-width="0.8" />
<line x1="383.6" y1="155.6" x2="381.1" y2="155.6" stroke="#000" stroke-width="0.8" />
<line x1="513.9" y1="155.6" x2="516.4" y2="155.6" stroke="#000" stroke-width="0.8" />
<line x1="383.6" y1="146.07" x2="381.1" y2="146.07" stroke="#000" stroke-width="0.8" />
<line x1="513.9" y1="146.07" x2="516.4" y2="146.07" stroke="#000" stroke-width="0.8" />
<text x="375.4" y="201.9" font-size="10" text-anchor="end" >-3</text>
<text x="375.4" y="192.37" font-size="10" text-anchor="end" >-2</text>
<text x="375.4" y="182.83" font-size="10" text-anchor="end" >-1</text>
<text x="375.4" y="173.3" font-size="10" text-anchor="end" >0</text>
<text x="375.4" y="163.77" font-size="10" text-anchor="end" >1</text>
<text x="375.4" y="154.23" font-size="10" text-anchor="end" >2</text>
<text x="375.4" y="144.7" font-size="10" text-anchor="end" >3</text>
<text x="396.97" y="216" font-size="10.5" text-anchor="middle" >10<tspan font-size="6.8" dy="-4.6">0</tspan></text>
<text x="440.41" y="216" font-size="10.5" text-anchor="middle" >10<tspan font-size="6.8" dy="-4.6">1</tspan></text>
<text x="483.84" y="216" font-size="10.5" text-anchor="middle" >10<tspan font-size="6.8" dy="-4.6">2</tspan></text>
<text x="448.75" y="234.8" font-size="11.5" text-anchor="middle" ><tspan font-style="italic">R</tspan><tspan font-size="7.5" dy="2.6">JB</tspan><tspan dy="-2.6">[km]</tspan></text>
<rect x="546.9" y="27.4" width="130.0" height="97.80000000000001" fill="none" stroke="#000" stroke-width="1.2"/>
<g clip-path="url(#ca3)">
<rect x="544.3" y="54.6" width="4.6" height="4.6" class="c"/>
<rect x="544.3" y="59.4" width="4.6" height="4.6" class="c"/>
<rect x="544.3" y="63.4" width="4.6" height="4.6" class="c"/>
<rect x="544.3" y="85.4" width="4.6" height="4.6" class="c"/>
<rect x="544.3" y="95.3" width="4.6" height="4.6" class="c"/>
<rect x="544.3" y="101.1" width="4.6" height="4.6" class="c"/>
<rect x="584.5" y="50.6" width="4.6" height="4.6" class="c"/>
<rect x="588.2" y="56.2" width="4.6" height="4.6" class="c"/>
<rect x="594.3" y="54.6" width="4.6" height="4.6" class="c"/>
<rect x="588.2" y="63.4" width="4.6" height="4.6" class="c"/>
<rect x="591.4" y="63.4" width="4.6" height="4.6" class="c"/>
<rect x="596.2" y="65.9" width="4.6" height="4.6" class="c"/>
<rect x="604.7" y="56.7" width="4.6" height="4.6" class="c"/>
<rect x="605.1" y="61" width="4.6" height="4.6" class="c"/>
<rect x="600.2" y="71.5" width="4.6" height="4.6" class="c"/>
<rect x="600.2" y="75.5" width="4.6" height="4.6" class="c"/>
<rect x="605.9" y="73.1" width="4.6" height="4.6" class="c"/>
<rect x="604.3" y="77.9" width="4.6" height="4.6" class="c"/>
<rect x="635.1" y="57.7" width="4.6" height="4.6" class="c"/>
<rect x="604.7" y="56.5" width="4.6" height="4.6" class="c"/>
<rect x="606.5" y="73.8" width="4.6" height="4.6" class="c"/>
<rect x="617.3" y="67.5" width="4.6" height="4.6" class="c"/>
<rect x="633" y="72.7" width="4.6" height="4.6" class="c"/>
<rect x="639.3" y="72.7" width="4.6" height="4.6" class="c"/>
<rect x="641.3" y="75.9" width="4.6" height="4.6" class="c"/>
<rect x="645.5" y="76.9" width="4.6" height="4.6" class="c"/>
<rect x="652.8" y="76.9" width="4.6" height="4.6" class="c"/>
<rect x="653.9" y="80.1" width="4.6" height="4.6" class="c"/>
<rect x="665.4" y="75.9" width="4.6" height="4.6" class="c"/>
<rect x="663.3" y="83.2" width="4.6" height="4.6" class="c"/>
<rect x="625.7" y="81.1" width="4.6" height="4.6" class="c"/>
<rect x="609.7" y="63.7" width="4.6" height="4.6" class="c"/>
<rect x="614.7" y="67.7" width="4.6" height="4.6" class="c"/>
<rect x="622.7" y="70.7" width="4.6" height="4.6" class="c"/>
<rect x="647.7" y="81.7" width="4.6" height="4.6" class="c"/>
<rect x="665.24" y="85.62" width="4.6" height="4.6" class="c"/>
<rect x="673.14" y="76.82" width="4.6" height="4.6" class="c"/>
<rect x="667.71" y="79.76" width="4.6" height="4.6" class="c"/>
<rect x="670.56" y="84.91" width="4.6" height="4.6" class="c"/>
<rect x="661.14" y="84.15" width="4.6" height="4.6" class="c"/>
<rect x="661.81" y="71.09" width="4.6" height="4.6" class="c"/>
<rect x="659.62" y="79.3" width="4.6" height="4.6" class="c"/>
<rect x="604.93" y="72.46" width="4.6" height="4.6" class="c"/>
<rect x="625.02" y="74.94" width="4.6" height="4.6" class="c"/>
<rect x="610.84" y="72.69" width="4.6" height="4.6" class="c"/>
<rect x="606.37" y="69.85" width="4.6" height="4.6" class="c"/>
<rect x="613.66" y="73.05" width="4.6" height="4.6" class="c"/>
<circle cx="578.4" cy="63.3" r="2.35" class="p"/>
<circle cx="609" cy="83.4" r="2.35" class="p"/>
<circle cx="611" cy="84.5" r="2.35" class="p"/>
<circle cx="633.2" cy="71.5" r="2.35" class="p"/>
<circle cx="609.2" cy="83.4" r="2.35" class="p"/>
<circle cx="614.4" cy="76.1" r="2.35" class="p"/>
<circle cx="625.9" cy="88.6" r="2.35" class="p"/>
<circle cx="630.1" cy="88.6" r="2.35" class="p"/>
<circle cx="633.2" cy="89.7" r="2.35" class="p"/>
<circle cx="635.3" cy="104.3" r="2.35" class="p"/>
<circle cx="637.4" cy="106.4" r="2.35" class="p"/>
<circle cx="641.6" cy="104.3" r="2.35" class="p"/>
<circle cx="647.8" cy="76.1" r="2.35" class="p"/>
<circle cx="666.6" cy="71.9" r="2.35" class="p"/>
<circle cx="671.8" cy="73" r="2.35" class="p"/>
<circle cx="671.8" cy="80.3" r="2.35" class="p"/>
<circle cx="665.6" cy="82.4" r="2.35" class="p"/>
<circle cx="620" cy="88" r="2.35" class="p"/>
<circle cx="645" cy="92" r="2.35" class="p"/>
<circle cx="673.42" cy="87.5" r="2.35" class="p"/>
<circle cx="664.89" cy="102.48" r="2.35" class="p"/>
<circle cx="665.06" cy="86.47" r="2.35" class="p"/>
<circle cx="641.89" cy="91.53" r="2.35" class="p"/>
<circle cx="676.21" cy="96.18" r="2.35" class="p"/>
<circle cx="666.09" cy="92.77" r="2.35" class="p"/>
<circle cx="655.7" cy="88.84" r="2.35" class="p"/>
<circle cx="650.54" cy="96.18" r="2.35" class="p"/>
<circle cx="673.19" cy="104.15" r="2.35" class="p"/>
<circle cx="663.51" cy="107.03" r="2.35" class="p"/>
<circle cx="661.37" cy="90.25" r="2.35" class="p"/>
<circle cx="665.63" cy="110.55" r="2.35" class="p"/>
<circle cx="671.6" cy="110.16" r="2.35" class="p"/>
<circle cx="656.58" cy="108.24" r="2.35" class="p"/>
<circle cx="667.16" cy="109.83" r="2.35" class="p"/>
<circle cx="662.12" cy="107.37" r="2.35" class="p"/>
<circle cx="648.63" cy="99.53" r="2.35" class="p"/>
<circle cx="675.24" cy="88.09" r="2.35" class="p"/>
<circle cx="675.9" cy="114.33" r="2.35" class="p"/>
<circle cx="649.17" cy="107.9" r="2.35" class="p"/>
<circle cx="667.88" cy="101.85" r="2.35" class="p"/>
<circle cx="663.22" cy="100.84" r="2.35" class="p"/>
<circle cx="663.23" cy="116.98" r="2.35" class="p"/>
<circle cx="664.99" cy="118.2" r="2.35" class="p"/>
<circle cx="671.12" cy="103.58" r="2.35" class="p"/>
<circle cx="655.4" cy="110.87" r="2.35" class="p"/>
<circle cx="665.24" cy="96.74" r="2.35" class="p"/>
<circle cx="663.09" cy="99.43" r="2.35" class="p"/>
<circle cx="676.25" cy="93.62" r="2.35" class="p"/>
<circle cx="657.53" cy="94.68" r="2.35" class="p"/>
<circle cx="651.49" cy="104.28" r="2.35" class="p"/>
<circle cx="674.85" cy="100.41" r="2.35" class="p"/>
<circle cx="672.23" cy="118.32" r="2.35" class="p"/>
<circle cx="648.23" cy="98.08" r="2.35" class="p"/>
<circle cx="648.2" cy="103.2" r="2.35" class="p"/>
<circle cx="665.24" cy="113.53" r="2.35" class="p"/>
<circle cx="657.61" cy="87.53" r="2.35" class="p"/>
<circle cx="640.46" cy="89.93" r="2.35" class="p"/>
<circle cx="661.71" cy="93.87" r="2.35" class="p"/>
<circle cx="654.43" cy="91.1" r="2.35" class="p"/>
<circle cx="673.84" cy="117.32" r="2.35" class="p"/>
<circle cx="645.36" cy="99.35" r="2.35" class="p"/>
<circle cx="656.11" cy="109.7" r="2.35" class="p"/>
<circle cx="673.12" cy="94.84" r="2.35" class="p"/>
<circle cx="673.4" cy="114.62" r="2.35" class="p"/>
<circle cx="660.32" cy="108.45" r="2.35" class="p"/>
<circle cx="675.97" cy="102.35" r="2.35" class="p"/>
<circle cx="658.09" cy="104.96" r="2.35" class="p"/>
<circle cx="675.51" cy="107.8" r="2.35" class="p"/>
<circle cx="654.56" cy="100.12" r="2.35" class="p"/>
<circle cx="659.12" cy="109.35" r="2.35" class="p"/>
<circle cx="654.64" cy="105.07" r="2.35" class="p"/>
<circle cx="671.27" cy="119.29" r="2.35" class="p"/>
<circle cx="644.44" cy="98.39" r="2.35" class="p"/>
<circle cx="657.61" cy="102.31" r="2.35" class="p"/>
<circle cx="671.05" cy="107.95" r="2.35" class="p"/>
<circle cx="672.43" cy="86.01" r="2.35" class="p"/>
<circle cx="649.07" cy="90.52" r="2.35" class="p"/>
<circle cx="664.76" cy="92.16" r="2.35" class="p"/>
<circle cx="667.24" cy="107.89" r="2.35" class="p"/>
<circle cx="646.14" cy="95.02" r="2.35" class="p"/>
<circle cx="659.74" cy="116.17" r="2.35" class="p"/>
<circle cx="672.74" cy="99.07" r="2.35" class="p"/>
<circle cx="673.14" cy="102.77" r="2.35" class="p"/>
<circle cx="645.19" cy="104.98" r="2.35" class="p"/>
<circle cx="666.85" cy="94.34" r="2.35" class="p"/>
<circle cx="664.72" cy="94.76" r="2.35" class="p"/>
<circle cx="666.36" cy="98.36" r="2.35" class="p"/>
<circle cx="669.88" cy="98.33" r="2.35" class="p"/>
<circle cx="664.75" cy="99.72" r="2.35" class="p"/>
<circle cx="658.5" cy="114.4" r="2.35" class="p"/>
<circle cx="655.83" cy="94.71" r="2.35" class="p"/>
<circle cx="674.75" cy="116.13" r="2.35" class="p"/>
<circle cx="668.19" cy="94.54" r="2.35" class="p"/>
<circle cx="642.44" cy="99.28" r="2.35" class="p"/>
<circle cx="666.01" cy="100.68" r="2.35" class="p"/>
<circle cx="662.91" cy="96.53" r="2.35" class="p"/>
<circle cx="653.76" cy="112.12" r="2.35" class="p"/>
<circle cx="660.69" cy="91.5" r="2.35" class="p"/>
<circle cx="675.33" cy="95.03" r="2.35" class="p"/>
<circle cx="665" cy="119.77" r="2.35" class="p"/>
<circle cx="669.85" cy="94.69" r="2.35" class="p"/>
<circle cx="661.33" cy="86.54" r="2.35" class="p"/>
<circle cx="649.73" cy="92.63" r="2.35" class="p"/>
<circle cx="670.8" cy="97.41" r="2.35" class="p"/>
<circle cx="643.87" cy="90.18" r="2.35" class="p"/>
<circle cx="662.55" cy="88.62" r="2.35" class="p"/>
<circle cx="654.12" cy="109.81" r="2.35" class="p"/>
<circle cx="676.22" cy="85.62" r="2.35" class="p"/>
<circle cx="666.29" cy="103.55" r="2.35" class="p"/>
<circle cx="655.8" cy="91.21" r="2.35" class="p"/>
<circle cx="660.77" cy="99.68" r="2.35" class="p"/>
<circle cx="652.03" cy="96.31" r="2.35" class="p"/>
<circle cx="642.31" cy="95.94" r="2.35" class="p"/>
<circle cx="648.39" cy="96.02" r="2.35" class="p"/>
<circle cx="667.11" cy="96.53" r="2.35" class="p"/>
<circle cx="675.39" cy="111.87" r="2.35" class="p"/>
<circle cx="653.95" cy="92.75" r="2.35" class="p"/>
<circle cx="651.75" cy="93.6" r="2.35" class="p"/>
<circle cx="663.46" cy="103.57" r="2.35" class="p"/>
<circle cx="662.72" cy="77.44" r="2.35" class="p"/>
<circle cx="666.41" cy="72.46" r="2.35" class="p"/>
<circle cx="676.44" cy="79.43" r="2.35" class="p"/>
<circle cx="674.11" cy="75.19" r="2.35" class="p"/>
<circle cx="665.39" cy="76.85" r="2.35" class="p"/>
<circle cx="670.22" cy="84.26" r="2.35" class="p"/>
<circle cx="666.98" cy="69.05" r="2.35" class="p"/>
<circle cx="660.69" cy="70.66" r="2.35" class="p"/>
<circle cx="673.81" cy="85.24" r="2.35" class="p"/>
<circle cx="662.54" cy="72.54" r="2.35" class="p"/>
<circle cx="671.29" cy="76.71" r="2.35" class="p"/>
<circle cx="676.78" cy="74.62" r="2.35" class="p"/>
<circle cx="665.08" cy="80.98" r="2.35" class="p"/>
<circle cx="673.75" cy="80.34" r="2.35" class="p"/>
<circle cx="626.85" cy="90.51" r="2.35" class="p"/>
<circle cx="631.68" cy="91.89" r="2.35" class="p"/>
<circle cx="639.61" cy="93" r="2.35" class="p"/>
<circle cx="640.23" cy="90.78" r="2.35" class="p"/>
<circle cx="637.22" cy="85.79" r="2.35" class="p"/>
<circle cx="623.83" cy="87.12" r="2.35" class="p"/>
<circle cx="635.28" cy="84.55" r="2.35" class="p"/>
<circle cx="671.1" cy="95.78" r="2.35" class="p"/>
<circle cx="663.63" cy="94.8" r="2.35" class="p"/>
<circle cx="615.06" cy="75" r="2.35" class="p"/>
<circle cx="672.93" cy="96.08" r="2.35" class="p"/>
<circle cx="647.53" cy="92.47" r="2.35" class="p"/>
<circle cx="631.94" cy="85.17" r="2.35" class="p"/>
<circle cx="632.21" cy="83.02" r="2.35" class="p"/>
<circle cx="655.65" cy="90.42" r="2.35" class="p"/>
<circle cx="666.27" cy="93.46" r="2.35" class="p"/>
<circle cx="620.29" cy="80.83" r="2.35" class="p"/>
<circle cx="621.12" cy="77.31" r="2.35" class="p"/>
<circle cx="638.27" cy="88.49" r="2.35" class="p"/>
<circle cx="655.57" cy="93.3" r="2.35" class="p"/>
<circle cx="634.12" cy="86.14" r="2.35" class="p"/>
<circle cx="649.54" cy="92.63" r="2.35" class="p"/>
<circle cx="668.46" cy="92.16" r="2.35" class="p"/>
<circle cx="648.76" cy="89.42" r="2.35" class="p"/>
<circle cx="665.41" cy="90.71" r="2.35" class="p"/>
<circle cx="642.54" cy="86.9" r="2.35" class="p"/>
<circle cx="619.12" cy="77.9" r="2.35" class="p"/>
<circle cx="617.08" cy="78.77" r="2.35" class="p"/>
</g>
<path d="M546.5,62.6 L547.58,62.6 L548.65,62.61 L549.73,62.61 L550.8,62.62 L551.88,62.64 L552.95,62.65 L554.03,62.67 L555.11,62.7 L556.18,62.72 L557.26,62.75 L558.33,62.78 L559.41,62.81 L560.48,62.84 L561.56,62.88 L562.63,62.92 L563.71,62.96 L564.79,63.01 L565.86,63.05 L566.94,63.1 L568.01,63.15 L569.09,63.2 L570.16,63.26 L571.24,63.31 L572.32,63.4 L573.39,63.51 L574.47,63.65 L575.54,63.81 L576.62,63.97 L577.69,64.15 L578.77,64.32 L579.84,64.48 L580.92,64.63 L582,64.78 L583.07,64.92 L584.15,65.06 L585.22,65.2 L586.3,65.34 L587.37,65.48 L588.45,65.62 L589.53,65.77 L590.6,65.92 L591.68,66.07 L592.75,66.24 L593.83,66.41 L594.9,66.59 L595.98,66.78 L597.05,66.98 L598.13,67.19 L599.21,67.42 L600.28,67.67 L601.36,67.95 L602.43,68.28 L603.51,68.64 L604.58,69.04 L605.66,69.46 L606.74,69.9 L607.81,70.36 L608.89,70.82 L609.96,71.28 L611.04,71.76 L612.11,72.27 L613.19,72.8 L614.26,73.35 L615.34,73.91 L616.42,74.48 L617.49,75.06 L618.57,75.64 L619.64,76.21 L620.72,76.78 L621.79,77.36 L622.87,77.96 L623.95,78.56 L625.02,79.16 L626.1,79.76 L627.17,80.34 L628.25,80.92 L629.32,81.47 L630.4,81.99 L631.47,82.5 L632.55,82.99 L633.63,83.47 L634.7,83.95 L635.78,84.41 L636.85,84.87 L637.93,85.32 L639,85.78 L640.08,86.23 L641.16,86.7 L642.23,87.18 L643.31,87.66 L644.38,88.14 L645.46,88.61 L646.53,89.06 L647.61,89.49 L648.68,89.88 L649.76,90.23 L650.84,90.54 L651.91,90.85 L652.99,91.15 L654.06,91.44 L655.14,91.7 L656.21,91.95 L657.29,92.17 L658.37,92.37 L659.44,92.53 L660.52,92.66 L661.59,92.78 L662.67,92.89 L663.74,93 L664.82,93.09 L665.89,93.18 L666.97,93.25 L668.05,93.32 L669.12,93.37 L670.2,93.41 L671.27,93.44 L672.35,93.47 L673.42,93.49 L674.5,93.5" fill="none" stroke="rgba(200,200,200,0.8)" stroke-width="7" stroke-linecap="butt"/>
<path d="M546.5,60.5 L547.57,60.5 L548.64,60.5 L549.71,60.51 L550.79,60.51 L551.86,60.52 L552.93,60.53 L554,60.54 L555.07,60.56 L556.14,60.57 L557.21,60.59 L558.29,60.6 L559.36,60.62 L560.43,60.64 L561.5,60.66 L562.57,60.69 L563.64,60.71 L564.71,60.73 L565.79,60.76 L566.86,60.79 L567.93,60.81 L569,60.84 L570.07,60.87 L571.14,60.9 L572.21,60.94 L573.29,61 L574.36,61.06 L575.43,61.13 L576.5,61.21 L577.57,61.3 L578.64,61.38 L579.71,61.48 L580.79,61.57 L581.86,61.67 L582.93,61.78 L584,61.9 L585.07,62.03 L586.14,62.16 L587.21,62.3 L588.29,62.45 L589.36,62.6 L590.43,62.77 L591.5,62.94 L592.57,63.12 L593.64,63.31 L594.71,63.52 L595.79,63.74 L596.86,63.97 L597.93,64.2 L599,64.46 L600.07,64.72 L601.14,65 L602.21,65.3 L603.29,65.62 L604.36,65.96 L605.43,66.32 L606.5,66.7 L607.57,67.08 L608.64,67.48 L609.71,67.89 L610.79,68.31 L611.86,68.76 L612.93,69.24 L614,69.73 L615.07,70.24 L616.14,70.76 L617.21,71.3 L618.29,71.84 L619.36,72.38 L620.43,72.92 L621.5,73.48 L622.57,74.06 L623.64,74.65 L624.71,75.25 L625.79,75.85 L626.86,76.44 L627.93,77.02 L629,77.59 L630.07,78.14 L631.14,78.66 L632.21,79.18 L633.29,79.69 L634.36,80.19 L635.43,80.68 L636.5,81.17 L637.57,81.64 L638.64,82.11 L639.71,82.58 L640.79,83.04 L641.86,83.51 L642.93,83.97 L644,84.44 L645.07,84.89 L646.14,85.33 L647.21,85.75 L648.29,86.14 L649.36,86.5 L650.43,86.83 L651.5,87.14 L652.57,87.44 L653.64,87.73 L654.71,88 L655.79,88.26 L656.86,88.5 L657.93,88.73 L659,88.93 L660.07,89.11 L661.14,89.28 L662.21,89.44 L663.29,89.59 L664.36,89.74 L665.43,89.87 L666.5,89.99 L667.57,90.1 L668.64,90.2 L669.71,90.28 L670.79,90.35 L671.86,90.41 L672.93,90.46 L674,90.5" fill="none" stroke="#000" stroke-width="1.8"/>
<line x1="546.9" y1="27.4" x2="546.9" y2="24.9" stroke="#000" stroke-width="0.8" />
<line x1="546.9" y1="125.2" x2="546.9" y2="127.7" stroke="#000" stroke-width="0.8" />
<line x1="550.33" y1="27.4" x2="550.33" y2="24.9" stroke="#000" stroke-width="0.8" />
<line x1="550.33" y1="125.2" x2="550.33" y2="127.7" stroke="#000" stroke-width="0.8" />
<line x1="553.23" y1="27.4" x2="553.23" y2="24.9" stroke="#000" stroke-width="0.8" />
<line x1="553.23" y1="125.2" x2="553.23" y2="127.7" stroke="#000" stroke-width="0.8" />
<line x1="555.75" y1="27.4" x2="555.75" y2="24.9" stroke="#000" stroke-width="0.8" />
<line x1="555.75" y1="125.2" x2="555.75" y2="127.7" stroke="#000" stroke-width="0.8" />
<line x1="557.96" y1="27.4" x2="557.96" y2="24.9" stroke="#000" stroke-width="0.8" />
<line x1="557.96" y1="125.2" x2="557.96" y2="127.7" stroke="#000" stroke-width="0.8" />
<line x1="559.94" y1="27.4" x2="559.94" y2="22.9" stroke="#000" stroke-width="0.8" />
<line x1="559.94" y1="125.2" x2="559.94" y2="129.7" stroke="#000" stroke-width="0.8" />
<line x1="572.99" y1="27.4" x2="572.99" y2="24.9" stroke="#000" stroke-width="0.8" />
<line x1="572.99" y1="125.2" x2="572.99" y2="127.7" stroke="#000" stroke-width="0.8" />
<line x1="580.62" y1="27.4" x2="580.62" y2="24.9" stroke="#000" stroke-width="0.8" />
<line x1="580.62" y1="125.2" x2="580.62" y2="127.7" stroke="#000" stroke-width="0.8" />
<line x1="586.03" y1="27.4" x2="586.03" y2="24.9" stroke="#000" stroke-width="0.8" />
<line x1="586.03" y1="125.2" x2="586.03" y2="127.7" stroke="#000" stroke-width="0.8" />
<line x1="590.23" y1="27.4" x2="590.23" y2="24.9" stroke="#000" stroke-width="0.8" />
<line x1="590.23" y1="125.2" x2="590.23" y2="127.7" stroke="#000" stroke-width="0.8" />
<line x1="593.66" y1="27.4" x2="593.66" y2="24.9" stroke="#000" stroke-width="0.8" />
<line x1="593.66" y1="125.2" x2="593.66" y2="127.7" stroke="#000" stroke-width="0.8" />
<line x1="596.57" y1="27.4" x2="596.57" y2="24.9" stroke="#000" stroke-width="0.8" />
<line x1="596.57" y1="125.2" x2="596.57" y2="127.7" stroke="#000" stroke-width="0.8" />
<line x1="599.08" y1="27.4" x2="599.08" y2="24.9" stroke="#000" stroke-width="0.8" />
<line x1="599.08" y1="125.2" x2="599.08" y2="127.7" stroke="#000" stroke-width="0.8" />
<line x1="601.3" y1="27.4" x2="601.3" y2="24.9" stroke="#000" stroke-width="0.8" />
<line x1="601.3" y1="125.2" x2="601.3" y2="127.7" stroke="#000" stroke-width="0.8" />
<line x1="603.28" y1="27.4" x2="603.28" y2="22.9" stroke="#000" stroke-width="0.8" />
<line x1="603.28" y1="125.2" x2="603.28" y2="129.7" stroke="#000" stroke-width="0.8" />
<line x1="616.32" y1="27.4" x2="616.32" y2="24.9" stroke="#000" stroke-width="0.8" />
<line x1="616.32" y1="125.2" x2="616.32" y2="127.7" stroke="#000" stroke-width="0.8" />
<line x1="623.95" y1="27.4" x2="623.95" y2="24.9" stroke="#000" stroke-width="0.8" />
<line x1="623.95" y1="125.2" x2="623.95" y2="127.7" stroke="#000" stroke-width="0.8" />
<line x1="629.37" y1="27.4" x2="629.37" y2="24.9" stroke="#000" stroke-width="0.8" />
<line x1="629.37" y1="125.2" x2="629.37" y2="127.7" stroke="#000" stroke-width="0.8" />
<line x1="633.57" y1="27.4" x2="633.57" y2="24.9" stroke="#000" stroke-width="0.8" />
<line x1="633.57" y1="125.2" x2="633.57" y2="127.7" stroke="#000" stroke-width="0.8" />
<line x1="637" y1="27.4" x2="637" y2="24.9" stroke="#000" stroke-width="0.8" />
<line x1="637" y1="125.2" x2="637" y2="127.7" stroke="#000" stroke-width="0.8" />
<line x1="639.9" y1="27.4" x2="639.9" y2="24.9" stroke="#000" stroke-width="0.8" />
<line x1="639.9" y1="125.2" x2="639.9" y2="127.7" stroke="#000" stroke-width="0.8" />
<line x1="642.41" y1="27.4" x2="642.41" y2="24.9" stroke="#000" stroke-width="0.8" />
<line x1="642.41" y1="125.2" x2="642.41" y2="127.7" stroke="#000" stroke-width="0.8" />
<line x1="644.63" y1="27.4" x2="644.63" y2="24.9" stroke="#000" stroke-width="0.8" />
<line x1="644.63" y1="125.2" x2="644.63" y2="127.7" stroke="#000" stroke-width="0.8" />
<line x1="646.61" y1="27.4" x2="646.61" y2="22.9" stroke="#000" stroke-width="0.8" />
<line x1="646.61" y1="125.2" x2="646.61" y2="129.7" stroke="#000" stroke-width="0.8" />
<line x1="659.66" y1="27.4" x2="659.66" y2="24.9" stroke="#000" stroke-width="0.8" />
<line x1="659.66" y1="125.2" x2="659.66" y2="127.7" stroke="#000" stroke-width="0.8" />
<line x1="667.29" y1="27.4" x2="667.29" y2="24.9" stroke="#000" stroke-width="0.8" />
<line x1="667.29" y1="125.2" x2="667.29" y2="127.7" stroke="#000" stroke-width="0.8" />
<line x1="672.7" y1="27.4" x2="672.7" y2="24.9" stroke="#000" stroke-width="0.8" />
<line x1="672.7" y1="125.2" x2="672.7" y2="127.7" stroke="#000" stroke-width="0.8" />
<line x1="676.9" y1="27.4" x2="676.9" y2="24.9" stroke="#000" stroke-width="0.8" />
<line x1="676.9" y1="125.2" x2="676.9" y2="127.7" stroke="#000" stroke-width="0.8" />
<line x1="546.9" y1="125.2" x2="542.4" y2="125.2" stroke="#000" stroke-width="0.8" />
<line x1="676.9" y1="125.2" x2="681.4" y2="125.2" stroke="#000" stroke-width="0.8" />
<line x1="546.9" y1="116.56" x2="544.4" y2="116.56" stroke="#000" stroke-width="0.8" />
<line x1="676.9" y1="116.56" x2="679.4" y2="116.56" stroke="#000" stroke-width="0.8" />
<line x1="546.9" y1="111.51" x2="544.4" y2="111.51" stroke="#000" stroke-width="0.8" />
<line x1="676.9" y1="111.51" x2="679.4" y2="111.51" stroke="#000" stroke-width="0.8" />
<line x1="546.9" y1="107.92" x2="544.4" y2="107.92" stroke="#000" stroke-width="0.8" />
<line x1="676.9" y1="107.92" x2="679.4" y2="107.92" stroke="#000" stroke-width="0.8" />
<line x1="546.9" y1="105.14" x2="544.4" y2="105.14" stroke="#000" stroke-width="0.8" />
<line x1="676.9" y1="105.14" x2="679.4" y2="105.14" stroke="#000" stroke-width="0.8" />
<line x1="546.9" y1="102.87" x2="544.4" y2="102.87" stroke="#000" stroke-width="0.8" />
<line x1="676.9" y1="102.87" x2="679.4" y2="102.87" stroke="#000" stroke-width="0.8" />
<line x1="546.9" y1="100.95" x2="544.4" y2="100.95" stroke="#000" stroke-width="0.8" />
<line x1="676.9" y1="100.95" x2="679.4" y2="100.95" stroke="#000" stroke-width="0.8" />
<line x1="546.9" y1="99.28" x2="544.4" y2="99.28" stroke="#000" stroke-width="0.8" />
<line x1="676.9" y1="99.28" x2="679.4" y2="99.28" stroke="#000" stroke-width="0.8" />
<line x1="546.9" y1="97.82" x2="544.4" y2="97.82" stroke="#000" stroke-width="0.8" />
<line x1="676.9" y1="97.82" x2="679.4" y2="97.82" stroke="#000" stroke-width="0.8" />
<line x1="546.9" y1="96.5" x2="542.4" y2="96.5" stroke="#000" stroke-width="0.8" />
<line x1="676.9" y1="96.5" x2="681.4" y2="96.5" stroke="#000" stroke-width="0.8" />
<line x1="546.9" y1="87.86" x2="544.4" y2="87.86" stroke="#000" stroke-width="0.8" />
<line x1="676.9" y1="87.86" x2="679.4" y2="87.86" stroke="#000" stroke-width="0.8" />
<line x1="546.9" y1="82.81" x2="544.4" y2="82.81" stroke="#000" stroke-width="0.8" />
<line x1="676.9" y1="82.81" x2="679.4" y2="82.81" stroke="#000" stroke-width="0.8" />
<line x1="546.9" y1="79.23" x2="544.4" y2="79.23" stroke="#000" stroke-width="0.8" />
<line x1="676.9" y1="79.23" x2="679.4" y2="79.23" stroke="#000" stroke-width="0.8" />
<line x1="546.9" y1="76.44" x2="544.4" y2="76.44" stroke="#000" stroke-width="0.8" />
<line x1="676.9" y1="76.44" x2="679.4" y2="76.44" stroke="#000" stroke-width="0.8" />
<line x1="546.9" y1="74.17" x2="544.4" y2="74.17" stroke="#000" stroke-width="0.8" />
<line x1="676.9" y1="74.17" x2="679.4" y2="74.17" stroke="#000" stroke-width="0.8" />
<line x1="546.9" y1="72.25" x2="544.4" y2="72.25" stroke="#000" stroke-width="0.8" />
<line x1="676.9" y1="72.25" x2="679.4" y2="72.25" stroke="#000" stroke-width="0.8" />
<line x1="546.9" y1="70.59" x2="544.4" y2="70.59" stroke="#000" stroke-width="0.8" />
<line x1="676.9" y1="70.59" x2="679.4" y2="70.59" stroke="#000" stroke-width="0.8" />
<line x1="546.9" y1="69.12" x2="544.4" y2="69.12" stroke="#000" stroke-width="0.8" />
<line x1="676.9" y1="69.12" x2="679.4" y2="69.12" stroke="#000" stroke-width="0.8" />
<line x1="546.9" y1="67.81" x2="542.4" y2="67.81" stroke="#000" stroke-width="0.8" />
<line x1="676.9" y1="67.81" x2="681.4" y2="67.81" stroke="#000" stroke-width="0.8" />
<line x1="546.9" y1="59.17" x2="544.4" y2="59.17" stroke="#000" stroke-width="0.8" />
<line x1="676.9" y1="59.17" x2="679.4" y2="59.17" stroke="#000" stroke-width="0.8" />
<line x1="546.9" y1="54.11" x2="544.4" y2="54.11" stroke="#000" stroke-width="0.8" />
<line x1="676.9" y1="54.11" x2="679.4" y2="54.11" stroke="#000" stroke-width="0.8" />
<line x1="546.9" y1="50.53" x2="544.4" y2="50.53" stroke="#000" stroke-width="0.8" />
<line x1="676.9" y1="50.53" x2="679.4" y2="50.53" stroke="#000" stroke-width="0.8" />
<line x1="546.9" y1="47.75" x2="544.4" y2="47.75" stroke="#000" stroke-width="0.8" />
<line x1="676.9" y1="47.75" x2="679.4" y2="47.75" stroke="#000" stroke-width="0.8" />
<line x1="546.9" y1="45.47" x2="544.4" y2="45.47" stroke="#000" stroke-width="0.8" />
<line x1="676.9" y1="45.47" x2="679.4" y2="45.47" stroke="#000" stroke-width="0.8" />
<line x1="546.9" y1="43.55" x2="544.4" y2="43.55" stroke="#000" stroke-width="0.8" />
<line x1="676.9" y1="43.55" x2="679.4" y2="43.55" stroke="#000" stroke-width="0.8" />
<line x1="546.9" y1="41.89" x2="544.4" y2="41.89" stroke="#000" stroke-width="0.8" />
<line x1="676.9" y1="41.89" x2="679.4" y2="41.89" stroke="#000" stroke-width="0.8" />
<line x1="546.9" y1="40.42" x2="544.4" y2="40.42" stroke="#000" stroke-width="0.8" />
<line x1="676.9" y1="40.42" x2="679.4" y2="40.42" stroke="#000" stroke-width="0.8" />
<line x1="546.9" y1="39.11" x2="542.4" y2="39.11" stroke="#000" stroke-width="0.8" />
<line x1="676.9" y1="39.11" x2="681.4" y2="39.11" stroke="#000" stroke-width="0.8" />
<line x1="546.9" y1="30.47" x2="544.4" y2="30.47" stroke="#000" stroke-width="0.8" />
<line x1="676.9" y1="30.47" x2="679.4" y2="30.47" stroke="#000" stroke-width="0.8" />
<text x="538.3" y="129.3" font-size="10.8" text-anchor="end" >10<tspan font-size="6.8" dy="-5" dx="-0.7">0</tspan></text>
<text x="538.3" y="100.6" font-size="10.8" text-anchor="end" >10<tspan font-size="6.8" dy="-5" dx="-0.7">1</tspan></text>
<text x="538.3" y="71.91" font-size="10.8" text-anchor="end" >10<tspan font-size="6.8" dy="-5" dx="-0.7">2</tspan></text>
<text x="538.3" y="43.21" font-size="10.8" text-anchor="end" >10<tspan font-size="6.8" dy="-5" dx="-0.7">3</tspan></text>
<text x="550.4" y="121.7" font-size="11" text-anchor="start" ><tspan font-style="italic">T</tspan> = 5.0 s</text>
<rect x="642.41" y="141.3" width="34.49" height="57.19999999999999" fill="#d3d3d3"/>
<line x1="642.41" y1="141.3" x2="642.41" y2="198.5" stroke="#222" stroke-width="0.9" />
<rect x="546.9" y="141.3" width="130.0" height="57.19999999999999" fill="none" stroke="#000" stroke-width="1.2"/>
<g clip-path="url(#cb3)">
<rect x="544.3" y="161.4" width="4.6" height="4.6" class="c"/>
<rect x="544.3" y="164" width="4.6" height="4.6" class="c"/>
<rect x="544.3" y="166.6" width="4.6" height="4.6" class="c"/>
<rect x="544.3" y="169.2" width="4.6" height="4.6" class="c"/>
<rect x="544.3" y="171.7" width="4.6" height="4.6" class="c"/>
<rect x="544.3" y="187.2" width="4.6" height="4.6" class="c"/>
<rect x="544.3" y="189.7" width="4.6" height="4.6" class="c"/>
<rect x="544.3" y="192.3" width="4.6" height="4.6" class="c"/>
<rect x="544.3" y="194.9" width="4.6" height="4.6" class="c"/>
<rect x="584.2" y="164" width="4.6" height="4.6" class="c"/>
<rect x="588.1" y="168.3" width="4.6" height="4.6" class="c"/>
<rect x="591" y="166.2" width="4.6" height="4.6" class="c"/>
<rect x="593.9" y="161.8" width="4.6" height="4.6" class="c"/>
<rect x="596.2" y="171.7" width="4.6" height="4.6" class="c"/>
<rect x="600.1" y="172.6" width="4.6" height="4.6" class="c"/>
<rect x="604.7" y="159.7" width="4.6" height="4.6" class="c"/>
<rect x="603.5" y="176.9" width="4.6" height="4.6" class="c"/>
<rect x="606.5" y="166.6" width="4.6" height="4.6" class="c"/>
<rect x="634.7" y="152" width="4.6" height="4.6" class="c"/>
<rect x="604.3" y="159.7" width="4.6" height="4.6" class="c"/>
<rect x="609.4" y="164.9" width="4.6" height="4.6" class="c"/>
<rect x="612" y="167.4" width="4.6" height="4.6" class="c"/>
<rect x="612.9" y="170" width="4.6" height="4.6" class="c"/>
<rect x="617.1" y="164.5" width="4.6" height="4.6" class="c"/>
<rect x="622.3" y="169.2" width="4.6" height="4.6" class="c"/>
<rect x="629.2" y="160.6" width="4.6" height="4.6" class="c"/>
<rect x="628.3" y="164.9" width="4.6" height="4.6" class="c"/>
<rect x="640.3" y="158.9" width="4.6" height="4.6" class="c"/>
<rect x="646.3" y="156.3" width="4.6" height="4.6" class="c"/>
<rect x="647.2" y="161.4" width="4.6" height="4.6" class="c"/>
<rect x="658.3" y="160.6" width="4.6" height="4.6" class="c"/>
<rect x="653.2" y="172.6" width="4.6" height="4.6" class="c"/>
<rect x="604.3" y="176.9" width="4.6" height="4.6" class="c"/>
<rect x="654.13" y="155.79" width="4.6" height="4.6" class="c"/>
<rect x="640.79" y="157.3" width="4.6" height="4.6" class="c"/>
<rect x="651.44" y="160.05" width="4.6" height="4.6" class="c"/>
<rect x="648.31" y="156.43" width="4.6" height="4.6" class="c"/>
<rect x="642.11" y="169.05" width="4.6" height="4.6" class="c"/>
<rect x="655.67" y="160.58" width="4.6" height="4.6" class="c"/>
<rect x="650.74" y="162.04" width="4.6" height="4.6" class="c"/>
<rect x="646.89" y="163.59" width="4.6" height="4.6" class="c"/>
<rect x="652.69" y="162.96" width="4.6" height="4.6" class="c"/>
<rect x="653.02" y="158.07" width="4.6" height="4.6" class="c"/>
<rect x="656.99" y="165.28" width="4.6" height="4.6" class="c"/>
<rect x="667.49" y="161.97" width="4.6" height="4.6" class="c"/>
<rect x="667.16" y="175.78" width="4.6" height="4.6" class="c"/>
<rect x="655.83" y="176.27" width="4.6" height="4.6" class="c"/>
<rect x="646.06" y="162.17" width="4.6" height="4.6" class="c"/>
<rect x="665.1" y="165.82" width="4.6" height="4.6" class="c"/>
<rect x="666.07" y="160.57" width="4.6" height="4.6" class="c"/>
<rect x="670.02" y="158.09" width="4.6" height="4.6" class="c"/>
<rect x="662.32" y="179.99" width="4.6" height="4.6" class="c"/>
<rect x="645.06" y="167.61" width="4.6" height="4.6" class="c"/>
<rect x="667.98" y="159.21" width="4.6" height="4.6" class="c"/>
<rect x="652.7" y="167.63" width="4.6" height="4.6" class="c"/>
<rect x="654.26" y="180.87" width="4.6" height="4.6" class="c"/>
<rect x="663.55" y="174.91" width="4.6" height="4.6" class="c"/>
<rect x="606.23" y="160.15" width="4.6" height="4.6" class="c"/>
<rect x="624.27" y="168.65" width="4.6" height="4.6" class="c"/>
<rect x="635.03" y="169.72" width="4.6" height="4.6" class="c"/>
<rect x="634.77" y="172.86" width="4.6" height="4.6" class="c"/>
<rect x="614.23" y="170.87" width="4.6" height="4.6" class="c"/>
<rect x="598.61" y="159.92" width="4.6" height="4.6" class="c"/>
<rect x="637.14" y="173.6" width="4.6" height="4.6" class="c"/>
<rect x="630.56" y="171.19" width="4.6" height="4.6" class="c"/>
<rect x="613.75" y="168.37" width="4.6" height="4.6" class="c"/>
<rect x="631.19" y="173.44" width="4.6" height="4.6" class="c"/>
<circle cx="578.4" cy="168.5" r="2.35" class="p"/>
<circle cx="607.6" cy="176.6" r="2.35" class="p"/>
<circle cx="608.8" cy="182.6" r="2.35" class="p"/>
<circle cx="614.3" cy="177.1" r="2.35" class="p"/>
<circle cx="626.3" cy="181.8" r="2.35" class="p"/>
<circle cx="630.6" cy="180" r="2.35" class="p"/>
<circle cx="634.9" cy="180.6" r="2.35" class="p"/>
<circle cx="635.7" cy="186.4" r="2.35" class="p"/>
<circle cx="631.5" cy="173.2" r="2.35" class="p"/>
<circle cx="609.1" cy="181.8" r="2.35" class="p"/>
<circle cx="666.6" cy="155.2" r="2.35" class="p"/>
<circle cx="646.9" cy="181.8" r="2.35" class="p"/>
<circle cx="620" cy="170" r="2.35" class="p"/>
<circle cx="625" cy="166" r="2.35" class="p"/>
<circle cx="615" cy="164" r="2.35" class="p"/>
<circle cx="662.05" cy="173.16" r="2.35" class="p"/>
<circle cx="670.18" cy="177.66" r="2.35" class="p"/>
<circle cx="666.37" cy="159.46" r="2.35" class="p"/>
<circle cx="667.48" cy="152.63" r="2.35" class="p"/>
<circle cx="670.93" cy="166.83" r="2.35" class="p"/>
<circle cx="663.02" cy="178.81" r="2.35" class="p"/>
<circle cx="672.57" cy="159.8" r="2.35" class="p"/>
<circle cx="666.72" cy="189.81" r="2.35" class="p"/>
<circle cx="662.48" cy="157.7" r="2.35" class="p"/>
<circle cx="663.48" cy="159.51" r="2.35" class="p"/>
<circle cx="669" cy="168.11" r="2.35" class="p"/>
<circle cx="673.43" cy="173.28" r="2.35" class="p"/>
<circle cx="663.2" cy="183.62" r="2.35" class="p"/>
<circle cx="665.13" cy="177.4" r="2.35" class="p"/>
<circle cx="666.32" cy="175.76" r="2.35" class="p"/>
<circle cx="660.29" cy="183.42" r="2.35" class="p"/>
<circle cx="667.81" cy="190.89" r="2.35" class="p"/>
<circle cx="673.22" cy="158.16" r="2.35" class="p"/>
<circle cx="667.81" cy="183.88" r="2.35" class="p"/>
<circle cx="665" cy="187.87" r="2.35" class="p"/>
<circle cx="658.69" cy="186.33" r="2.35" class="p"/>
<circle cx="666.37" cy="191.56" r="2.35" class="p"/>
<circle cx="663.95" cy="180.25" r="2.35" class="p"/>
<circle cx="668.9" cy="153.7" r="2.35" class="p"/>
<circle cx="665.73" cy="186.55" r="2.35" class="p"/>
<circle cx="661.83" cy="177.14" r="2.35" class="p"/>
<circle cx="669.51" cy="151.91" r="2.35" class="p"/>
<circle cx="664.04" cy="157.36" r="2.35" class="p"/>
<circle cx="673.81" cy="163.38" r="2.35" class="p"/>
<circle cx="661.17" cy="154.88" r="2.35" class="p"/>
<circle cx="665.04" cy="163.77" r="2.35" class="p"/>
<circle cx="673.33" cy="184.14" r="2.35" class="p"/>
<circle cx="663.52" cy="162.83" r="2.35" class="p"/>
<circle cx="659.47" cy="179.33" r="2.35" class="p"/>
<circle cx="662.42" cy="188.48" r="2.35" class="p"/>
<circle cx="664.12" cy="155.38" r="2.35" class="p"/>
<circle cx="658.93" cy="157.77" r="2.35" class="p"/>
<circle cx="673.32" cy="185.67" r="2.35" class="p"/>
<circle cx="658.77" cy="183.96" r="2.35" class="p"/>
<circle cx="658.57" cy="162.22" r="2.35" class="p"/>
<circle cx="664.68" cy="154.06" r="2.35" class="p"/>
<circle cx="665.46" cy="165.74" r="2.35" class="p"/>
<circle cx="659.61" cy="174.28" r="2.35" class="p"/>
<circle cx="661.4" cy="164.57" r="2.35" class="p"/>
<circle cx="672.11" cy="172.06" r="2.35" class="p"/>
<circle cx="663.41" cy="189.62" r="2.35" class="p"/>
<circle cx="667.44" cy="158.14" r="2.35" class="p"/>
<circle cx="670.71" cy="169.3" r="2.35" class="p"/>
<circle cx="673.55" cy="181.25" r="2.35" class="p"/>
<circle cx="669.33" cy="157.89" r="2.35" class="p"/>
<circle cx="671.15" cy="153.98" r="2.35" class="p"/>
<circle cx="669.31" cy="179.2" r="2.35" class="p"/>
<circle cx="673.97" cy="176.17" r="2.35" class="p"/>
<circle cx="672.42" cy="180.35" r="2.35" class="p"/>
<circle cx="668.72" cy="163.9" r="2.35" class="p"/>
<circle cx="659.78" cy="187.74" r="2.35" class="p"/>
<circle cx="655.89" cy="173.14" r="2.35" class="p"/>
<circle cx="651.53" cy="177.75" r="2.35" class="p"/>
<circle cx="649.3" cy="173.26" r="2.35" class="p"/>
<circle cx="657.38" cy="181.12" r="2.35" class="p"/>
<circle cx="640.02" cy="163.29" r="2.35" class="p"/>
<circle cx="643.15" cy="168.03" r="2.35" class="p"/>
<circle cx="645.82" cy="170.8" r="2.35" class="p"/>
<circle cx="650.36" cy="166.69" r="2.35" class="p"/>
<circle cx="656.03" cy="185.86" r="2.35" class="p"/>
<circle cx="650.74" cy="184.01" r="2.35" class="p"/>
<circle cx="642.97" cy="165.64" r="2.35" class="p"/>
<circle cx="654.46" cy="164.28" r="2.35" class="p"/>
<circle cx="638.95" cy="161.64" r="2.35" class="p"/>
<circle cx="645.31" cy="173.32" r="2.35" class="p"/>
<circle cx="655.98" cy="170.41" r="2.35" class="p"/>
<circle cx="652.63" cy="172.39" r="2.35" class="p"/>
<circle cx="639.98" cy="172.74" r="2.35" class="p"/>
<circle cx="657.09" cy="157.53" r="2.35" class="p"/>
<circle cx="642.16" cy="171.25" r="2.35" class="p"/>
<circle cx="646.57" cy="175.51" r="2.35" class="p"/>
<circle cx="654.8" cy="183.01" r="2.35" class="p"/>
<circle cx="645.63" cy="176.75" r="2.35" class="p"/>
<circle cx="657.31" cy="178.18" r="2.35" class="p"/>
<circle cx="641.61" cy="168.5" r="2.35" class="p"/>
<circle cx="650.7" cy="168.18" r="2.35" class="p"/>
<circle cx="651.9" cy="160.15" r="2.35" class="p"/>
<circle cx="653.18" cy="169.18" r="2.35" class="p"/>
<circle cx="646.87" cy="183.58" r="2.35" class="p"/>
<circle cx="643.84" cy="175.07" r="2.35" class="p"/>
<circle cx="651.06" cy="172" r="2.35" class="p"/>
<circle cx="649.57" cy="159.16" r="2.35" class="p"/>
<circle cx="650.19" cy="185.49" r="2.35" class="p"/>
<circle cx="647.36" cy="162.74" r="2.35" class="p"/>
<circle cx="640.7" cy="159.78" r="2.35" class="p"/>
<circle cx="643.96" cy="161.64" r="2.35" class="p"/>
<circle cx="654.36" cy="186.29" r="2.35" class="p"/>
<circle cx="632.25" cy="177.78" r="2.35" class="p"/>
<circle cx="627.3" cy="173.81" r="2.35" class="p"/>
<circle cx="603.12" cy="167.63" r="2.35" class="p"/>
<circle cx="622.47" cy="177.5" r="2.35" class="p"/>
<circle cx="608.93" cy="168.25" r="2.35" class="p"/>
<circle cx="613" cy="167.18" r="2.35" class="p"/>
<circle cx="601.25" cy="166.42" r="2.35" class="p"/>
<circle cx="634.8" cy="176.77" r="2.35" class="p"/>
</g>
<line x1="546.9" y1="170.3" x2="676.9" y2="170.3" stroke="#000" stroke-width="1.2" stroke-dasharray="6,2.6,1.3,2.6" stroke-dashoffset="-5.7"/>
<line x1="546.9" y1="141.3" x2="546.9" y2="138.8" stroke="#000" stroke-width="0.8" />
<line x1="546.9" y1="198.5" x2="546.9" y2="201" stroke="#000" stroke-width="0.8" />
<line x1="550.33" y1="141.3" x2="550.33" y2="138.8" stroke="#000" stroke-width="0.8" />
<line x1="550.33" y1="198.5" x2="550.33" y2="201" stroke="#000" stroke-width="0.8" />
<line x1="553.23" y1="141.3" x2="553.23" y2="138.8" stroke="#000" stroke-width="0.8" />
<line x1="553.23" y1="198.5" x2="553.23" y2="201" stroke="#000" stroke-width="0.8" />
<line x1="555.75" y1="141.3" x2="555.75" y2="138.8" stroke="#000" stroke-width="0.8" />
<line x1="555.75" y1="198.5" x2="555.75" y2="201" stroke="#000" stroke-width="0.8" />
<line x1="557.96" y1="141.3" x2="557.96" y2="138.8" stroke="#000" stroke-width="0.8" />
<line x1="557.96" y1="198.5" x2="557.96" y2="201" stroke="#000" stroke-width="0.8" />
<line x1="559.94" y1="141.3" x2="559.94" y2="136.8" stroke="#000" stroke-width="0.8" />
<line x1="559.94" y1="198.5" x2="559.94" y2="203" stroke="#000" stroke-width="0.8" />
<line x1="572.99" y1="141.3" x2="572.99" y2="138.8" stroke="#000" stroke-width="0.8" />
<line x1="572.99" y1="198.5" x2="572.99" y2="201" stroke="#000" stroke-width="0.8" />
<line x1="580.62" y1="141.3" x2="580.62" y2="138.8" stroke="#000" stroke-width="0.8" />
<line x1="580.62" y1="198.5" x2="580.62" y2="201" stroke="#000" stroke-width="0.8" />
<line x1="586.03" y1="141.3" x2="586.03" y2="138.8" stroke="#000" stroke-width="0.8" />
<line x1="586.03" y1="198.5" x2="586.03" y2="201" stroke="#000" stroke-width="0.8" />
<line x1="590.23" y1="141.3" x2="590.23" y2="138.8" stroke="#000" stroke-width="0.8" />
<line x1="590.23" y1="198.5" x2="590.23" y2="201" stroke="#000" stroke-width="0.8" />
<line x1="593.66" y1="141.3" x2="593.66" y2="138.8" stroke="#000" stroke-width="0.8" />
<line x1="593.66" y1="198.5" x2="593.66" y2="201" stroke="#000" stroke-width="0.8" />
<line x1="596.57" y1="141.3" x2="596.57" y2="138.8" stroke="#000" stroke-width="0.8" />
<line x1="596.57" y1="198.5" x2="596.57" y2="201" stroke="#000" stroke-width="0.8" />
<line x1="599.08" y1="141.3" x2="599.08" y2="138.8" stroke="#000" stroke-width="0.8" />
<line x1="599.08" y1="198.5" x2="599.08" y2="201" stroke="#000" stroke-width="0.8" />
<line x1="601.3" y1="141.3" x2="601.3" y2="138.8" stroke="#000" stroke-width="0.8" />
<line x1="601.3" y1="198.5" x2="601.3" y2="201" stroke="#000" stroke-width="0.8" />
<line x1="603.28" y1="141.3" x2="603.28" y2="136.8" stroke="#000" stroke-width="0.8" />
<line x1="603.28" y1="198.5" x2="603.28" y2="203" stroke="#000" stroke-width="0.8" />
<line x1="616.32" y1="141.3" x2="616.32" y2="138.8" stroke="#000" stroke-width="0.8" />
<line x1="616.32" y1="198.5" x2="616.32" y2="201" stroke="#000" stroke-width="0.8" />
<line x1="623.95" y1="141.3" x2="623.95" y2="138.8" stroke="#000" stroke-width="0.8" />
<line x1="623.95" y1="198.5" x2="623.95" y2="201" stroke="#000" stroke-width="0.8" />
<line x1="629.37" y1="141.3" x2="629.37" y2="138.8" stroke="#000" stroke-width="0.8" />
<line x1="629.37" y1="198.5" x2="629.37" y2="201" stroke="#000" stroke-width="0.8" />
<line x1="633.57" y1="141.3" x2="633.57" y2="138.8" stroke="#000" stroke-width="0.8" />
<line x1="633.57" y1="198.5" x2="633.57" y2="201" stroke="#000" stroke-width="0.8" />
<line x1="637" y1="141.3" x2="637" y2="138.8" stroke="#000" stroke-width="0.8" />
<line x1="637" y1="198.5" x2="637" y2="201" stroke="#000" stroke-width="0.8" />
<line x1="639.9" y1="141.3" x2="639.9" y2="138.8" stroke="#000" stroke-width="0.8" />
<line x1="639.9" y1="198.5" x2="639.9" y2="201" stroke="#000" stroke-width="0.8" />
<line x1="642.41" y1="141.3" x2="642.41" y2="138.8" stroke="#000" stroke-width="0.8" />
<line x1="642.41" y1="198.5" x2="642.41" y2="201" stroke="#000" stroke-width="0.8" />
<line x1="644.63" y1="141.3" x2="644.63" y2="138.8" stroke="#000" stroke-width="0.8" />
<line x1="644.63" y1="198.5" x2="644.63" y2="201" stroke="#000" stroke-width="0.8" />
<line x1="646.61" y1="141.3" x2="646.61" y2="136.8" stroke="#000" stroke-width="0.8" />
<line x1="646.61" y1="198.5" x2="646.61" y2="203" stroke="#000" stroke-width="0.8" />
<line x1="659.66" y1="141.3" x2="659.66" y2="138.8" stroke="#000" stroke-width="0.8" />
<line x1="659.66" y1="198.5" x2="659.66" y2="201" stroke="#000" stroke-width="0.8" />
<line x1="667.29" y1="141.3" x2="667.29" y2="138.8" stroke="#000" stroke-width="0.8" />
<line x1="667.29" y1="198.5" x2="667.29" y2="201" stroke="#000" stroke-width="0.8" />
<line x1="672.7" y1="141.3" x2="672.7" y2="138.8" stroke="#000" stroke-width="0.8" />
<line x1="672.7" y1="198.5" x2="672.7" y2="201" stroke="#000" stroke-width="0.8" />
<line x1="676.9" y1="141.3" x2="676.9" y2="138.8" stroke="#000" stroke-width="0.8" />
<line x1="676.9" y1="198.5" x2="676.9" y2="201" stroke="#000" stroke-width="0.8" />
<line x1="546.9" y1="198.5" x2="542.4" y2="198.5" stroke="#000" stroke-width="0.8" />
<line x1="676.9" y1="198.5" x2="681.4" y2="198.5" stroke="#000" stroke-width="0.8" />
<line x1="546.9" y1="188.97" x2="542.4" y2="188.97" stroke="#000" stroke-width="0.8" />
<line x1="676.9" y1="188.97" x2="681.4" y2="188.97" stroke="#000" stroke-width="0.8" />
<line x1="546.9" y1="179.43" x2="542.4" y2="179.43" stroke="#000" stroke-width="0.8" />
<line x1="676.9" y1="179.43" x2="681.4" y2="179.43" stroke="#000" stroke-width="0.8" />
<line x1="546.9" y1="169.9" x2="542.4" y2="169.9" stroke="#000" stroke-width="0.8" />
<line x1="676.9" y1="169.9" x2="681.4" y2="169.9" stroke="#000" stroke-width="0.8" />
<line x1="546.9" y1="160.37" x2="542.4" y2="160.37" stroke="#000" stroke-width="0.8" />
<line x1="676.9" y1="160.37" x2="681.4" y2="160.37" stroke="#000" stroke-width="0.8" />
<line x1="546.9" y1="150.83" x2="542.4" y2="150.83" stroke="#000" stroke-width="0.8" />
<line x1="676.9" y1="150.83" x2="681.4" y2="150.83" stroke="#000" stroke-width="0.8" />
<line x1="546.9" y1="141.3" x2="542.4" y2="141.3" stroke="#000" stroke-width="0.8" />
<line x1="676.9" y1="141.3" x2="681.4" y2="141.3" stroke="#000" stroke-width="0.8" />
<line x1="546.9" y1="193.73" x2="544.4" y2="193.73" stroke="#000" stroke-width="0.8" />
<line x1="676.9" y1="193.73" x2="679.4" y2="193.73" stroke="#000" stroke-width="0.8" />
<line x1="546.9" y1="184.2" x2="544.4" y2="184.2" stroke="#000" stroke-width="0.8" />
<line x1="676.9" y1="184.2" x2="679.4" y2="184.2" stroke="#000" stroke-width="0.8" />
<line x1="546.9" y1="174.67" x2="544.4" y2="174.67" stroke="#000" stroke-width="0.8" />
<line x1="676.9" y1="174.67" x2="679.4" y2="174.67" stroke="#000" stroke-width="0.8" />
<line x1="546.9" y1="165.13" x2="544.4" y2="165.13" stroke="#000" stroke-width="0.8" />
<line x1="676.9" y1="165.13" x2="679.4" y2="165.13" stroke="#000" stroke-width="0.8" />
<line x1="546.9" y1="155.6" x2="544.4" y2="155.6" stroke="#000" stroke-width="0.8" />
<line x1="676.9" y1="155.6" x2="679.4" y2="155.6" stroke="#000" stroke-width="0.8" />
<line x1="546.9" y1="146.07" x2="544.4" y2="146.07" stroke="#000" stroke-width="0.8" />
<line x1="676.9" y1="146.07" x2="679.4" y2="146.07" stroke="#000" stroke-width="0.8" />
<text x="538.7" y="201.9" font-size="10" text-anchor="end" >-3</text>
<text x="538.7" y="192.37" font-size="10" text-anchor="end" >-2</text>
<text x="538.7" y="182.83" font-size="10" text-anchor="end" >-1</text>
<text x="538.7" y="173.3" font-size="10" text-anchor="end" >0</text>
<text x="538.7" y="163.77" font-size="10" text-anchor="end" >1</text>
<text x="538.7" y="154.23" font-size="10" text-anchor="end" >2</text>
<text x="538.7" y="144.7" font-size="10" text-anchor="end" >3</text>
<text x="560.24" y="216" font-size="10.5" text-anchor="middle" >10<tspan font-size="6.8" dy="-4.6">0</tspan></text>
<text x="603.58" y="216" font-size="10.5" text-anchor="middle" >10<tspan font-size="6.8" dy="-4.6">1</tspan></text>
<text x="646.91" y="216" font-size="10.5" text-anchor="middle" >10<tspan font-size="6.8" dy="-4.6">2</tspan></text>
<text x="611.9" y="234.8" font-size="11.5" text-anchor="middle" ><tspan font-style="italic">R</tspan><tspan font-size="7.5" dy="2.6">JB</tspan><tspan dy="-2.6">[km]</tspan></text>
<text transform="translate(22.6,72.1) rotate(-90)" font-size="10.5" text-anchor="middle">PGA[cm/s<tspan font-size="7" dy="-4">2</tspan><tspan dy="4">]</tspan></text>
<text transform="translate(23.8,172.3) rotate(-90)" font-size="10.4" text-anchor="middle">Total Residual</text>
<rect x="57.5" y="256.5" width="434" height="14.6" fill="#fff" stroke="#777" stroke-width="0.9"/>
<rect x="59.6" y="258.6" width="23.2" height="11.3" fill="#fff" stroke="#000" stroke-width="1.2"/>
<line x1="60.5" y1="260.6" x2="63.5" y2="260.6" stroke="#222" stroke-width="1.1" />
<line x1="68.5" y1="260.6" x2="73.5" y2="260.6" stroke="#222" stroke-width="1.1" />
<line x1="77.5" y1="260.6" x2="82" y2="260.6" stroke="#222" stroke-width="1.1" />
<line x1="64" y1="265.6" x2="69.5" y2="265.6" stroke="#222" stroke-width="1.1" />
<line x1="73" y1="265.6" x2="78.5" y2="265.6" stroke="#222" stroke-width="1.1" />
<text x="86.5" y="267.5" font-size="10" text-anchor="start" textLength="175" lengthAdjust="spacingAndGlyphs">The percentage of total residual values &gt; 0</text>
<rect x="267.5" y="258.6" width="22.9" height="11.2" fill="#fff" stroke="#000" stroke-width="1.2"/>
<rect x="271" y="261" width="0.9" height="0.9" fill="#666"/>
<rect x="278.5" y="261" width="0.9" height="0.9" fill="#666"/>
<rect x="286" y="261" width="0.9" height="0.9" fill="#666"/>
<rect x="274.5" y="264.5" width="0.9" height="0.9" fill="#666"/>
<rect x="282" y="264.5" width="0.9" height="0.9" fill="#666"/>
<rect x="271" y="268" width="0.9" height="0.9" fill="#666"/>
<rect x="278.5" y="268" width="0.9" height="0.9" fill="#666"/>
<rect x="286" y="268" width="0.9" height="0.9" fill="#666"/>
<text x="293.6" y="267.5" font-size="10" text-anchor="start" textLength="178.4" lengthAdjust="spacingAndGlyphs" xml:space="preserve">The  percentage of total residual values &lt; 0</text>
<text x="2.9" y="290.4" font-size="10.5" text-anchor="start" >Pazarclk</text>
<text x="2.9" y="302.5" font-size="10.5" text-anchor="start" >earthquake</text>
<text x="2.9" y="323" font-size="10.5" text-anchor="start" >Wenchuan</text>
<text x="2.9" y="335" font-size="10.5" text-anchor="start" >earthquake</text>
<pattern id="dt00" x="65.6" y="283.6" width="30.4" height="15.4" patternUnits="userSpaceOnUse"><rect x="-0.5" y="-0.5" width="1" height="1.1" fill="#555"/><rect x="7.1" y="-0.5" width="1" height="1.1" fill="#555"/><rect x="14.7" y="-0.5" width="1" height="1.1" fill="#555"/><rect x="22.3" y="-0.5" width="1" height="1.1" fill="#555"/><rect x="3.3" y="3.2" width="1" height="1.1" fill="#555"/><rect x="10.9" y="3.2" width="1" height="1.1" fill="#555"/><rect x="18.5" y="3.2" width="1" height="1.1" fill="#555"/><rect x="26.1" y="3.2" width="1" height="1.1" fill="#555"/><rect x="-0.5" y="7.2" width="1" height="1.1" fill="#555"/><rect x="14.7" y="7.2" width="1" height="1.1" fill="#555"/><rect x="22.3" y="7.2" width="1" height="1.1" fill="#555"/><rect x="3.3" y="10.8" width="1" height="1.1" fill="#555"/></pattern>
<pattern id="ds00" x="173.77" y="283.2" width="9.2" height="9.3" patternUnits="userSpaceOnUse"><rect x="0" y="-0.6" width="4.4" height="1.2" fill="#000"/><rect x="0" y="8.7" width="4.4" height="1.2" fill="#000"/><rect x="4.6" y="4.05" width="4.4" height="1.2" fill="#000"/></pattern>
<rect x="57.7" y="283.2" width="109.37" height="22.25" fill="url(#dt00)" stroke="#333" stroke-width="0.8"/>
<rect x="167.07" y="283.2" width="20.83" height="22.25" fill="url(#ds00)" stroke="#333" stroke-width="0.8"/>
<text x="112.38" y="297.93" font-size="10.5" text-anchor="middle" >84%</text>
<text x="177.48" y="297.93" font-size="10.5" text-anchor="middle" >16%</text>
<pattern id="dt01" x="65.6" y="311.85" width="30.4" height="15.4" patternUnits="userSpaceOnUse"><rect x="-0.5" y="-0.5" width="1" height="1.1" fill="#555"/><rect x="7.1" y="-0.5" width="1" height="1.1" fill="#555"/><rect x="14.7" y="-0.5" width="1" height="1.1" fill="#555"/><rect x="22.3" y="-0.5" width="1" height="1.1" fill="#555"/><rect x="3.3" y="3.2" width="1" height="1.1" fill="#555"/><rect x="10.9" y="3.2" width="1" height="1.1" fill="#555"/><rect x="18.5" y="3.2" width="1" height="1.1" fill="#555"/><rect x="26.1" y="3.2" width="1" height="1.1" fill="#555"/><rect x="-0.5" y="7.2" width="1" height="1.1" fill="#555"/><rect x="14.7" y="7.2" width="1" height="1.1" fill="#555"/><rect x="22.3" y="7.2" width="1" height="1.1" fill="#555"/><rect x="3.3" y="10.8" width="1" height="1.1" fill="#555"/></pattern>
<pattern id="ds01" x="100.67" y="311.45" width="9.2" height="9.3" patternUnits="userSpaceOnUse"><rect x="0" y="-0.6" width="4.4" height="1.2" fill="#000"/><rect x="0" y="8.7" width="4.4" height="1.2" fill="#000"/><rect x="4.6" y="4.05" width="4.4" height="1.2" fill="#000"/></pattern>
<rect x="57.7" y="311.45" width="44.27" height="23.05" fill="url(#dt01)" stroke="#333" stroke-width="0.8"/>
<rect x="101.97" y="311.45" width="85.93" height="23.05" fill="url(#ds01)" stroke="#333" stroke-width="0.8"/>
<text x="79.83" y="326.58" font-size="10.5" text-anchor="middle" >34%</text>
<text x="144.93" y="326.58" font-size="10.5" text-anchor="middle" >66%</text>
<line x1="167.07" y1="305.45" x2="101.97" y2="311.45" stroke="#000" stroke-width="0.8" />
<rect x="57.7" y="280.4" width="130.2" height="56.80000000000001" fill="none" stroke="#000" stroke-width="1.2"/>
<line x1="57.7" y1="280.4" x2="57.7" y2="275.9" stroke="#000" stroke-width="0.8" />
<line x1="57.7" y1="337.2" x2="57.7" y2="341.7" stroke="#000" stroke-width="0.8" />
<line x1="70.72" y1="280.4" x2="70.72" y2="277.8" stroke="#000" stroke-width="0.8" />
<line x1="70.72" y1="337.2" x2="70.72" y2="339.8" stroke="#000" stroke-width="0.8" />
<line x1="83.74" y1="280.4" x2="83.74" y2="275.9" stroke="#000" stroke-width="0.8" />
<line x1="83.74" y1="337.2" x2="83.74" y2="341.7" stroke="#000" stroke-width="0.8" />
<line x1="96.76" y1="280.4" x2="96.76" y2="277.8" stroke="#000" stroke-width="0.8" />
<line x1="96.76" y1="337.2" x2="96.76" y2="339.8" stroke="#000" stroke-width="0.8" />
<line x1="109.78" y1="280.4" x2="109.78" y2="275.9" stroke="#000" stroke-width="0.8" />
<line x1="109.78" y1="337.2" x2="109.78" y2="341.7" stroke="#000" stroke-width="0.8" />
<line x1="122.8" y1="280.4" x2="122.8" y2="277.8" stroke="#000" stroke-width="0.8" />
<line x1="122.8" y1="337.2" x2="122.8" y2="339.8" stroke="#000" stroke-width="0.8" />
<line x1="135.82" y1="280.4" x2="135.82" y2="275.9" stroke="#000" stroke-width="0.8" />
<line x1="135.82" y1="337.2" x2="135.82" y2="341.7" stroke="#000" stroke-width="0.8" />
<line x1="148.84" y1="280.4" x2="148.84" y2="277.8" stroke="#000" stroke-width="0.8" />
<line x1="148.84" y1="337.2" x2="148.84" y2="339.8" stroke="#000" stroke-width="0.8" />
<line x1="161.86" y1="280.4" x2="161.86" y2="275.9" stroke="#000" stroke-width="0.8" />
<line x1="161.86" y1="337.2" x2="161.86" y2="341.7" stroke="#000" stroke-width="0.8" />
<line x1="174.88" y1="280.4" x2="174.88" y2="277.8" stroke="#000" stroke-width="0.8" />
<line x1="174.88" y1="337.2" x2="174.88" y2="339.8" stroke="#000" stroke-width="0.8" />
<line x1="187.9" y1="280.4" x2="187.9" y2="275.9" stroke="#000" stroke-width="0.8" />
<line x1="187.9" y1="337.2" x2="187.9" y2="341.7" stroke="#000" stroke-width="0.8" />
<text x="57.7" y="353" font-size="10" text-anchor="middle" >0</text>
<text x="83.74" y="353" font-size="10" text-anchor="middle" >20</text>
<text x="109.78" y="353" font-size="10" text-anchor="middle" >40</text>
<text x="135.82" y="353" font-size="10" text-anchor="middle" >60</text>
<text x="161.86" y="353" font-size="10" text-anchor="middle" >80</text>
<text x="187.9" y="353" font-size="10" text-anchor="middle" >100</text>
<line x1="57.7" y1="294.4" x2="53.2" y2="294.4" stroke="#000" stroke-width="0.8" />
<line x1="187.9" y1="294.4" x2="192.4" y2="294.4" stroke="#000" stroke-width="0.8" />
<line x1="57.7" y1="322.8" x2="53.2" y2="322.8" stroke="#000" stroke-width="0.8" />
<line x1="187.9" y1="322.8" x2="192.4" y2="322.8" stroke="#000" stroke-width="0.8" />
<line x1="57.7" y1="280.4" x2="55.3" y2="280.4" stroke="#000" stroke-width="0.8" />
<line x1="187.9" y1="280.4" x2="190.3" y2="280.4" stroke="#000" stroke-width="0.8" />
<line x1="57.7" y1="308.6" x2="55.3" y2="308.6" stroke="#000" stroke-width="0.8" />
<line x1="187.9" y1="308.6" x2="190.3" y2="308.6" stroke="#000" stroke-width="0.8" />
<line x1="57.7" y1="337.2" x2="55.3" y2="337.2" stroke="#000" stroke-width="0.8" />
<line x1="187.9" y1="337.2" x2="190.3" y2="337.2" stroke="#000" stroke-width="0.8" />
<text x="122.8" y="370.7" font-size="10.3" text-anchor="middle" >Percentage</text>
<pattern id="dt10" x="228.7" y="283.6" width="30.4" height="15.4" patternUnits="userSpaceOnUse"><rect x="-0.5" y="-0.5" width="1" height="1.1" fill="#555"/><rect x="7.1" y="-0.5" width="1" height="1.1" fill="#555"/><rect x="14.7" y="-0.5" width="1" height="1.1" fill="#555"/><rect x="22.3" y="-0.5" width="1" height="1.1" fill="#555"/><rect x="3.3" y="3.2" width="1" height="1.1" fill="#555"/><rect x="10.9" y="3.2" width="1" height="1.1" fill="#555"/><rect x="18.5" y="3.2" width="1" height="1.1" fill="#555"/><rect x="26.1" y="3.2" width="1" height="1.1" fill="#555"/><rect x="-0.5" y="7.2" width="1" height="1.1" fill="#555"/><rect x="14.7" y="7.2" width="1" height="1.1" fill="#555"/><rect x="22.3" y="7.2" width="1" height="1.1" fill="#555"/><rect x="3.3" y="10.8" width="1" height="1.1" fill="#555"/></pattern>
<pattern id="ds10" x="334.18" y="283.2" width="9.2" height="9.3" patternUnits="userSpaceOnUse"><rect x="0" y="-0.6" width="4.4" height="1.2" fill="#000"/><rect x="0" y="8.7" width="4.4" height="1.2" fill="#000"/><rect x="4.6" y="4.05" width="4.4" height="1.2" fill="#000"/></pattern>
<rect x="220.8" y="283.2" width="106.68" height="22.25" fill="url(#dt10)" stroke="#333" stroke-width="0.8"/>
<rect x="327.48" y="283.2" width="23.42" height="22.25" fill="url(#ds10)" stroke="#333" stroke-width="0.8"/>
<text x="274.14" y="297.93" font-size="10.5" text-anchor="middle" >82%</text>
<text x="339.19" y="297.93" font-size="10.5" text-anchor="middle" >18%</text>
<pattern id="dt11" x="228.7" y="311.85" width="30.4" height="15.4" patternUnits="userSpaceOnUse"><rect x="-0.5" y="-0.5" width="1" height="1.1" fill="#555"/><rect x="7.1" y="-0.5" width="1" height="1.1" fill="#555"/><rect x="14.7" y="-0.5" width="1" height="1.1" fill="#555"/><rect x="22.3" y="-0.5" width="1" height="1.1" fill="#555"/><rect x="3.3" y="3.2" width="1" height="1.1" fill="#555"/><rect x="10.9" y="3.2" width="1" height="1.1" fill="#555"/><rect x="18.5" y="3.2" width="1" height="1.1" fill="#555"/><rect x="26.1" y="3.2" width="1" height="1.1" fill="#555"/><rect x="-0.5" y="7.2" width="1" height="1.1" fill="#555"/><rect x="14.7" y="7.2" width="1" height="1.1" fill="#555"/><rect x="22.3" y="7.2" width="1" height="1.1" fill="#555"/><rect x="3.3" y="10.8" width="1" height="1.1" fill="#555"/></pattern>
<pattern id="ds11" x="293.66" y="311.45" width="9.2" height="9.3" patternUnits="userSpaceOnUse"><rect x="0" y="-0.6" width="4.4" height="1.2" fill="#000"/><rect x="0" y="8.7" width="4.4" height="1.2" fill="#000"/><rect x="4.6" y="4.05" width="4.4" height="1.2" fill="#000"/></pattern>
<rect x="220.8" y="311.45" width="74.16" height="23.05" fill="url(#dt11)" stroke="#333" stroke-width="0.8"/>
<rect x="294.96" y="311.45" width="55.94" height="23.05" fill="url(#ds11)" stroke="#333" stroke-width="0.8"/>
<text x="257.88" y="326.58" font-size="10.5" text-anchor="middle" >57%</text>
<text x="322.93" y="326.58" font-size="10.5" text-anchor="middle" >43%</text>
<line x1="327.48" y1="305.45" x2="294.96" y2="311.45" stroke="#000" stroke-width="0.8" />
<rect x="220.8" y="280.4" width="130.09999999999997" height="56.80000000000001" fill="none" stroke="#000" stroke-width="1.2"/>
<line x1="220.8" y1="280.4" x2="220.8" y2="275.9" stroke="#000" stroke-width="0.8" />
<line x1="220.8" y1="337.2" x2="220.8" y2="341.7" stroke="#000" stroke-width="0.8" />
<line x1="226" y1="280.4" x2="226" y2="277.8" stroke="#000" stroke-width="0.8" />
<line x1="226" y1="337.2" x2="226" y2="339.8" stroke="#000" stroke-width="0.8" />
<line x1="231.21" y1="280.4" x2="231.21" y2="277.8" stroke="#000" stroke-width="0.8" />
<line x1="231.21" y1="337.2" x2="231.21" y2="339.8" stroke="#000" stroke-width="0.8" />
<line x1="236.41" y1="280.4" x2="236.41" y2="277.8" stroke="#000" stroke-width="0.8" />
<line x1="236.41" y1="337.2" x2="236.41" y2="339.8" stroke="#000" stroke-width="0.8" />
<line x1="241.62" y1="280.4" x2="241.62" y2="277.8" stroke="#000" stroke-width="0.8" />
<line x1="241.62" y1="337.2" x2="241.62" y2="339.8" stroke="#000" stroke-width="0.8" />
<line x1="246.82" y1="280.4" x2="246.82" y2="275.9" stroke="#000" stroke-width="0.8" />
<line x1="246.82" y1="337.2" x2="246.82" y2="341.7" stroke="#000" stroke-width="0.8" />
<line x1="252.02" y1="280.4" x2="252.02" y2="277.8" stroke="#000" stroke-width="0.8" />
<line x1="252.02" y1="337.2" x2="252.02" y2="339.8" stroke="#000" stroke-width="0.8" />
<line x1="257.23" y1="280.4" x2="257.23" y2="277.8" stroke="#000" stroke-width="0.8" />
<line x1="257.23" y1="337.2" x2="257.23" y2="339.8" stroke="#000" stroke-width="0.8" />
<line x1="262.43" y1="280.4" x2="262.43" y2="277.8" stroke="#000" stroke-width="0.8" />
<line x1="262.43" y1="337.2" x2="262.43" y2="339.8" stroke="#000" stroke-width="0.8" />
<line x1="267.64" y1="280.4" x2="267.64" y2="277.8" stroke="#000" stroke-width="0.8" />
<line x1="267.64" y1="337.2" x2="267.64" y2="339.8" stroke="#000" stroke-width="0.8" />
<line x1="272.84" y1="280.4" x2="272.84" y2="275.9" stroke="#000" stroke-width="0.8" />
<line x1="272.84" y1="337.2" x2="272.84" y2="341.7" stroke="#000" stroke-width="0.8" />
<line x1="278.04" y1="280.4" x2="278.04" y2="277.8" stroke="#000" stroke-width="0.8" />
<line x1="278.04" y1="337.2" x2="278.04" y2="339.8" stroke="#000" stroke-width="0.8" />
<line x1="283.25" y1="280.4" x2="283.25" y2="277.8" stroke="#000" stroke-width="0.8" />
<line x1="283.25" y1="337.2" x2="283.25" y2="339.8" stroke="#000" stroke-width="0.8" />
<line x1="288.45" y1="280.4" x2="288.45" y2="277.8" stroke="#000" stroke-width="0.8" />
<line x1="288.45" y1="337.2" x2="288.45" y2="339.8" stroke="#000" stroke-width="0.8" />
<line x1="293.66" y1="280.4" x2="293.66" y2="277.8" stroke="#000" stroke-width="0.8" />
<line x1="293.66" y1="337.2" x2="293.66" y2="339.8" stroke="#000" stroke-width="0.8" />
<line x1="298.86" y1="280.4" x2="298.86" y2="275.9" stroke="#000" stroke-width="0.8" />
<line x1="298.86" y1="337.2" x2="298.86" y2="341.7" stroke="#000" stroke-width="0.8" />
<line x1="304.06" y1="280.4" x2="304.06" y2="277.8" stroke="#000" stroke-width="0.8" />
<line x1="304.06" y1="337.2" x2="304.06" y2="339.8" stroke="#000" stroke-width="0.8" />
<line x1="309.27" y1="280.4" x2="309.27" y2="277.8" stroke="#000" stroke-width="0.8" />
<line x1="309.27" y1="337.2" x2="309.27" y2="339.8" stroke="#000" stroke-width="0.8" />
<line x1="314.47" y1="280.4" x2="314.47" y2="277.8" stroke="#000" stroke-width="0.8" />
<line x1="314.47" y1="337.2" x2="314.47" y2="339.8" stroke="#000" stroke-width="0.8" />
<line x1="319.68" y1="280.4" x2="319.68" y2="277.8" stroke="#000" stroke-width="0.8" />
<line x1="319.68" y1="337.2" x2="319.68" y2="339.8" stroke="#000" stroke-width="0.8" />
<line x1="324.88" y1="280.4" x2="324.88" y2="275.9" stroke="#000" stroke-width="0.8" />
<line x1="324.88" y1="337.2" x2="324.88" y2="341.7" stroke="#000" stroke-width="0.8" />
<line x1="330.08" y1="280.4" x2="330.08" y2="277.8" stroke="#000" stroke-width="0.8" />
<line x1="330.08" y1="337.2" x2="330.08" y2="339.8" stroke="#000" stroke-width="0.8" />
<line x1="335.29" y1="280.4" x2="335.29" y2="277.8" stroke="#000" stroke-width="0.8" />
<line x1="335.29" y1="337.2" x2="335.29" y2="339.8" stroke="#000" stroke-width="0.8" />
<line x1="340.49" y1="280.4" x2="340.49" y2="277.8" stroke="#000" stroke-width="0.8" />
<line x1="340.49" y1="337.2" x2="340.49" y2="339.8" stroke="#000" stroke-width="0.8" />
<line x1="345.7" y1="280.4" x2="345.7" y2="277.8" stroke="#000" stroke-width="0.8" />
<line x1="345.7" y1="337.2" x2="345.7" y2="339.8" stroke="#000" stroke-width="0.8" />
<line x1="350.9" y1="280.4" x2="350.9" y2="275.9" stroke="#000" stroke-width="0.8" />
<line x1="350.9" y1="337.2" x2="350.9" y2="341.7" stroke="#000" stroke-width="0.8" />
<text x="220.8" y="353" font-size="10" text-anchor="middle" >0</text>
<text x="246.82" y="353" font-size="10" text-anchor="middle" >20</text>
<text x="272.84" y="353" font-size="10" text-anchor="middle" >40</text>
<text x="298.86" y="353" font-size="10" text-anchor="middle" >60</text>
<text x="324.88" y="353" font-size="10" text-anchor="middle" >80</text>
<text x="350.9" y="353" font-size="10" text-anchor="middle" >100</text>
<line x1="220.8" y1="294.4" x2="216.3" y2="294.4" stroke="#000" stroke-width="0.8" />
<line x1="350.9" y1="294.4" x2="355.4" y2="294.4" stroke="#000" stroke-width="0.8" />
<line x1="220.8" y1="322.8" x2="216.3" y2="322.8" stroke="#000" stroke-width="0.8" />
<line x1="350.9" y1="322.8" x2="355.4" y2="322.8" stroke="#000" stroke-width="0.8" />
<line x1="220.8" y1="280.4" x2="218.4" y2="280.4" stroke="#000" stroke-width="0.8" />
<line x1="350.9" y1="280.4" x2="353.3" y2="280.4" stroke="#000" stroke-width="0.8" />
<line x1="220.8" y1="308.6" x2="218.4" y2="308.6" stroke="#000" stroke-width="0.8" />
<line x1="350.9" y1="308.6" x2="353.3" y2="308.6" stroke="#000" stroke-width="0.8" />
<line x1="220.8" y1="337.2" x2="218.4" y2="337.2" stroke="#000" stroke-width="0.8" />
<line x1="350.9" y1="337.2" x2="353.3" y2="337.2" stroke="#000" stroke-width="0.8" />
<text x="285.85" y="370.7" font-size="10.3" text-anchor="middle" >Percentage</text>
<pattern id="dt20" x="391.5" y="283.6" width="30.4" height="15.4" patternUnits="userSpaceOnUse"><rect x="-0.5" y="-0.5" width="1" height="1.1" fill="#555"/><rect x="7.1" y="-0.5" width="1" height="1.1" fill="#555"/><rect x="14.7" y="-0.5" width="1" height="1.1" fill="#555"/><rect x="22.3" y="-0.5" width="1" height="1.1" fill="#555"/><rect x="3.3" y="3.2" width="1" height="1.1" fill="#555"/><rect x="10.9" y="3.2" width="1" height="1.1" fill="#555"/><rect x="18.5" y="3.2" width="1" height="1.1" fill="#555"/><rect x="26.1" y="3.2" width="1" height="1.1" fill="#555"/><rect x="-0.5" y="7.2" width="1" height="1.1" fill="#555"/><rect x="14.7" y="7.2" width="1" height="1.1" fill="#555"/><rect x="22.3" y="7.2" width="1" height="1.1" fill="#555"/><rect x="3.3" y="10.8" width="1" height="1.1" fill="#555"/></pattern>
<pattern id="ds20" x="484.12" y="283.2" width="9.2" height="9.3" patternUnits="userSpaceOnUse"><rect x="0" y="-0.6" width="4.4" height="1.2" fill="#000"/><rect x="0" y="8.7" width="4.4" height="1.2" fill="#000"/><rect x="4.6" y="4.05" width="4.4" height="1.2" fill="#000"/></pattern>
<rect x="383.6" y="283.2" width="93.82" height="22.25" fill="url(#dt20)" stroke="#333" stroke-width="0.8"/>
<rect x="477.42" y="283.2" width="36.48" height="22.25" fill="url(#ds20)" stroke="#333" stroke-width="0.8"/>
<text x="430.51" y="297.93" font-size="10.5" text-anchor="middle" >72%</text>
<text x="495.66" y="297.93" font-size="10.5" text-anchor="middle" >28%</text>
<pattern id="dt21" x="391.5" y="311.85" width="30.4" height="15.4" patternUnits="userSpaceOnUse"><rect x="-0.5" y="-0.5" width="1" height="1.1" fill="#555"/><rect x="7.1" y="-0.5" width="1" height="1.1" fill="#555"/><rect x="14.7" y="-0.5" width="1" height="1.1" fill="#555"/><rect x="22.3" y="-0.5" width="1" height="1.1" fill="#555"/><rect x="3.3" y="3.2" width="1" height="1.1" fill="#555"/><rect x="10.9" y="3.2" width="1" height="1.1" fill="#555"/><rect x="18.5" y="3.2" width="1" height="1.1" fill="#555"/><rect x="26.1" y="3.2" width="1" height="1.1" fill="#555"/><rect x="-0.5" y="7.2" width="1" height="1.1" fill="#555"/><rect x="14.7" y="7.2" width="1" height="1.1" fill="#555"/><rect x="22.3" y="7.2" width="1" height="1.1" fill="#555"/><rect x="3.3" y="10.8" width="1" height="1.1" fill="#555"/></pattern>
<pattern id="ds21" x="472.21" y="311.45" width="9.2" height="9.3" patternUnits="userSpaceOnUse"><rect x="0" y="-0.6" width="4.4" height="1.2" fill="#000"/><rect x="0" y="8.7" width="4.4" height="1.2" fill="#000"/><rect x="4.6" y="4.05" width="4.4" height="1.2" fill="#000"/></pattern>
<rect x="383.6" y="311.45" width="89.91" height="23.05" fill="url(#dt21)" stroke="#333" stroke-width="0.8"/>
<rect x="473.51" y="311.45" width="40.39" height="23.05" fill="url(#ds21)" stroke="#333" stroke-width="0.8"/>
<text x="428.55" y="326.58" font-size="10.5" text-anchor="middle" >69%</text>
<text x="493.7" y="326.58" font-size="10.5" text-anchor="middle" >31%</text>
<line x1="477.42" y1="305.45" x2="473.51" y2="311.45" stroke="#000" stroke-width="0.8" />
<rect x="383.6" y="280.4" width="130.29999999999995" height="56.80000000000001" fill="none" stroke="#000" stroke-width="1.2"/>
<line x1="383.6" y1="280.4" x2="383.6" y2="275.9" stroke="#000" stroke-width="0.8" />
<line x1="383.6" y1="337.2" x2="383.6" y2="341.7" stroke="#000" stroke-width="0.8" />
<line x1="388.81" y1="280.4" x2="388.81" y2="277.8" stroke="#000" stroke-width="0.8" />
<line x1="388.81" y1="337.2" x2="388.81" y2="339.8" stroke="#000" stroke-width="0.8" />
<line x1="394.02" y1="280.4" x2="394.02" y2="277.8" stroke="#000" stroke-width="0.8" />
<line x1="394.02" y1="337.2" x2="394.02" y2="339.8" stroke="#000" stroke-width="0.8" />
<line x1="399.24" y1="280.4" x2="399.24" y2="277.8" stroke="#000" stroke-width="0.8" />
<line x1="399.24" y1="337.2" x2="399.24" y2="339.8" stroke="#000" stroke-width="0.8" />
<line x1="404.45" y1="280.4" x2="404.45" y2="277.8" stroke="#000" stroke-width="0.8" />
<line x1="404.45" y1="337.2" x2="404.45" y2="339.8" stroke="#000" stroke-width="0.8" />
<line x1="409.66" y1="280.4" x2="409.66" y2="275.9" stroke="#000" stroke-width="0.8" />
<line x1="409.66" y1="337.2" x2="409.66" y2="341.7" stroke="#000" stroke-width="0.8" />
<line x1="414.87" y1="280.4" x2="414.87" y2="277.8" stroke="#000" stroke-width="0.8" />
<line x1="414.87" y1="337.2" x2="414.87" y2="339.8" stroke="#000" stroke-width="0.8" />
<line x1="420.08" y1="280.4" x2="420.08" y2="277.8" stroke="#000" stroke-width="0.8" />
<line x1="420.08" y1="337.2" x2="420.08" y2="339.8" stroke="#000" stroke-width="0.8" />
<line x1="425.3" y1="280.4" x2="425.3" y2="277.8" stroke="#000" stroke-width="0.8" />
<line x1="425.3" y1="337.2" x2="425.3" y2="339.8" stroke="#000" stroke-width="0.8" />
<line x1="430.51" y1="280.4" x2="430.51" y2="277.8" stroke="#000" stroke-width="0.8" />
<line x1="430.51" y1="337.2" x2="430.51" y2="339.8" stroke="#000" stroke-width="0.8" />
<line x1="435.72" y1="280.4" x2="435.72" y2="275.9" stroke="#000" stroke-width="0.8" />
<line x1="435.72" y1="337.2" x2="435.72" y2="341.7" stroke="#000" stroke-width="0.8" />
<line x1="440.93" y1="280.4" x2="440.93" y2="277.8" stroke="#000" stroke-width="0.8" />
<line x1="440.93" y1="337.2" x2="440.93" y2="339.8" stroke="#000" stroke-width="0.8" />
<line x1="446.14" y1="280.4" x2="446.14" y2="277.8" stroke="#000" stroke-width="0.8" />
<line x1="446.14" y1="337.2" x2="446.14" y2="339.8" stroke="#000" stroke-width="0.8" />
<line x1="451.36" y1="280.4" x2="451.36" y2="277.8" stroke="#000" stroke-width="0.8" />
<line x1="451.36" y1="337.2" x2="451.36" y2="339.8" stroke="#000" stroke-width="0.8" />
<line x1="456.57" y1="280.4" x2="456.57" y2="277.8" stroke="#000" stroke-width="0.8" />
<line x1="456.57" y1="337.2" x2="456.57" y2="339.8" stroke="#000" stroke-width="0.8" />
<line x1="461.78" y1="280.4" x2="461.78" y2="275.9" stroke="#000" stroke-width="0.8" />
<line x1="461.78" y1="337.2" x2="461.78" y2="341.7" stroke="#000" stroke-width="0.8" />
<line x1="466.99" y1="280.4" x2="466.99" y2="277.8" stroke="#000" stroke-width="0.8" />
<line x1="466.99" y1="337.2" x2="466.99" y2="339.8" stroke="#000" stroke-width="0.8" />
<line x1="472.2" y1="280.4" x2="472.2" y2="277.8" stroke="#000" stroke-width="0.8" />
<line x1="472.2" y1="337.2" x2="472.2" y2="339.8" stroke="#000" stroke-width="0.8" />
<line x1="477.42" y1="280.4" x2="477.42" y2="277.8" stroke="#000" stroke-width="0.8" />
<line x1="477.42" y1="337.2" x2="477.42" y2="339.8" stroke="#000" stroke-width="0.8" />
<line x1="482.63" y1="280.4" x2="482.63" y2="277.8" stroke="#000" stroke-width="0.8" />
<line x1="482.63" y1="337.2" x2="482.63" y2="339.8" stroke="#000" stroke-width="0.8" />
<line x1="487.84" y1="280.4" x2="487.84" y2="275.9" stroke="#000" stroke-width="0.8" />
<line x1="487.84" y1="337.2" x2="487.84" y2="341.7" stroke="#000" stroke-width="0.8" />
<line x1="493.05" y1="280.4" x2="493.05" y2="277.8" stroke="#000" stroke-width="0.8" />
<line x1="493.05" y1="337.2" x2="493.05" y2="339.8" stroke="#000" stroke-width="0.8" />
<line x1="498.26" y1="280.4" x2="498.26" y2="277.8" stroke="#000" stroke-width="0.8" />
<line x1="498.26" y1="337.2" x2="498.26" y2="339.8" stroke="#000" stroke-width="0.8" />
<line x1="503.48" y1="280.4" x2="503.48" y2="277.8" stroke="#000" stroke-width="0.8" />
<line x1="503.48" y1="337.2" x2="503.48" y2="339.8" stroke="#000" stroke-width="0.8" />
<line x1="508.69" y1="280.4" x2="508.69" y2="277.8" stroke="#000" stroke-width="0.8" />
<line x1="508.69" y1="337.2" x2="508.69" y2="339.8" stroke="#000" stroke-width="0.8" />
<line x1="513.9" y1="280.4" x2="513.9" y2="275.9" stroke="#000" stroke-width="0.8" />
<line x1="513.9" y1="337.2" x2="513.9" y2="341.7" stroke="#000" stroke-width="0.8" />
<text x="383.6" y="353" font-size="10" text-anchor="middle" >0</text>
<text x="409.66" y="353" font-size="10" text-anchor="middle" >20</text>
<text x="435.72" y="353" font-size="10" text-anchor="middle" >40</text>
<text x="461.78" y="353" font-size="10" text-anchor="middle" >60</text>
<text x="487.84" y="353" font-size="10" text-anchor="middle" >80</text>
<text x="513.9" y="353" font-size="10" text-anchor="middle" >100</text>
<line x1="383.6" y1="294.4" x2="379.1" y2="294.4" stroke="#000" stroke-width="0.8" />
<line x1="513.9" y1="294.4" x2="518.4" y2="294.4" stroke="#000" stroke-width="0.8" />
<line x1="383.6" y1="322.8" x2="379.1" y2="322.8" stroke="#000" stroke-width="0.8" />
<line x1="513.9" y1="322.8" x2="518.4" y2="322.8" stroke="#000" stroke-width="0.8" />
<line x1="383.6" y1="280.4" x2="381.2" y2="280.4" stroke="#000" stroke-width="0.8" />
<line x1="513.9" y1="280.4" x2="516.3" y2="280.4" stroke="#000" stroke-width="0.8" />
<line x1="383.6" y1="308.6" x2="381.2" y2="308.6" stroke="#000" stroke-width="0.8" />
<line x1="513.9" y1="308.6" x2="516.3" y2="308.6" stroke="#000" stroke-width="0.8" />
<line x1="383.6" y1="337.2" x2="381.2" y2="337.2" stroke="#000" stroke-width="0.8" />
<line x1="513.9" y1="337.2" x2="516.3" y2="337.2" stroke="#000" stroke-width="0.8" />
<text x="448.75" y="370.7" font-size="10.3" text-anchor="middle" >Percentage</text>
<pattern id="dt30" x="554.8" y="283.6" width="30.4" height="15.4" patternUnits="userSpaceOnUse"><rect x="-0.5" y="-0.5" width="1" height="1.1" fill="#555"/><rect x="7.1" y="-0.5" width="1" height="1.1" fill="#555"/><rect x="14.7" y="-0.5" width="1" height="1.1" fill="#555"/><rect x="22.3" y="-0.5" width="1" height="1.1" fill="#555"/><rect x="3.3" y="3.2" width="1" height="1.1" fill="#555"/><rect x="10.9" y="3.2" width="1" height="1.1" fill="#555"/><rect x="18.5" y="3.2" width="1" height="1.1" fill="#555"/><rect x="26.1" y="3.2" width="1" height="1.1" fill="#555"/><rect x="-0.5" y="7.2" width="1" height="1.1" fill="#555"/><rect x="14.7" y="7.2" width="1" height="1.1" fill="#555"/><rect x="22.3" y="7.2" width="1" height="1.1" fill="#555"/><rect x="3.3" y="10.8" width="1" height="1.1" fill="#555"/></pattern>
<pattern id="ds30" x="660.2" y="283.2" width="9.2" height="9.3" patternUnits="userSpaceOnUse"><rect x="0" y="-0.6" width="4.4" height="1.2" fill="#000"/><rect x="0" y="8.7" width="4.4" height="1.2" fill="#000"/><rect x="4.6" y="4.05" width="4.4" height="1.2" fill="#000"/></pattern>
<rect x="546.9" y="283.2" width="106.6" height="22.25" fill="url(#dt30)" stroke="#333" stroke-width="0.8"/>
<rect x="653.5" y="283.2" width="23.4" height="22.25" fill="url(#ds30)" stroke="#333" stroke-width="0.8"/>
<text x="600.2" y="297.93" font-size="10.5" text-anchor="middle" >82%</text>
<text x="665.2" y="297.93" font-size="10.5" text-anchor="middle" >18%</text>
<pattern id="dt31" x="554.8" y="311.85" width="30.4" height="15.4" patternUnits="userSpaceOnUse"><rect x="-0.5" y="-0.5" width="1" height="1.1" fill="#555"/><rect x="7.1" y="-0.5" width="1" height="1.1" fill="#555"/><rect x="14.7" y="-0.5" width="1" height="1.1" fill="#555"/><rect x="22.3" y="-0.5" width="1" height="1.1" fill="#555"/><rect x="3.3" y="3.2" width="1" height="1.1" fill="#555"/><rect x="10.9" y="3.2" width="1" height="1.1" fill="#555"/><rect x="18.5" y="3.2" width="1" height="1.1" fill="#555"/><rect x="26.1" y="3.2" width="1" height="1.1" fill="#555"/><rect x="-0.5" y="7.2" width="1" height="1.1" fill="#555"/><rect x="14.7" y="7.2" width="1" height="1.1" fill="#555"/><rect x="22.3" y="7.2" width="1" height="1.1" fill="#555"/><rect x="3.3" y="10.8" width="1" height="1.1" fill="#555"/></pattern>
<pattern id="ds31" x="635.3" y="311.45" width="9.2" height="9.3" patternUnits="userSpaceOnUse"><rect x="0" y="-0.6" width="4.4" height="1.2" fill="#000"/><rect x="0" y="8.7" width="4.4" height="1.2" fill="#000"/><rect x="4.6" y="4.05" width="4.4" height="1.2" fill="#000"/></pattern>
<rect x="546.9" y="311.45" width="89.7" height="23.05" fill="url(#dt31)" stroke="#333" stroke-width="0.8"/>
<rect x="636.6" y="311.45" width="40.3" height="23.05" fill="url(#ds31)" stroke="#333" stroke-width="0.8"/>
<text x="591.75" y="326.58" font-size="10.5" text-anchor="middle" >69%</text>
<text x="656.75" y="326.58" font-size="10.5" text-anchor="middle" >31%</text>
<line x1="653.5" y1="305.45" x2="636.6" y2="311.45" stroke="#000" stroke-width="0.8" />
<rect x="546.9" y="280.4" width="130.0" height="56.80000000000001" fill="none" stroke="#000" stroke-width="1.2"/>
<line x1="546.9" y1="280.4" x2="546.9" y2="275.9" stroke="#000" stroke-width="0.8" />
<line x1="546.9" y1="337.2" x2="546.9" y2="341.7" stroke="#000" stroke-width="0.8" />
<line x1="552.1" y1="280.4" x2="552.1" y2="277.8" stroke="#000" stroke-width="0.8" />
<line x1="552.1" y1="337.2" x2="552.1" y2="339.8" stroke="#000" stroke-width="0.8" />
<line x1="557.3" y1="280.4" x2="557.3" y2="277.8" stroke="#000" stroke-width="0.8" />
<line x1="557.3" y1="337.2" x2="557.3" y2="339.8" stroke="#000" stroke-width="0.8" />
<line x1="562.5" y1="280.4" x2="562.5" y2="277.8" stroke="#000" stroke-width="0.8" />
<line x1="562.5" y1="337.2" x2="562.5" y2="339.8" stroke="#000" stroke-width="0.8" />
<line x1="567.7" y1="280.4" x2="567.7" y2="277.8" stroke="#000" stroke-width="0.8" />
<line x1="567.7" y1="337.2" x2="567.7" y2="339.8" stroke="#000" stroke-width="0.8" />
<line x1="572.9" y1="280.4" x2="572.9" y2="275.9" stroke="#000" stroke-width="0.8" />
<line x1="572.9" y1="337.2" x2="572.9" y2="341.7" stroke="#000" stroke-width="0.8" />
<line x1="578.1" y1="280.4" x2="578.1" y2="277.8" stroke="#000" stroke-width="0.8" />
<line x1="578.1" y1="337.2" x2="578.1" y2="339.8" stroke="#000" stroke-width="0.8" />
<line x1="583.3" y1="280.4" x2="583.3" y2="277.8" stroke="#000" stroke-width="0.8" />
<line x1="583.3" y1="337.2" x2="583.3" y2="339.8" stroke="#000" stroke-width="0.8" />
<line x1="588.5" y1="280.4" x2="588.5" y2="277.8" stroke="#000" stroke-width="0.8" />
<line x1="588.5" y1="337.2" x2="588.5" y2="339.8" stroke="#000" stroke-width="0.8" />
<line x1="593.7" y1="280.4" x2="593.7" y2="277.8" stroke="#000" stroke-width="0.8" />
<line x1="593.7" y1="337.2" x2="593.7" y2="339.8" stroke="#000" stroke-width="0.8" />
<line x1="598.9" y1="280.4" x2="598.9" y2="275.9" stroke="#000" stroke-width="0.8" />
<line x1="598.9" y1="337.2" x2="598.9" y2="341.7" stroke="#000" stroke-width="0.8" />
<line x1="604.1" y1="280.4" x2="604.1" y2="277.8" stroke="#000" stroke-width="0.8" />
<line x1="604.1" y1="337.2" x2="604.1" y2="339.8" stroke="#000" stroke-width="0.8" />
<line x1="609.3" y1="280.4" x2="609.3" y2="277.8" stroke="#000" stroke-width="0.8" />
<line x1="609.3" y1="337.2" x2="609.3" y2="339.8" stroke="#000" stroke-width="0.8" />
<line x1="614.5" y1="280.4" x2="614.5" y2="277.8" stroke="#000" stroke-width="0.8" />
<line x1="614.5" y1="337.2" x2="614.5" y2="339.8" stroke="#000" stroke-width="0.8" />
<line x1="619.7" y1="280.4" x2="619.7" y2="277.8" stroke="#000" stroke-width="0.8" />
<line x1="619.7" y1="337.2" x2="619.7" y2="339.8" stroke="#000" stroke-width="0.8" />
<line x1="624.9" y1="280.4" x2="624.9" y2="275.9" stroke="#000" stroke-width="0.8" />
<line x1="624.9" y1="337.2" x2="624.9" y2="341.7" stroke="#000" stroke-width="0.8" />
<line x1="630.1" y1="280.4" x2="630.1" y2="277.8" stroke="#000" stroke-width="0.8" />
<line x1="630.1" y1="337.2" x2="630.1" y2="339.8" stroke="#000" stroke-width="0.8" />
<line x1="635.3" y1="280.4" x2="635.3" y2="277.8" stroke="#000" stroke-width="0.8" />
<line x1="635.3" y1="337.2" x2="635.3" y2="339.8" stroke="#000" stroke-width="0.8" />
<line x1="640.5" y1="280.4" x2="640.5" y2="277.8" stroke="#000" stroke-width="0.8" />
<line x1="640.5" y1="337.2" x2="640.5" y2="339.8" stroke="#000" stroke-width="0.8" />
<line x1="645.7" y1="280.4" x2="645.7" y2="277.8" stroke="#000" stroke-width="0.8" />
<line x1="645.7" y1="337.2" x2="645.7" y2="339.8" stroke="#000" stroke-width="0.8" />
<line x1="650.9" y1="280.4" x2="650.9" y2="275.9" stroke="#000" stroke-width="0.8" />
<line x1="650.9" y1="337.2" x2="650.9" y2="341.7" stroke="#000" stroke-width="0.8" />
<line x1="656.1" y1="280.4" x2="656.1" y2="277.8" stroke="#000" stroke-width="0.8" />
<line x1="656.1" y1="337.2" x2="656.1" y2="339.8" stroke="#000" stroke-width="0.8" />
<line x1="661.3" y1="280.4" x2="661.3" y2="277.8" stroke="#000" stroke-width="0.8" />
<line x1="661.3" y1="337.2" x2="661.3" y2="339.8" stroke="#000" stroke-width="0.8" />
<line x1="666.5" y1="280.4" x2="666.5" y2="277.8" stroke="#000" stroke-width="0.8" />
<line x1="666.5" y1="337.2" x2="666.5" y2="339.8" stroke="#000" stroke-width="0.8" />
<line x1="671.7" y1="280.4" x2="671.7" y2="277.8" stroke="#000" stroke-width="0.8" />
<line x1="671.7" y1="337.2" x2="671.7" y2="339.8" stroke="#000" stroke-width="0.8" />
<line x1="676.9" y1="280.4" x2="676.9" y2="275.9" stroke="#000" stroke-width="0.8" />
<line x1="676.9" y1="337.2" x2="676.9" y2="341.7" stroke="#000" stroke-width="0.8" />
<text x="546.9" y="353" font-size="10" text-anchor="middle" >0</text>
<text x="572.9" y="353" font-size="10" text-anchor="middle" >20</text>
<text x="598.9" y="353" font-size="10" text-anchor="middle" >40</text>
<text x="624.9" y="353" font-size="10" text-anchor="middle" >60</text>
<text x="650.9" y="353" font-size="10" text-anchor="middle" >80</text>
<text x="676.9" y="353" font-size="10" text-anchor="middle" >100</text>
<line x1="546.9" y1="294.4" x2="542.4" y2="294.4" stroke="#000" stroke-width="0.8" />
<line x1="676.9" y1="294.4" x2="681.4" y2="294.4" stroke="#000" stroke-width="0.8" />
<line x1="546.9" y1="322.8" x2="542.4" y2="322.8" stroke="#000" stroke-width="0.8" />
<line x1="676.9" y1="322.8" x2="681.4" y2="322.8" stroke="#000" stroke-width="0.8" />
<line x1="546.9" y1="280.4" x2="544.5" y2="280.4" stroke="#000" stroke-width="0.8" />
<line x1="676.9" y1="280.4" x2="679.3" y2="280.4" stroke="#000" stroke-width="0.8" />
<line x1="546.9" y1="308.6" x2="544.5" y2="308.6" stroke="#000" stroke-width="0.8" />
<line x1="676.9" y1="308.6" x2="679.3" y2="308.6" stroke="#000" stroke-width="0.8" />
<line x1="546.9" y1="337.2" x2="544.5" y2="337.2" stroke="#000" stroke-width="0.8" />
<line x1="676.9" y1="337.2" x2="679.3" y2="337.2" stroke="#000" stroke-width="0.8" />
<text x="611.9" y="370.7" font-size="10.3" text-anchor="middle" >Percentage</text>
</svg></body></html>
